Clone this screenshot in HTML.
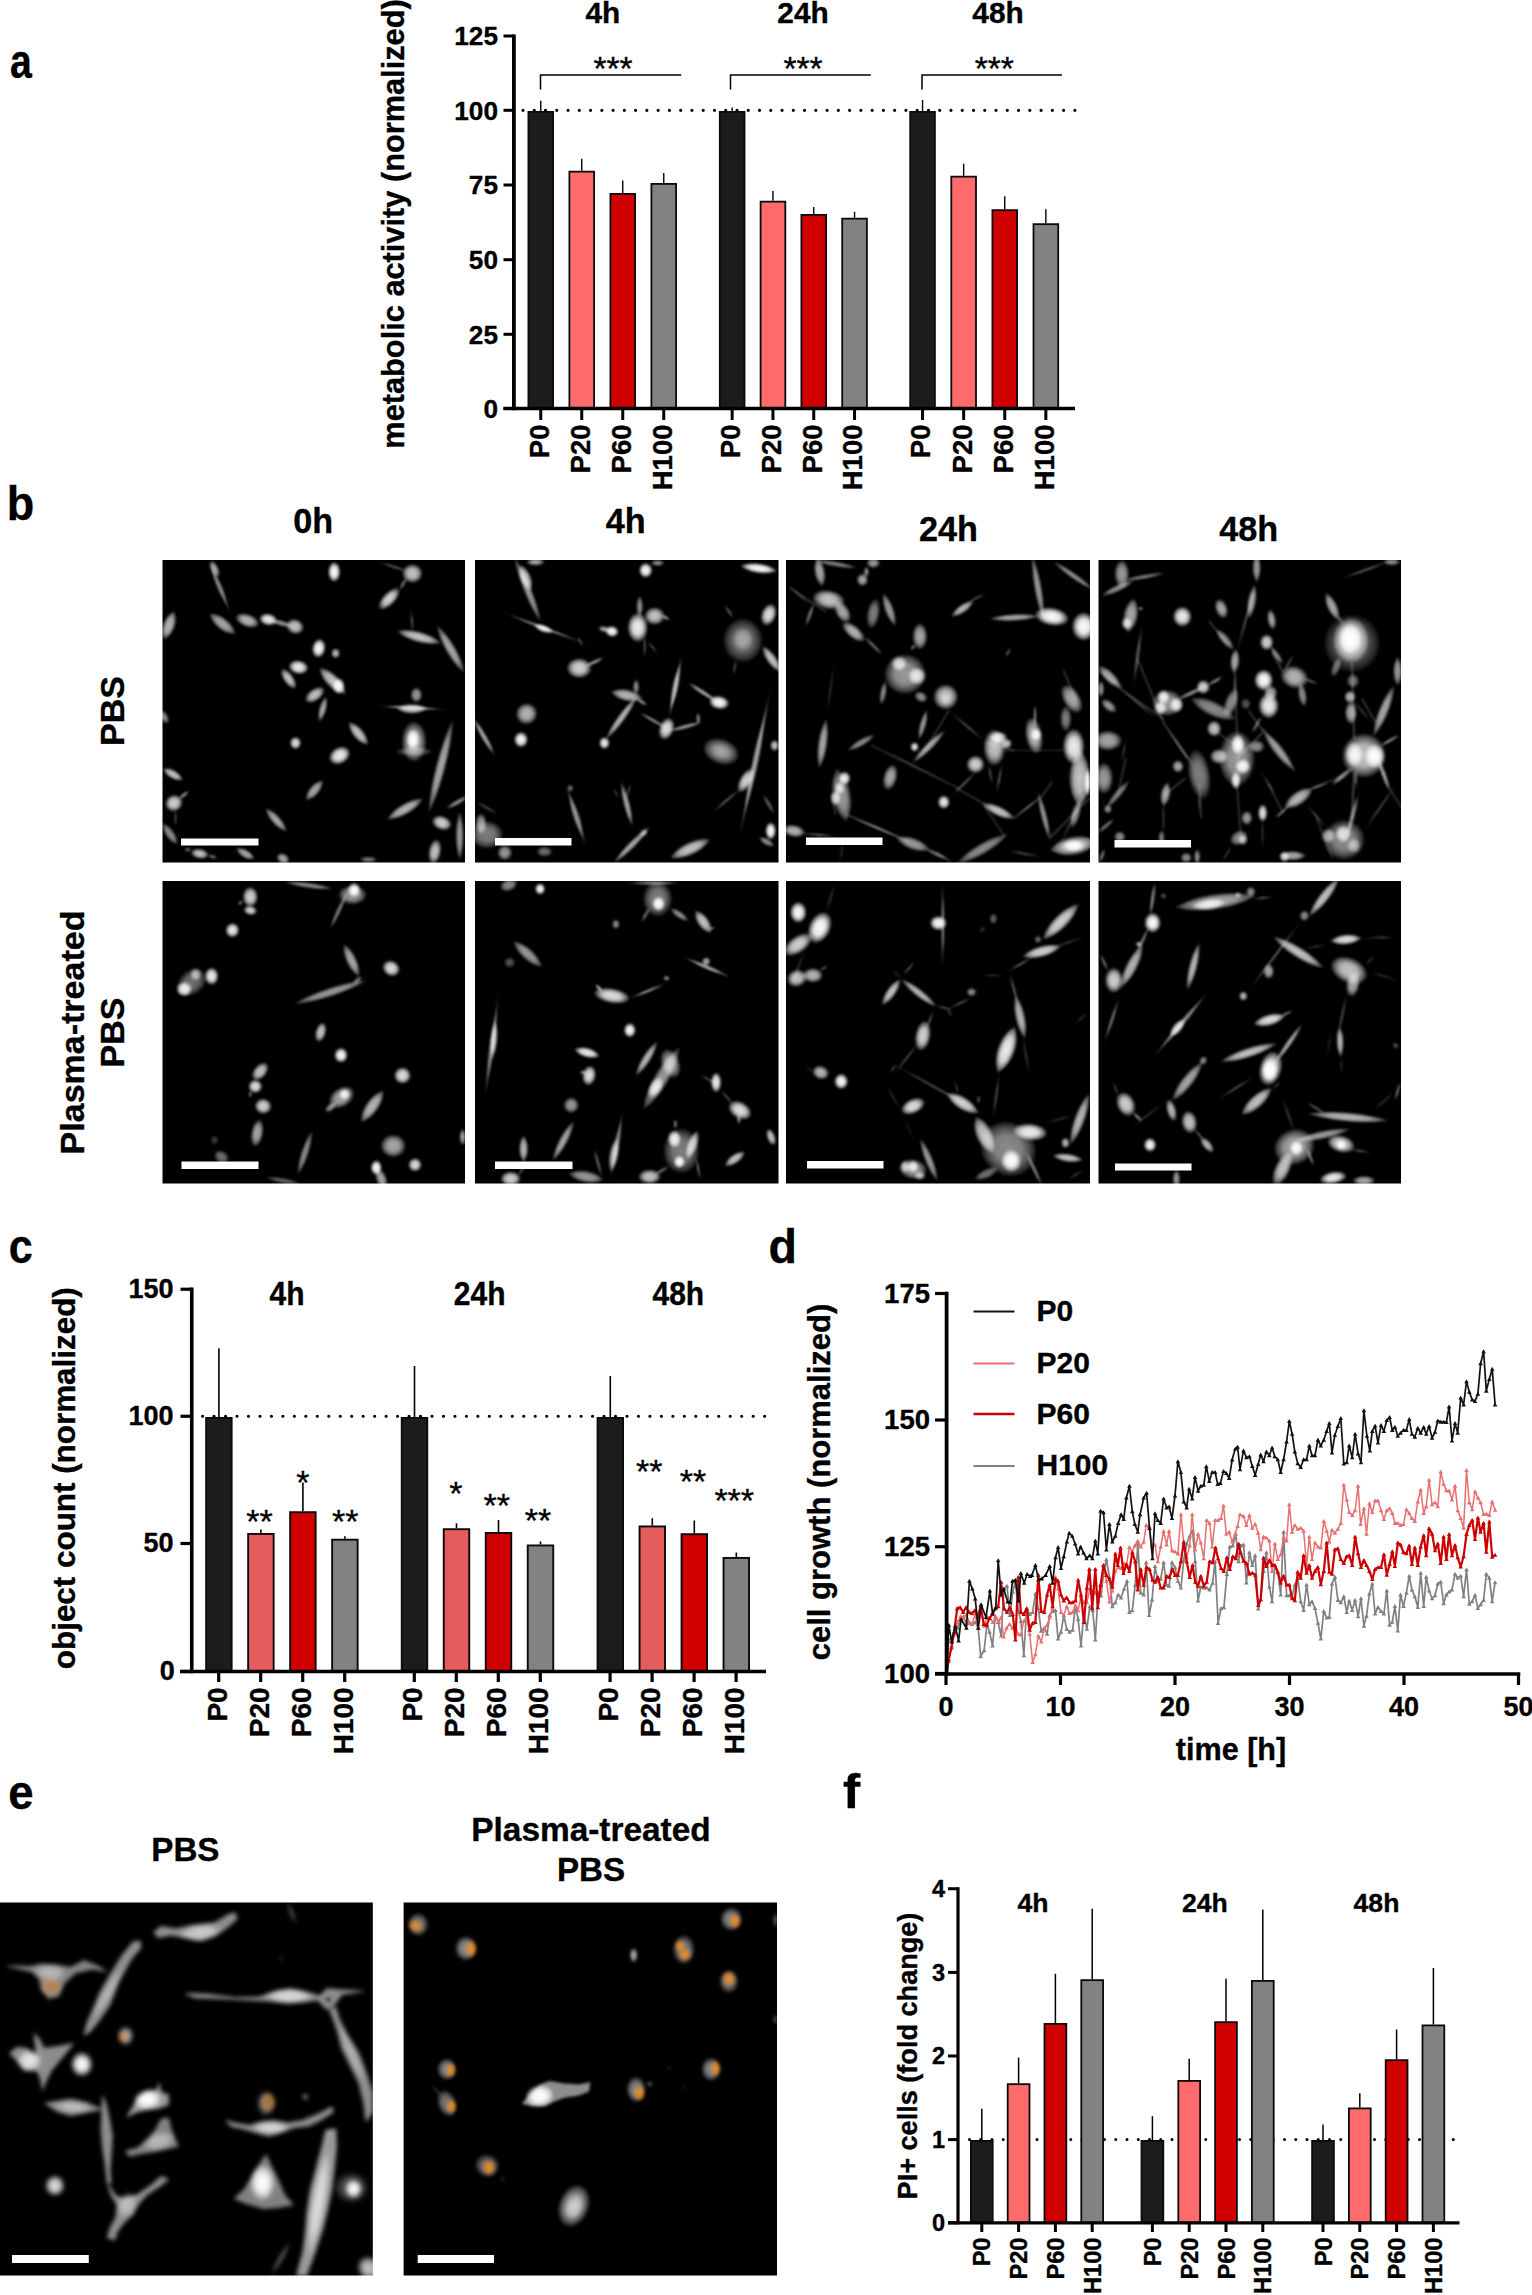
<!DOCTYPE html>
<html><head><meta charset="utf-8"><title>Figure</title>
<style>html,body{margin:0;padding:0;background:#fff}svg{display:block}text{font-family:"Liberation Sans",sans-serif;fill:#000;stroke:#000;stroke-width:0.35px;stroke-linejoin:round}</style></head><body>
<svg width="1532" height="2295" viewBox="0 0 1532 2295">
<rect width="1532" height="2295" fill="#fff"/>
<defs><radialGradient id="cg"><stop offset="0" stop-color="#fff" stop-opacity="1"/><stop offset="0.5" stop-color="#fff" stop-opacity="0.9"/><stop offset="0.8" stop-color="#fff" stop-opacity="0.5"/><stop offset="1" stop-color="#fff" stop-opacity="0.12"/></radialGradient><radialGradient id="og"><stop offset="0" stop-color="#f09a30" stop-opacity="0.9"/><stop offset="0.6" stop-color="#e58a24" stop-opacity="0.8"/><stop offset="1" stop-color="#d87a18" stop-opacity="0.3"/></radialGradient></defs>
<text transform="translate(10 77.5) scale(0.8 1)" x="0" y="0" font-size="49" font-weight="bold" text-anchor="start">a</text>
<text x="403.5" y="224" font-size="30.75" font-weight="bold" text-anchor="middle" transform="rotate(-90 403.5 224)" >metabolic activity (normalized)</text>
<line x1="503.5" y1="36" x2="513.9" y2="36" stroke="#000" stroke-width="3" />
<text x="498" y="45.3" font-size="26.2" font-weight="bold" text-anchor="end" >125</text>
<line x1="503.5" y1="110.3" x2="513.9" y2="110.3" stroke="#000" stroke-width="3" />
<text x="498" y="119.6" font-size="26.2" font-weight="bold" text-anchor="end" >100</text>
<line x1="503.5" y1="185" x2="513.9" y2="185" stroke="#000" stroke-width="3" />
<text x="498" y="194.3" font-size="26.2" font-weight="bold" text-anchor="end" >75</text>
<line x1="503.5" y1="259.7" x2="513.9" y2="259.7" stroke="#000" stroke-width="3" />
<text x="498" y="269.0" font-size="26.2" font-weight="bold" text-anchor="end" >50</text>
<line x1="503.5" y1="334.3" x2="513.9" y2="334.3" stroke="#000" stroke-width="3" />
<text x="498" y="343.6" font-size="26.2" font-weight="bold" text-anchor="end" >25</text>
<line x1="503.5" y1="408.5" x2="513.9" y2="408.5" stroke="#000" stroke-width="3" />
<text x="498" y="417.8" font-size="26.2" font-weight="bold" text-anchor="end" >0</text>
<line x1="523" y1="110.3" x2="1075.5" y2="110.3" stroke="#000" stroke-width="3.2" stroke-linecap="round" stroke-dasharray="0 11.2625"/>
<line x1="540.75" y1="100.75" x2="540.75" y2="111.00" stroke="#000" stroke-width="1.4" />
<rect x="528.40" y="111.90" width="24.70" height="296.60" fill="#1c1c1c" stroke="#0a0a0a" stroke-width="1.8"/>
<line x1="581.75" y1="158.75" x2="581.75" y2="170.75" stroke="#000" stroke-width="1.4" />
<rect x="569.40" y="171.65" width="24.70" height="236.85" fill="#ff6b6b" stroke="#0a0a0a" stroke-width="1.8"/>
<line x1="622.75" y1="180.50" x2="622.75" y2="193.00" stroke="#000" stroke-width="1.4" />
<rect x="610.40" y="193.90" width="24.70" height="214.60" fill="#d00000" stroke="#0a0a0a" stroke-width="1.8"/>
<line x1="663.75" y1="173.00" x2="663.75" y2="183.00" stroke="#000" stroke-width="1.4" />
<rect x="651.40" y="183.90" width="24.70" height="224.60" fill="#828282" stroke="#0a0a0a" stroke-width="1.8"/>
<line x1="732.15" y1="107.50" x2="732.15" y2="111.00" stroke="#000" stroke-width="1.4" />
<rect x="719.80" y="111.90" width="24.70" height="296.60" fill="#1c1c1c" stroke="#0a0a0a" stroke-width="1.8"/>
<line x1="772.95" y1="191.00" x2="772.95" y2="200.75" stroke="#000" stroke-width="1.4" />
<rect x="760.60" y="201.65" width="24.70" height="206.85" fill="#ff6b6b" stroke="#0a0a0a" stroke-width="1.8"/>
<line x1="813.75" y1="207.00" x2="813.75" y2="214.00" stroke="#000" stroke-width="1.4" />
<rect x="801.40" y="214.90" width="24.70" height="193.60" fill="#d00000" stroke="#0a0a0a" stroke-width="1.8"/>
<line x1="854.55" y1="211.75" x2="854.55" y2="217.75" stroke="#000" stroke-width="1.4" />
<rect x="842.20" y="218.65" width="24.70" height="189.85" fill="#828282" stroke="#0a0a0a" stroke-width="1.8"/>
<line x1="922.55" y1="100.00" x2="922.55" y2="111.00" stroke="#000" stroke-width="1.4" />
<rect x="910.20" y="111.90" width="24.70" height="296.60" fill="#1c1c1c" stroke="#0a0a0a" stroke-width="1.8"/>
<line x1="963.65" y1="163.75" x2="963.65" y2="175.75" stroke="#000" stroke-width="1.4" />
<rect x="951.30" y="176.65" width="24.70" height="231.85" fill="#ff6b6b" stroke="#0a0a0a" stroke-width="1.8"/>
<line x1="1004.75" y1="196.25" x2="1004.75" y2="209.25" stroke="#000" stroke-width="1.4" />
<rect x="992.40" y="210.15" width="24.70" height="198.35" fill="#d00000" stroke="#0a0a0a" stroke-width="1.8"/>
<line x1="1045.85" y1="209.25" x2="1045.85" y2="223.25" stroke="#000" stroke-width="1.4" />
<rect x="1033.50" y="224.15" width="24.70" height="184.35" fill="#828282" stroke="#0a0a0a" stroke-width="1.8"/>
<line x1="513.9" y1="34.4" x2="513.9" y2="410.2" stroke="#000" stroke-width="3.8" />
<line x1="503.5" y1="408.5" x2="1075" y2="408.5" stroke="#000" stroke-width="3.5" />
<line x1="540.75" y1="408.5" x2="540.75" y2="420" stroke="#000" stroke-width="3" />
<text x="548.65" y="424.5" font-size="27.5" font-weight="bold" text-anchor="end" transform="rotate(-90 548.65 424.5)" >P0</text>
<line x1="581.75" y1="408.5" x2="581.75" y2="420" stroke="#000" stroke-width="3" />
<text x="589.65" y="424.5" font-size="27.5" font-weight="bold" text-anchor="end" transform="rotate(-90 589.65 424.5)" >P20</text>
<line x1="622.75" y1="408.5" x2="622.75" y2="420" stroke="#000" stroke-width="3" />
<text x="630.65" y="424.5" font-size="27.5" font-weight="bold" text-anchor="end" transform="rotate(-90 630.65 424.5)" >P60</text>
<line x1="663.75" y1="408.5" x2="663.75" y2="420" stroke="#000" stroke-width="3" />
<text x="671.65" y="424.5" font-size="27.5" font-weight="bold" text-anchor="end" transform="rotate(-90 671.65 424.5)" >H100</text>
<line x1="732.15" y1="408.5" x2="732.15" y2="420" stroke="#000" stroke-width="3" />
<text x="740.05" y="424.5" font-size="27.5" font-weight="bold" text-anchor="end" transform="rotate(-90 740.05 424.5)" >P0</text>
<line x1="772.95" y1="408.5" x2="772.95" y2="420" stroke="#000" stroke-width="3" />
<text x="780.85" y="424.5" font-size="27.5" font-weight="bold" text-anchor="end" transform="rotate(-90 780.85 424.5)" >P20</text>
<line x1="813.75" y1="408.5" x2="813.75" y2="420" stroke="#000" stroke-width="3" />
<text x="821.65" y="424.5" font-size="27.5" font-weight="bold" text-anchor="end" transform="rotate(-90 821.65 424.5)" >P60</text>
<line x1="854.55" y1="408.5" x2="854.55" y2="420" stroke="#000" stroke-width="3" />
<text x="862.45" y="424.5" font-size="27.5" font-weight="bold" text-anchor="end" transform="rotate(-90 862.45 424.5)" >H100</text>
<line x1="922.55" y1="408.5" x2="922.55" y2="420" stroke="#000" stroke-width="3" />
<text x="930.45" y="424.5" font-size="27.5" font-weight="bold" text-anchor="end" transform="rotate(-90 930.45 424.5)" >P0</text>
<line x1="963.65" y1="408.5" x2="963.65" y2="420" stroke="#000" stroke-width="3" />
<text x="971.55" y="424.5" font-size="27.5" font-weight="bold" text-anchor="end" transform="rotate(-90 971.55 424.5)" >P20</text>
<line x1="1004.75" y1="408.5" x2="1004.75" y2="420" stroke="#000" stroke-width="3" />
<text x="1012.65" y="424.5" font-size="27.5" font-weight="bold" text-anchor="end" transform="rotate(-90 1012.65 424.5)" >P60</text>
<line x1="1045.85" y1="408.5" x2="1045.85" y2="420" stroke="#000" stroke-width="3" />
<text x="1053.75" y="424.5" font-size="27.5" font-weight="bold" text-anchor="end" transform="rotate(-90 1053.75 424.5)" >H100</text>
<text x="602.8" y="22.8" font-size="29.8" font-weight="bold" text-anchor="middle" >4h</text>
<text x="803" y="22.8" font-size="29.8" font-weight="bold" text-anchor="middle" >24h</text>
<text x="998" y="22.8" font-size="29.8" font-weight="bold" text-anchor="middle" >48h</text>
<polyline points="540.5,89.5 540.5,75 681.25,75" fill="none" stroke="#000" stroke-width="1.5"/>
<text x="613" y="79.5" font-size="33.5" font-weight="normal" text-anchor="middle" >***</text>
<polyline points="730.5,89.5 730.5,75 870.75,75" fill="none" stroke="#000" stroke-width="1.5"/>
<text x="803" y="79.5" font-size="33.5" font-weight="normal" text-anchor="middle" >***</text>
<polyline points="922,89.5 922,75 1062,75" fill="none" stroke="#000" stroke-width="1.5"/>
<text x="994.3" y="79.5" font-size="33.5" font-weight="normal" text-anchor="middle" >***</text>
<text transform="translate(6.8 520) scale(0.92 1)" x="0" y="0" font-size="49" font-weight="bold" text-anchor="start">b</text>
<text x="313.2" y="533.2" font-size="34.2" font-weight="bold" text-anchor="middle" >0h</text>
<text x="625.8" y="533.2" font-size="34.2" font-weight="bold" text-anchor="middle" >4h</text>
<text x="948.5" y="540.8" font-size="34.2" font-weight="bold" text-anchor="middle" >24h</text>
<text x="1248.7" y="540.8" font-size="34.2" font-weight="bold" text-anchor="middle" >48h</text>
<text x="124.2" y="711" font-size="34" font-weight="bold" text-anchor="middle" transform="rotate(-90 124.2 711)" >PBS</text>
<text x="83.6" y="1032.5" font-size="34" font-weight="bold" text-anchor="middle" transform="rotate(-90 83.6 1032.5)" >Plasma-treated</text>
<text x="124.2" y="1032.5" font-size="34" font-weight="bold" text-anchor="middle" transform="rotate(-90 124.2 1032.5)" >PBS</text>
<rect x="162.50" y="560.00" width="302.50" height="302.50" fill="#000"/>
<filter id="blB00" x="-5%" y="-5%" width="110%" height="110%" filterUnits="objectBoundingBox"><feGaussianBlur stdDeviation="1.1"/></filter>
<clipPath id="cpB00"><rect x="162.5" y="560" width="302.5" height="302.5"/></clipPath>
<g clip-path="url(#cpB00)"><g filter="url(#blB00)">
<path d="M-33.3,0C-13.3,0 -10.0,-2.7 0,-2.7C10.0,-2.7 13.3,0 33.3,0C13.3,0 10.0,2.7 0,2.7C-10.0,2.7 -13.3,0 -33.3,0Z" transform="translate(219.5 586.8) rotate(67.0)" fill="url(#cg)" fill-opacity="0.55"/>
<ellipse rx="8.9" ry="4.0" transform="translate(214.6 568.9) rotate(65.0)" fill="url(#cg)" fill-opacity="0.66"/>
<ellipse rx="9.9" ry="6.2" transform="translate(334.2 571.9) rotate(90.0)" fill="url(#cg)" fill-opacity="1"/>
<ellipse rx="10.0" ry="9.4" transform="translate(412.4 573.5) rotate(0.0)" fill="url(#cg)" fill-opacity="0.77"/>
<path d="M-21.1,0C-8.4,0 -6.3,-1.2 0,-1.2C6.3,-1.2 8.4,0 21.1,0C8.4,0 6.3,1.2 0,1.2C-6.3,1.2 -8.4,0 -21.1,0Z" transform="translate(394.2 566.9) rotate(18.0)" fill="url(#cg)" fill-opacity="0.44000000000000006"/>
<path d="M-7.4,0Q0,-3.6 7.4,0Q0,3.6 -7.4,0Z" transform="translate(403.1 583.8) rotate(120.0)" fill="url(#cg)" fill-opacity="0.44000000000000006"/>
<ellipse rx="13.8" ry="6.2" transform="translate(389.2 598.7) rotate(-46.0)" fill="url(#cg)" fill-opacity="0.8250000000000001"/>
<path d="M-15.4,0Q0,-12.4 15.4,0Q0,12.4 -15.4,0Z" transform="translate(168.9 625.5) rotate(110.0)" fill="url(#cg)" fill-opacity="0.7150000000000001"/>
<path d="M-16.7,0Q0,-11.9 16.7,0Q0,11.9 -16.7,0Z" transform="translate(222.5 623.9) rotate(38.0)" fill="url(#cg)" fill-opacity="0.66"/>
<ellipse rx="12.2" ry="6.4" transform="translate(247.3 620.5) rotate(20.0)" fill="url(#cg)" fill-opacity="0.7150000000000001"/>
<ellipse rx="8.9" ry="6.0" transform="translate(268.2 619.5) rotate(10.0)" fill="url(#cg)" fill-opacity="0.935"/>
<ellipse rx="8.9" ry="7.4" transform="translate(295.0 626.5) rotate(20.0)" fill="url(#cg)" fill-opacity="0.77"/>
<path d="M-13.3,0Q0,-6.0 13.3,0Q0,6.0 -13.3,0Z" transform="translate(281.1 623.1) rotate(15.0)" fill="url(#cg)" fill-opacity="0.55"/>
<ellipse rx="9.4" ry="6.7" transform="translate(318.8 648.3) rotate(100.0)" fill="url(#cg)" fill-opacity="1"/>
<ellipse rx="5.0" ry="4.4" transform="translate(335.6 653.3) rotate(90.0)" fill="url(#cg)" fill-opacity="0.7150000000000001"/>
<ellipse rx="9.8" ry="6.9" transform="translate(298.5 667.2) rotate(10.0)" fill="url(#cg)" fill-opacity="0.935"/>
<ellipse rx="11.6" ry="5.0" transform="translate(288.6 678.7) rotate(55.0)" fill="url(#cg)" fill-opacity="0.77"/>
<path d="M-18.9,0Q0,-12.9 18.9,0Q0,12.9 -18.9,0Z" transform="translate(332.7 681.0) rotate(45.0)" fill="url(#cg)" fill-opacity="0.77"/>
<ellipse rx="7.9" ry="6.2" transform="translate(338.6 686.0) rotate(90.0)" fill="url(#cg)" fill-opacity="0.935"/>
<ellipse rx="11.1" ry="6.0" transform="translate(314.8 694.9) rotate(-35.0)" fill="url(#cg)" fill-opacity="0.77"/>
<path d="M-13.3,0Q0,-7.4 13.3,0Q0,7.4 -13.3,0Z" transform="translate(322.7 709.2) rotate(-75.0)" fill="url(#cg)" fill-opacity="0.66"/>
<path d="M-23.3,0Q0,-10.9 23.3,0Q0,10.9 -23.3,0Z" transform="translate(419.0 637.0) rotate(15.0)" fill="url(#cg)" fill-opacity="0.77"/>
<path d="M-27.8,0Q0,-9.9 27.8,0Q0,9.9 -27.8,0Z" transform="translate(450.7 649.3) rotate(60.0)" fill="url(#cg)" fill-opacity="0.66"/>
<path d="M-11.2,0Q0,-2.2 11.2,0Q0,2.2 -11.2,0Z" transform="translate(412.0 621.5) rotate(85.0)" fill="url(#cg)" fill-opacity="0.385"/>
<ellipse rx="7.4" ry="5.8" transform="translate(416.4 694.9) rotate(90.0)" fill="url(#cg)" fill-opacity="0.6050000000000001"/>
<path d="M-38.9,0C-15.6,0 -11.7,-2.2 0,-2.2C11.7,-2.2 15.6,0 38.9,0C15.6,0 11.7,2.2 0,2.2C-11.7,2.2 -15.6,0 -38.9,0Z" transform="translate(411.6 707.8) rotate(3.0)" fill="url(#cg)" fill-opacity="0.6050000000000001"/>
<path d="M-15.6,0Q0,-9.9 15.6,0Q0,9.9 -15.6,0Z" transform="translate(412.0 708.8) rotate(0.0)" fill="url(#cg)" fill-opacity="0.77"/>
<ellipse rx="19.8" ry="12.2" transform="translate(414.0 741.6) rotate(90.0)" fill="url(#cg)" fill-opacity="0.66"/>
<ellipse rx="10.4" ry="6.7" transform="translate(413.0 739.6) rotate(90.0)" fill="url(#cg)" fill-opacity="0.9900000000000001"/>
<path d="M-18.9,0Q0,-9.9 18.9,0Q0,9.9 -18.9,0Z" transform="translate(414.0 751.5) rotate(0.0)" fill="url(#cg)" fill-opacity="0.33"/>
<path d="M-48.9,0Q0,-9.9 48.9,0Q0,9.9 -48.9,0Z" transform="translate(440.8 766.4) rotate(-75.5)" fill="url(#cg)" fill-opacity="0.66"/>
<path d="M-15.1,0Q0,-10.9 15.1,0Q0,10.9 -15.1,0Z" transform="translate(358.4 733.6) rotate(50.0)" fill="url(#cg)" fill-opacity="0.77"/>
<ellipse rx="6.2" ry="5.6" transform="translate(295.5 743.0) rotate(90.0)" fill="url(#cg)" fill-opacity="0.8800000000000001"/>
<ellipse rx="11.1" ry="8.2" transform="translate(339.6 755.5) rotate(-30.0)" fill="url(#cg)" fill-opacity="0.935"/>
<path d="M-13.3,0Q0,-9.9 13.3,0Q0,9.9 -13.3,0Z" transform="translate(314.4 790.2) rotate(-50.0)" fill="url(#cg)" fill-opacity="0.66"/>
<path d="M-11.6,0Q0,-8.9 11.6,0Q0,8.9 -11.6,0Z" transform="translate(172.9 774.3) rotate(30.0)" fill="url(#cg)" fill-opacity="0.77"/>
<ellipse rx="8.9" ry="8.2" transform="translate(173.9 803.1) rotate(-30.0)" fill="url(#cg)" fill-opacity="0.8250000000000001"/>
<path d="M-6.7,0Q0,-4.0 6.7,0Q0,4.0 -6.7,0Z" transform="translate(183.8 795.1) rotate(-40.0)" fill="url(#cg)" fill-opacity="0.55"/>
<path d="M-7.4,0Q0,-2.2 7.4,0Q0,2.2 -7.4,0Z" transform="translate(175.5 818.0) rotate(90.0)" fill="url(#cg)" fill-opacity="0.44000000000000006"/>
<path d="M-16.0,0Q0,-8.9 16.0,0Q0,8.9 -16.0,0Z" transform="translate(276.1 819.9) rotate(48.0)" fill="url(#cg)" fill-opacity="0.66"/>
<path d="M-21.1,0Q0,-10.9 21.1,0Q0,10.9 -21.1,0Z" transform="translate(405.1 809.0) rotate(-30.0)" fill="url(#cg)" fill-opacity="0.7150000000000001"/>
<ellipse rx="10.0" ry="6.9" transform="translate(441.8 822.9) rotate(20.0)" fill="url(#cg)" fill-opacity="0.8250000000000001"/>
<path d="M-24.8,0Q0,-8.0 24.8,0Q0,8.0 -24.8,0Z" transform="translate(459.7 835.8) rotate(90.0)" fill="url(#cg)" fill-opacity="0.6050000000000001"/>
<ellipse rx="12.4" ry="6.2" transform="translate(434.8 851.7) rotate(100.0)" fill="url(#cg)" fill-opacity="0.77"/>
<ellipse rx="8.9" ry="5.0" transform="translate(199.7 853.7) rotate(10.0)" fill="url(#cg)" fill-opacity="0.77"/>
<path d="M-10.7,0Q0,-8.4 10.7,0Q0,8.4 -10.7,0Z" transform="translate(245.3 853.7) rotate(30.0)" fill="url(#cg)" fill-opacity="0.66"/>
<ellipse rx="6.7" ry="5.0" transform="translate(283.0 858.6) rotate(30.0)" fill="url(#cg)" fill-opacity="0.66"/>
<path d="M-8.9,0Q0,-6.9 8.9,0Q0,6.9 -8.9,0Z" transform="translate(368.4 859.6) rotate(0.0)" fill="url(#cg)" fill-opacity="0.44000000000000006"/>
<path d="M-13.3,0Q0,-8.9 13.3,0Q0,8.9 -13.3,0Z" transform="translate(169.9 833.8) rotate(55.0)" fill="url(#cg)" fill-opacity="0.55"/>
<ellipse rx="7.4" ry="4.0" transform="translate(164.0 716.8) rotate(60.0)" fill="url(#cg)" fill-opacity="0.55"/>
<path d="M-13.3,0Q0,-5.0 13.3,0Q0,5.0 -13.3,0Z" transform="translate(457.7 802.1) rotate(-30.0)" fill="url(#cg)" fill-opacity="0.55"/>
<ellipse rx="4.4" ry="2.0" transform="translate(212.6 856.7) rotate(20.0)" fill="url(#cg)" fill-opacity="0.44000000000000006"/>
<ellipse rx="3.3" ry="2.0" transform="translate(187.8 849.7) rotate(0.0)" fill="url(#cg)" fill-opacity="0.44000000000000006"/>
</g></g>
<rect x="181.00" y="838.50" width="77.50" height="7.00" fill="#fff"/>
<rect x="475.00" y="560.00" width="303.50" height="302.50" fill="#000"/>
<filter id="blB01" x="-5%" y="-5%" width="110%" height="110%" filterUnits="objectBoundingBox"><feGaussianBlur stdDeviation="1.1"/></filter>
<clipPath id="cpB01"><rect x="475" y="560" width="303.5" height="302.5"/></clipPath>
<g clip-path="url(#cpB01)"><g filter="url(#blB01)">
<path d="M-35.6,0Q0,-7.9 35.6,0Q0,7.9 -35.6,0Z" transform="translate(527.6 589.8) rotate(68.0)" fill="url(#cg)" fill-opacity="0.6050000000000001"/>
<path d="M-14.4,0Q0,-10.9 14.4,0Q0,10.9 -14.4,0Z" transform="translate(525.6 577.9) rotate(68.0)" fill="url(#cg)" fill-opacity="0.77"/>
<path d="M-53.3,0C-21.3,0 -16.0,-1.5 0,-1.5C16.0,-1.5 21.3,0 53.3,0C21.3,0 16.0,1.5 0,1.5C-16.0,1.5 -21.3,0 -53.3,0Z" transform="translate(542.5 627.5) rotate(20.5)" fill="url(#cg)" fill-opacity="0.55"/>
<path d="M-10.7,0Q0,-7.4 10.7,0Q0,7.4 -10.7,0Z" transform="translate(543.5 628.5) rotate(20.0)" fill="url(#cg)" fill-opacity="0.935"/>
<path d="M-5.6,0Q0,-2.0 5.6,0Q0,2.0 -5.6,0Z" transform="translate(580.2 641.4) rotate(60.0)" fill="url(#cg)" fill-opacity="0.44000000000000006"/>
<ellipse rx="8.9" ry="3.7" transform="translate(535.5 562.0) rotate(0.0)" fill="url(#cg)" fill-opacity="0.66"/>
<ellipse rx="7.4" ry="6.7" transform="translate(645.7 570.3) rotate(90.0)" fill="url(#cg)" fill-opacity="1"/>
<path d="M-18.9,0Q0,-9.9 18.9,0Q0,9.9 -18.9,0Z" transform="translate(758.8 568.3) rotate(8.0)" fill="url(#cg)" fill-opacity="1"/>
<ellipse rx="6.7" ry="3.0" transform="translate(657.6 563.0) rotate(0.0)" fill="url(#cg)" fill-opacity="0.55"/>
<ellipse rx="14.4" ry="10.0" transform="translate(637.7 627.5) rotate(90.0)" fill="url(#cg)" fill-opacity="0.935"/>
<ellipse rx="10.0" ry="8.7" transform="translate(654.6 616.0) rotate(0.0)" fill="url(#cg)" fill-opacity="0.77"/>
<path d="M-11.2,0Q0,-6.7 11.2,0Q0,6.7 -11.2,0Z" transform="translate(639.7 606.6) rotate(90.0)" fill="url(#cg)" fill-opacity="0.55"/>
<path d="M-11.2,0Q0,-2.2 11.2,0Q0,2.2 -11.2,0Z" transform="translate(644.7 646.3) rotate(90.0)" fill="url(#cg)" fill-opacity="0.44000000000000006"/>
<path d="M-4.9,0Q0,-4.0 4.9,0Q0,4.0 -4.9,0Z" transform="translate(665.5 617.5) rotate(30.0)" fill="url(#cg)" fill-opacity="0.55"/>
<path d="M-7.8,0Q0,-2.0 7.8,0Q0,2.0 -7.8,0Z" transform="translate(652.6 647.3) rotate(50.0)" fill="url(#cg)" fill-opacity="0.385"/>
<ellipse rx="6.7" ry="5.5" transform="translate(611.9 631.4) rotate(10.0)" fill="url(#cg)" fill-opacity="0.9900000000000001"/>
<ellipse rx="5.6" ry="3.0" transform="translate(604.0 629.1) rotate(10.0)" fill="url(#cg)" fill-opacity="0.66"/>
<ellipse rx="21.8" ry="19.6" transform="translate(742.9 640.4) rotate(90.0)" fill="url(#cg)" fill-opacity="0.44000000000000006"/>
<ellipse rx="11.2" ry="10.0" transform="translate(742.9 639.4) rotate(90.0)" fill="url(#cg)" fill-opacity="0.385"/>
<ellipse rx="11.2" ry="7.3" transform="translate(768.7 614.6) rotate(110.0)" fill="url(#cg)" fill-opacity="0.8800000000000001"/>
<path d="M-7.8,0Q0,-3.0 7.8,0Q0,3.0 -7.8,0Z" transform="translate(729.0 611.6) rotate(55.0)" fill="url(#cg)" fill-opacity="0.385"/>
<path d="M-16.1,0Q0,-9.8 16.1,0Q0,9.8 -16.1,0Z" transform="translate(771.7 659.2) rotate(55.0)" fill="url(#cg)" fill-opacity="0.77"/>
<path d="M-7.4,0Q0,-2.7 7.4,0Q0,2.7 -7.4,0Z" transform="translate(734.9 667.2) rotate(100.0)" fill="url(#cg)" fill-opacity="0.33"/>
<ellipse rx="12.2" ry="9.9" transform="translate(579.2 668.1) rotate(0.0)" fill="url(#cg)" fill-opacity="0.8250000000000001"/>
<path d="M-11.1,0Q0,-4.0 11.1,0Q0,4.0 -11.1,0Z" transform="translate(594.1 662.2) rotate(-25.0)" fill="url(#cg)" fill-opacity="0.6050000000000001"/>
<path d="M-36.7,0C-14.7,0 -11.0,-3.0 0,-3.0C11.0,-3.0 14.7,0 36.7,0C14.7,0 11.0,3.0 0,3.0C-11.0,3.0 -14.7,0 -36.7,0Z" transform="translate(675.4 687.0) rotate(-78.5)" fill="url(#cg)" fill-opacity="0.77"/>
<path d="M-16.7,0Q0,-11.9 16.7,0Q0,11.9 -16.7,0Z" transform="translate(626.8 695.3) rotate(12.0)" fill="url(#cg)" fill-opacity="0.7150000000000001"/>
<ellipse rx="7.4" ry="3.1" transform="translate(636.1 687.0) rotate(90.0)" fill="url(#cg)" fill-opacity="0.55"/>
<path d="M-6.7,0Q0,-4.0 6.7,0Q0,4.0 -6.7,0Z" transform="translate(641.7 701.9) rotate(30.0)" fill="url(#cg)" fill-opacity="0.55"/>
<path d="M-27.1,0Q0,-7.4 27.1,0Q0,7.4 -27.1,0Z" transform="translate(621.4 717.8) rotate(-54.0)" fill="url(#cg)" fill-opacity="0.7150000000000001"/>
<ellipse rx="6.0" ry="5.3" transform="translate(604.4 743.0) rotate(90.0)" fill="url(#cg)" fill-opacity="0.935"/>
<ellipse rx="10.0" ry="6.7" transform="translate(719.1 702.5) rotate(10.0)" fill="url(#cg)" fill-opacity="1"/>
<path d="M-18.9,0Q0,-4.5 18.9,0Q0,4.5 -18.9,0Z" transform="translate(703.2 692.6) rotate(33.0)" fill="url(#cg)" fill-opacity="0.66"/>
<ellipse rx="10.7" ry="10.4" transform="translate(526.6 713.8) rotate(-30.0)" fill="url(#cg)" fill-opacity="0.7150000000000001"/>
<ellipse rx="7.7" ry="6.9" transform="translate(521.0 739.6) rotate(90.0)" fill="url(#cg)" fill-opacity="0.9900000000000001"/>
<path d="M-22.2,0Q0,-5.5 22.2,0Q0,5.5 -22.2,0Z" transform="translate(483.9 736.6) rotate(60.0)" fill="url(#cg)" fill-opacity="0.66"/>
<ellipse rx="11.2" ry="7.3" transform="translate(666.5 728.7) rotate(110.0)" fill="url(#cg)" fill-opacity="0.8800000000000001"/>
<path d="M-16.7,0Q0,-3.5 16.7,0Q0,3.5 -16.7,0Z" transform="translate(653.6 720.7) rotate(30.0)" fill="url(#cg)" fill-opacity="0.55"/>
<path d="M-17.8,0Q0,-4.5 17.8,0Q0,4.5 -17.8,0Z" transform="translate(685.3 726.7) rotate(-15.0)" fill="url(#cg)" fill-opacity="0.6050000000000001"/>
<path d="M-6.2,0Q0,-4.0 6.2,0Q0,4.0 -6.2,0Z" transform="translate(698.2 718.7) rotate(90.0)" fill="url(#cg)" fill-opacity="0.55"/>
<ellipse rx="18.2" ry="12.4" transform="translate(721.1 751.5) rotate(20.0)" fill="url(#cg)" fill-opacity="0.55"/>
<ellipse rx="10.0" ry="6.2" transform="translate(721.1 751.5) rotate(20.0)" fill="url(#cg)" fill-opacity="0.22000000000000003"/>
<path d="M-84.5,0C-33.8,0 -25.3,-3.2 0,-3.2C25.3,-3.2 33.8,0 84.5,0C33.8,0 25.3,3.2 0,3.2C-25.3,3.2 -33.8,0 -84.5,0Z" transform="translate(755.2 762.4) rotate(-78.2)" fill="url(#cg)" fill-opacity="0.66"/>
<ellipse rx="13.3" ry="6.0" transform="translate(745.9 780.3) rotate(-60.0)" fill="url(#cg)" fill-opacity="0.8250000000000001"/>
<path d="M-24.4,0C-9.8,0 -7.3,-1.2 0,-1.2C7.3,-1.2 9.8,0 24.4,0C9.8,0 7.3,1.2 0,1.2C-7.3,1.2 -9.8,0 -24.4,0Z" transform="translate(727.0 800.1) rotate(-40.0)" fill="url(#cg)" fill-opacity="0.44000000000000006"/>
<ellipse rx="5.5" ry="4.4" transform="translate(774.6 745.5) rotate(90.0)" fill="url(#cg)" fill-opacity="0.77"/>
<path d="M-36.0,0C-14.4,0 -10.8,-3.2 0,-3.2C10.8,-3.2 14.4,0 36.0,0C14.4,0 10.8,3.2 0,3.2C-10.8,3.2 -14.4,0 -36.0,0Z" transform="translate(576.2 816.0) rotate(72.0)" fill="url(#cg)" fill-opacity="0.6050000000000001"/>
<ellipse rx="3.5" ry="3.1" transform="translate(570.2 788.2) rotate(90.0)" fill="url(#cg)" fill-opacity="0.44000000000000006"/>
<path d="M-23.3,0Q0,-6.4 23.3,0Q0,6.4 -23.3,0Z" transform="translate(626.8 804.1) rotate(76.0)" fill="url(#cg)" fill-opacity="0.66"/>
<path d="M-9.9,0C-4.0,0 -3.0,-0.9 0,-0.9C3.0,-0.9 4.0,0 9.9,0C4.0,0 3.0,0.9 0,0.9C-3.0,0.9 -4.0,0 -9.9,0Z" transform="translate(628.8 790.2) rotate(105.0)" fill="url(#cg)" fill-opacity="0.44000000000000006"/>
<path d="M-6.2,0Q0,-1.8 6.2,0Q0,1.8 -6.2,0Z" transform="translate(615.9 793.2) rotate(60.0)" fill="url(#cg)" fill-opacity="0.33"/>
<ellipse rx="16.0" ry="13.6" transform="translate(486.9 834.8) rotate(0.0)" fill="url(#cg)" fill-opacity="0.49500000000000005"/>
<ellipse rx="10.4" ry="5.6" transform="translate(481.0 823.9) rotate(90.0)" fill="url(#cg)" fill-opacity="0.6050000000000001"/>
<path d="M-13.3,0Q0,-2.5 13.3,0Q0,2.5 -13.3,0Z" transform="translate(486.9 808.0) rotate(30.0)" fill="url(#cg)" fill-opacity="0.33"/>
<ellipse rx="7.4" ry="7.3" transform="translate(504.8 852.7) rotate(90.0)" fill="url(#cg)" fill-opacity="0.6050000000000001"/>
<ellipse rx="7.8" ry="5.0" transform="translate(544.5 851.7) rotate(0.0)" fill="url(#cg)" fill-opacity="0.44000000000000006"/>
<path d="M-26.7,0Q0,-6.9 26.7,0Q0,6.9 -26.7,0Z" transform="translate(631.8 844.8) rotate(-45.0)" fill="url(#cg)" fill-opacity="0.66"/>
<ellipse rx="4.4" ry="3.5" transform="translate(643.7 832.8) rotate(-45.0)" fill="url(#cg)" fill-opacity="0.55"/>
<path d="M-22.2,0Q0,-12.9 22.2,0Q0,12.9 -22.2,0Z" transform="translate(690.3 848.7) rotate(-25.0)" fill="url(#cg)" fill-opacity="0.77"/>
<ellipse rx="8.7" ry="5.3" transform="translate(770.7 830.9) rotate(90.0)" fill="url(#cg)" fill-opacity="1"/>
<path d="M-8.9,0Q0,-6.9 8.9,0Q0,6.9 -8.9,0Z" transform="translate(766.7 841.8) rotate(30.0)" fill="url(#cg)" fill-opacity="0.55"/>
<path d="M-11.1,0Q0,-4.0 11.1,0Q0,4.0 -11.1,0Z" transform="translate(768.7 804.1) rotate(60.0)" fill="url(#cg)" fill-opacity="0.385"/>
</g></g>
<rect x="495.00" y="838.00" width="76.50" height="7.50" fill="#fff"/>
<rect x="786.00" y="560.00" width="304.00" height="302.50" fill="#000"/>
<filter id="blB02" x="-5%" y="-5%" width="110%" height="110%" filterUnits="objectBoundingBox"><feGaussianBlur stdDeviation="1.1"/></filter>
<clipPath id="cpB02"><rect x="786" y="560" width="304" height="302.5"/></clipPath>
<g clip-path="url(#cpB02)"><g filter="url(#blB02)">
<line x1="790.0" y1="587.8" x2="825.7" y2="611.6" stroke="#fff" stroke-opacity="0.3" stroke-width="1.2" stroke-linecap="round"/>
<line x1="948.7" y1="710.8" x2="924.9" y2="750.5" stroke="#fff" stroke-opacity="0.3" stroke-width="1.2" stroke-linecap="round"/>
<line x1="871.3" y1="745.5" x2="958.6" y2="788.2" stroke="#fff" stroke-opacity="0.25" stroke-width="1.2" stroke-linecap="round"/>
<line x1="986.4" y1="742.6" x2="1014.2" y2="750.5" stroke="#fff" stroke-opacity="0.3" stroke-width="1.2" stroke-linecap="round"/>
<line x1="1004.3" y1="750.5" x2="1063.8" y2="750.5" stroke="#fff" stroke-opacity="0.2" stroke-width="1" stroke-linecap="round"/>
<line x1="845.5" y1="814.0" x2="909.0" y2="841.8" stroke="#fff" stroke-opacity="0.3" stroke-width="1.3" stroke-linecap="round"/>
<line x1="956.7" y1="788.2" x2="984.4" y2="804.1" stroke="#fff" stroke-opacity="0.3" stroke-width="1.2" stroke-linecap="round"/>
<line x1="1014.2" y1="818.0" x2="1042.0" y2="796.1" stroke="#fff" stroke-opacity="0.3" stroke-width="1.2" stroke-linecap="round"/>
<line x1="1042.0" y1="796.1" x2="1051.9" y2="782.2" stroke="#fff" stroke-opacity="0.3" stroke-width="1.2" stroke-linecap="round"/>
<line x1="1063.8" y1="671.1" x2="1075.7" y2="698.9" stroke="#fff" stroke-opacity="0.3" stroke-width="1.2" stroke-linecap="round"/>
<line x1="1049.9" y1="837.8" x2="1089.6" y2="798.1" stroke="#fff" stroke-opacity="0.3" stroke-width="1.3" stroke-linecap="round"/>
<line x1="1004.3" y1="835.8" x2="984.4" y2="806.1" stroke="#fff" stroke-opacity="0.25" stroke-width="1.2" stroke-linecap="round"/>
<line x1="835.6" y1="814.0" x2="831.6" y2="794.2" stroke="#fff" stroke-opacity="0.3" stroke-width="1.2" stroke-linecap="round"/>
<line x1="936.8" y1="853.7" x2="950.7" y2="861.6" stroke="#fff" stroke-opacity="0.3" stroke-width="1.2" stroke-linecap="round"/>
<ellipse rx="16.0" ry="9.4" transform="translate(828.7 599.7) rotate(10.0)" fill="url(#cg)" fill-opacity="0.77"/>
<path d="M-14.9,0Q0,-10.7 14.9,0Q0,10.7 -14.9,0Z" transform="translate(819.7 571.9) rotate(80.0)" fill="url(#cg)" fill-opacity="0.66"/>
<path d="M-12.4,0Q0,-4.4 12.4,0Q0,4.4 -12.4,0Z" transform="translate(809.8 614.6) rotate(110.0)" fill="url(#cg)" fill-opacity="0.44000000000000006"/>
<ellipse rx="11.4" ry="6.7" transform="translate(842.6 612.0) rotate(60.0)" fill="url(#cg)" fill-opacity="0.66"/>
<path d="M-22.2,0Q0,-5.5 22.2,0Q0,5.5 -22.2,0Z" transform="translate(835.6 564.0) rotate(10.0)" fill="url(#cg)" fill-opacity="0.49500000000000005"/>
<path d="M-17.8,0C-7.1,0 -5.3,-1.0 0,-1.0C5.3,-1.0 7.1,0 17.8,0C7.1,0 5.3,1.0 0,1.0C-5.3,1.0 -7.1,0 -17.8,0Z" transform="translate(799.9 595.7) rotate(40.0)" fill="url(#cg)" fill-opacity="0.33"/>
<ellipse rx="13.8" ry="6.0" transform="translate(853.5 631.8) rotate(40.0)" fill="url(#cg)" fill-opacity="0.7150000000000001"/>
<path d="M-13.3,0Q0,-3.5 13.3,0Q0,3.5 -13.3,0Z" transform="translate(873.3 645.7) rotate(45.0)" fill="url(#cg)" fill-opacity="0.44000000000000006"/>
<ellipse rx="6.2" ry="5.6" transform="translate(862.4 579.8) rotate(90.0)" fill="url(#cg)" fill-opacity="0.66"/>
<ellipse rx="6.7" ry="5.0" transform="translate(873.3 563.0) rotate(0.0)" fill="url(#cg)" fill-opacity="0.6050000000000001"/>
<ellipse rx="5.0" ry="2.7" transform="translate(866.4 571.9) rotate(90.0)" fill="url(#cg)" fill-opacity="0.55"/>
<ellipse rx="14.9" ry="6.2" transform="translate(873.3 613.6) rotate(100.0)" fill="url(#cg)" fill-opacity="0.49500000000000005"/>
<path d="M-17.9,0Q0,-8.9 17.9,0Q0,8.9 -17.9,0Z" transform="translate(889.2 609.6) rotate(70.0)" fill="url(#cg)" fill-opacity="0.6050000000000001"/>
<path d="M-13.8,0Q0,-8.4 13.8,0Q0,8.4 -13.8,0Z" transform="translate(962.6 608.6) rotate(-35.0)" fill="url(#cg)" fill-opacity="0.7150000000000001"/>
<path d="M-13.3,0C-5.3,0 -4.0,-1.0 0,-1.0C4.0,-1.0 5.3,0 13.3,0C5.3,0 4.0,1.0 0,1.0C-4.0,1.0 -5.3,0 -13.3,0Z" transform="translate(976.5 598.1) rotate(-25.0)" fill="url(#cg)" fill-opacity="0.44000000000000006"/>
<ellipse rx="12.9" ry="7.3" transform="translate(919.9 636.4) rotate(90.0)" fill="url(#cg)" fill-opacity="0.66"/>
<ellipse rx="3.3" ry="2.0" transform="translate(913.0 647.3) rotate(-50.0)" fill="url(#cg)" fill-opacity="0.44000000000000006"/>
<ellipse rx="16.7" ry="8.9" transform="translate(1051.9 616.6) rotate(10.0)" fill="url(#cg)" fill-opacity="0.9900000000000001"/>
<path d="M-25.6,0Q0,-6.9 25.6,0Q0,6.9 -25.6,0Z" transform="translate(1014.2 617.5) rotate(-3.0)" fill="url(#cg)" fill-opacity="0.66"/>
<path d="M-33.5,0Q0,-7.6 33.5,0Q0,7.6 -33.5,0Z" transform="translate(1038.0 587.8) rotate(80.0)" fill="url(#cg)" fill-opacity="0.6050000000000001"/>
<ellipse rx="13.9" ry="11.6" transform="translate(1083.7 626.5) rotate(90.0)" fill="url(#cg)" fill-opacity="1"/>
<path d="M-25.6,0Q0,-6.0 25.6,0Q0,6.0 -25.6,0Z" transform="translate(1073.7 575.9) rotate(35.0)" fill="url(#cg)" fill-opacity="0.55"/>
<path d="M-5.6,0Q0,-2.5 5.6,0Q0,2.5 -5.6,0Z" transform="translate(1008.2 652.3) rotate(-60.0)" fill="url(#cg)" fill-opacity="0.44000000000000006"/>
<ellipse rx="20.4" ry="19.8" transform="translate(905.1 674.1) rotate(0.0)" fill="url(#cg)" fill-opacity="0.6050000000000001"/>
<ellipse rx="7.8" ry="7.4" transform="translate(899.1 663.6) rotate(0.0)" fill="url(#cg)" fill-opacity="0.77"/>
<ellipse rx="8.9" ry="8.7" transform="translate(917.0 676.1) rotate(0.0)" fill="url(#cg)" fill-opacity="0.8250000000000001"/>
<path d="M-12.4,0Q0,-6.2 12.4,0Q0,6.2 -12.4,0Z" transform="translate(883.2 693.0) rotate(100.0)" fill="url(#cg)" fill-opacity="0.55"/>
<ellipse rx="6.7" ry="5.0" transform="translate(920.9 696.9) rotate(30.0)" fill="url(#cg)" fill-opacity="0.55"/>
<ellipse rx="12.4" ry="12.2" transform="translate(945.7 696.9) rotate(90.0)" fill="url(#cg)" fill-opacity="0.77"/>
<ellipse rx="6.2" ry="5.6" transform="translate(945.7 698.9) rotate(90.0)" fill="url(#cg)" fill-opacity="0.33"/>
<path d="M-27.8,0C-11.1,0 -8.3,-1.0 0,-1.0C8.3,-1.0 11.1,0 27.8,0C11.1,0 8.3,1.0 0,1.0C-8.3,1.0 -11.1,0 -27.8,0Z" transform="translate(967.6 726.7) rotate(40.0)" fill="url(#cg)" fill-opacity="0.44000000000000006"/>
<path d="M-25.6,0Q0,-9.4 25.6,0Q0,9.4 -25.6,0Z" transform="translate(822.7 743.6) rotate(-82.0)" fill="url(#cg)" fill-opacity="0.66"/>
<path d="M-33.3,0C-13.3,0 -10.0,-0.7 0,-0.7C10.0,-0.7 13.3,0 33.3,0C13.3,0 10.0,0.7 0,0.7C-10.0,0.7 -13.3,0 -33.3,0Z" transform="translate(830.6 689.0) rotate(-82.0)" fill="url(#cg)" fill-opacity="0.385"/>
<path d="M-16.0,0Q0,-6.9 16.0,0Q0,6.9 -16.0,0Z" transform="translate(861.4 742.6) rotate(-30.0)" fill="url(#cg)" fill-opacity="0.55"/>
<path d="M-16.0,0Q0,-6.4 16.0,0Q0,6.4 -16.0,0Z" transform="translate(922.9 724.7) rotate(-75.0)" fill="url(#cg)" fill-opacity="0.6050000000000001"/>
<ellipse rx="4.7" ry="4.2" transform="translate(914.6 746.9) rotate(90.0)" fill="url(#cg)" fill-opacity="0.8800000000000001"/>
<path d="M-23.3,0Q0,-7.4 23.3,0Q0,7.4 -23.3,0Z" transform="translate(928.9 746.5) rotate(-45.0)" fill="url(#cg)" fill-opacity="0.66"/>
<path d="M-55.6,0C-22.2,0 -16.7,-0.7 0,-0.7C16.7,-0.7 22.2,0 55.6,0C22.2,0 16.7,0.7 0,0.7C-16.7,0.7 -22.2,0 -55.6,0Z" transform="translate(915.0 766.4) rotate(27.0)" fill="url(#cg)" fill-opacity="0.33"/>
<ellipse rx="12.9" ry="6.7" transform="translate(890.2 777.3) rotate(105.0)" fill="url(#cg)" fill-opacity="0.66"/>
<ellipse rx="17.9" ry="10.7" transform="translate(994.4 747.5) rotate(90.0)" fill="url(#cg)" fill-opacity="0.77"/>
<ellipse rx="8.9" ry="6.2" transform="translate(998.3 737.6) rotate(0.0)" fill="url(#cg)" fill-opacity="0.8800000000000001"/>
<ellipse rx="5.6" ry="5.0" transform="translate(1006.3 743.6) rotate(0.0)" fill="url(#cg)" fill-opacity="0.77"/>
<ellipse rx="8.9" ry="8.7" transform="translate(975.5 764.4) rotate(0.0)" fill="url(#cg)" fill-opacity="0.8250000000000001"/>
<path d="M-22.2,0C-8.9,0 -6.7,-1.2 0,-1.2C6.7,-1.2 8.9,0 22.2,0C8.9,0 6.7,1.2 0,1.2C-6.7,1.2 -8.9,0 -22.2,0Z" transform="translate(964.6 783.2) rotate(-45.0)" fill="url(#cg)" fill-opacity="0.44000000000000006"/>
<path d="M-19.8,0C-7.9,0 -6.0,-1.1 0,-1.1C6.0,-1.1 7.9,0 19.8,0C7.9,0 6.0,1.1 0,1.1C-6.0,1.1 -7.9,0 -19.8,0Z" transform="translate(999.3 778.3) rotate(100.0)" fill="url(#cg)" fill-opacity="0.44000000000000006"/>
<path d="M-9.9,0Q0,-2.2 9.9,0Q0,2.2 -9.9,0Z" transform="translate(990.4 774.3) rotate(80.0)" fill="url(#cg)" fill-opacity="0.385"/>
<ellipse rx="17.9" ry="8.4" transform="translate(1034.0 735.6) rotate(80.0)" fill="url(#cg)" fill-opacity="0.7150000000000001"/>
<path d="M-12.4,0Q0,-3.1 12.4,0Q0,3.1 -12.4,0Z" transform="translate(1035.0 716.8) rotate(90.0)" fill="url(#cg)" fill-opacity="0.55"/>
<ellipse rx="6.2" ry="5.6" transform="translate(1036.0 734.6) rotate(90.0)" fill="url(#cg)" fill-opacity="0.935"/>
<ellipse rx="15.4" ry="8.4" transform="translate(1071.7 698.9) rotate(60.0)" fill="url(#cg)" fill-opacity="0.66"/>
<ellipse rx="17.4" ry="10.7" transform="translate(1073.7 746.5) rotate(90.0)" fill="url(#cg)" fill-opacity="0.935"/>
<path d="M-29.8,0Q0,-21.3 29.8,0Q0,21.3 -29.8,0Z" transform="translate(1079.7 778.3) rotate(90.0)" fill="url(#cg)" fill-opacity="0.77"/>
<path d="M-14.9,0Q0,-6.2 14.9,0Q0,6.2 -14.9,0Z" transform="translate(1087.6 782.2) rotate(90.0)" fill="url(#cg)" fill-opacity="1"/>
<ellipse rx="12.4" ry="5.6" transform="translate(1065.8 718.7) rotate(90.0)" fill="url(#cg)" fill-opacity="0.49500000000000005"/>
<path d="M-14.9,0Q0,-8.9 14.9,0Q0,8.9 -14.9,0Z" transform="translate(1075.7 814.0) rotate(105.0)" fill="url(#cg)" fill-opacity="0.55"/>
<path d="M-27.3,0Q0,-18.7 27.3,0Q0,18.7 -27.3,0Z" transform="translate(841.6 795.1) rotate(80.0)" fill="url(#cg)" fill-opacity="0.6050000000000001"/>
<ellipse rx="6.7" ry="6.0" transform="translate(844.5 778.3) rotate(90.0)" fill="url(#cg)" fill-opacity="0.935"/>
<ellipse rx="6.0" ry="5.3" transform="translate(839.6 788.2) rotate(90.0)" fill="url(#cg)" fill-opacity="0.77"/>
<ellipse rx="7.4" ry="5.3" transform="translate(835.6 798.1) rotate(90.0)" fill="url(#cg)" fill-opacity="0.77"/>
<path d="M-39.6,0C-15.8,0 -11.9,-1.5 0,-1.5C11.9,-1.5 15.8,0 39.6,0C15.8,0 11.9,1.5 0,1.5C-11.9,1.5 -15.8,0 -39.6,0Z" transform="translate(877.3 827.9) rotate(23.0)" fill="url(#cg)" fill-opacity="0.44000000000000006"/>
<path d="M-18.2,0Q0,-11.9 18.2,0Q0,11.9 -18.2,0Z" transform="translate(913.0 843.8) rotate(20.0)" fill="url(#cg)" fill-opacity="0.6050000000000001"/>
<path d="M-13.3,0Q0,-4.5 13.3,0Q0,4.5 -13.3,0Z" transform="translate(936.8 854.1) rotate(25.0)" fill="url(#cg)" fill-opacity="0.44000000000000006"/>
<ellipse rx="11.1" ry="6.0" transform="translate(793.9 830.9) rotate(10.0)" fill="url(#cg)" fill-opacity="0.7150000000000001"/>
<path d="M-22.2,0C-8.9,0 -6.7,-1.2 0,-1.2C6.7,-1.2 8.9,0 22.2,0C8.9,0 6.7,1.2 0,1.2C-6.7,1.2 -8.9,0 -22.2,0Z" transform="translate(817.7 834.8) rotate(5.0)" fill="url(#cg)" fill-opacity="0.44000000000000006"/>
<ellipse rx="6.7" ry="6.0" transform="translate(943.8 802.1) rotate(90.0)" fill="url(#cg)" fill-opacity="0.935"/>
<path d="M-18.2,0Q0,-9.9 18.2,0Q0,9.9 -18.2,0Z" transform="translate(998.3 811.0) rotate(25.0)" fill="url(#cg)" fill-opacity="0.77"/>
<path d="M-20.0,0C-8.0,0 -6.0,-1.0 0,-1.0C6.0,-1.0 8.0,0 20.0,0C8.0,0 6.0,1.0 0,1.0C-6.0,1.0 -8.0,0 -20.0,0Z" transform="translate(1028.1 807.0) rotate(-38.0)" fill="url(#cg)" fill-opacity="0.44000000000000006"/>
<path d="M-24.9,0Q0,-6.0 24.9,0Q0,6.0 -24.9,0Z" transform="translate(1044.0 816.0) rotate(76.0)" fill="url(#cg)" fill-opacity="0.6050000000000001"/>
<path d="M-30.0,0Q0,-10.9 30.0,0Q0,10.9 -30.0,0Z" transform="translate(982.4 848.7) rotate(-30.0)" fill="url(#cg)" fill-opacity="0.55"/>
<path d="M-24.4,0Q0,-18.9 24.4,0Q0,18.9 -24.4,0Z" transform="translate(1073.7 845.7) rotate(-10.0)" fill="url(#cg)" fill-opacity="0.77"/>
<ellipse rx="11.1" ry="6.0" transform="translate(1073.7 845.7) rotate(0.0)" fill="url(#cg)" fill-opacity="0.9900000000000001"/>
<path d="M-44.4,0C-17.8,0 -13.3,-1.0 0,-1.0C13.3,-1.0 17.8,0 44.4,0C17.8,0 13.3,1.0 0,1.0C-13.3,1.0 -17.8,0 -44.4,0Z" transform="translate(1073.7 816.0) rotate(-65.0)" fill="url(#cg)" fill-opacity="0.385"/>
<path d="M-22.2,0C-8.9,0 -6.7,-1.2 0,-1.2C6.7,-1.2 8.9,0 22.2,0C8.9,0 6.7,1.2 0,1.2C-6.7,1.2 -8.9,0 -22.2,0Z" transform="translate(1024.1 853.7) rotate(10.0)" fill="url(#cg)" fill-opacity="0.33"/>
<path d="M-12.4,0C-5.0,0 -3.7,-0.9 0,-0.9C3.7,-0.9 5.0,0 12.4,0C5.0,0 3.7,0.9 0,0.9C-3.7,0.9 -5.0,0 -12.4,0Z" transform="translate(841.6 851.7) rotate(100.0)" fill="url(#cg)" fill-opacity="0.275"/>
</g></g>
<rect x="806.00" y="837.50" width="76.50" height="7.50" fill="#fff"/>
<rect x="1098.50" y="560.00" width="302.50" height="302.50" fill="#000"/>
<filter id="blB03" x="-5%" y="-5%" width="110%" height="110%" filterUnits="objectBoundingBox"><feGaussianBlur stdDeviation="1.1"/></filter>
<clipPath id="cpB03"><rect x="1098.5" y="560" width="302.5" height="302.5"/></clipPath>
<g clip-path="url(#cpB03)"><g filter="url(#blB03)">
<line x1="1137.7" y1="659.2" x2="1163.5" y2="722.7" stroke="#fff" stroke-opacity="0.3" stroke-width="1.2" stroke-linecap="round"/>
<line x1="1117.8" y1="687.0" x2="1163.5" y2="718.7" stroke="#fff" stroke-opacity="0.3" stroke-width="1.2" stroke-linecap="round"/>
<line x1="1163.5" y1="722.7" x2="1187.3" y2="758.4" stroke="#fff" stroke-opacity="0.3" stroke-width="1.2" stroke-linecap="round"/>
<line x1="1234.9" y1="671.1" x2="1236.9" y2="734.6" stroke="#fff" stroke-opacity="0.3" stroke-width="1.2" stroke-linecap="round"/>
<line x1="1248.8" y1="710.8" x2="1262.7" y2="730.7" stroke="#fff" stroke-opacity="0.3" stroke-width="1.2" stroke-linecap="round"/>
<line x1="1262.7" y1="732.6" x2="1236.9" y2="758.4" stroke="#fff" stroke-opacity="0.3" stroke-width="1.4" stroke-linecap="round"/>
<line x1="1294.4" y1="770.3" x2="1262.7" y2="728.7" stroke="#fff" stroke-opacity="0.3" stroke-width="1.2" stroke-linecap="round"/>
<line x1="1352.0" y1="663.2" x2="1354.0" y2="738.6" stroke="#fff" stroke-opacity="0.3" stroke-width="1.5" stroke-linecap="round"/>
<line x1="1361.9" y1="698.9" x2="1375.8" y2="722.7" stroke="#fff" stroke-opacity="0.3" stroke-width="1.2" stroke-linecap="round"/>
<line x1="1354.0" y1="774.3" x2="1352.0" y2="818.0" stroke="#fff" stroke-opacity="0.35" stroke-width="1.5" stroke-linecap="round"/>
<line x1="1312.3" y1="788.2" x2="1342.1" y2="776.3" stroke="#fff" stroke-opacity="0.3" stroke-width="1.2" stroke-linecap="round"/>
<line x1="1268.7" y1="784.2" x2="1282.5" y2="812.0" stroke="#fff" stroke-opacity="0.3" stroke-width="1.2" stroke-linecap="round"/>
<line x1="1236.9" y1="784.2" x2="1240.9" y2="837.8" stroke="#fff" stroke-opacity="0.3" stroke-width="1.2" stroke-linecap="round"/>
<line x1="1199.2" y1="784.2" x2="1201.2" y2="818.0" stroke="#fff" stroke-opacity="0.3" stroke-width="1.2" stroke-linecap="round"/>
<line x1="1125.8" y1="758.4" x2="1117.8" y2="794.2" stroke="#fff" stroke-opacity="0.3" stroke-width="1.2" stroke-linecap="round"/>
<line x1="1385.7" y1="782.2" x2="1401.6" y2="808.0" stroke="#fff" stroke-opacity="0.3" stroke-width="1.2" stroke-linecap="round"/>
<line x1="1209.1" y1="621.5" x2="1227.0" y2="643.3" stroke="#fff" stroke-opacity="0.3" stroke-width="1.2" stroke-linecap="round"/>
<line x1="1098.0" y1="671.1" x2="1121.8" y2="687.0" stroke="#fff" stroke-opacity="0.3" stroke-width="1.2" stroke-linecap="round"/>
<line x1="1185.3" y1="778.3" x2="1165.5" y2="794.2" stroke="#fff" stroke-opacity="0.3" stroke-width="1.2" stroke-linecap="round"/>
<line x1="1298.4" y1="798.1" x2="1276.6" y2="816.0" stroke="#fff" stroke-opacity="0.3" stroke-width="1.2" stroke-linecap="round"/>
<line x1="1215.1" y1="730.7" x2="1236.9" y2="746.5" stroke="#fff" stroke-opacity="0.25" stroke-width="1.2" stroke-linecap="round"/>
<line x1="1282.5" y1="671.1" x2="1272.6" y2="653.3" stroke="#fff" stroke-opacity="0.3" stroke-width="1.5" stroke-linecap="round"/>
<line x1="1332.2" y1="857.7" x2="1316.3" y2="818.0" stroke="#fff" stroke-opacity="0.25" stroke-width="1.2" stroke-linecap="round"/>
<ellipse rx="13.6" ry="7.3" transform="translate(1121.8 573.9) rotate(90.0)" fill="url(#cg)" fill-opacity="0.6050000000000001"/>
<path d="M-22.2,0Q0,-4.5 22.2,0Q0,4.5 -22.2,0Z" transform="translate(1143.6 576.9) rotate(-10.0)" fill="url(#cg)" fill-opacity="0.49500000000000005"/>
<path d="M-18.2,0Q0,-6.9 18.2,0Q0,6.9 -18.2,0Z" transform="translate(1117.8 588.2) rotate(-25.0)" fill="url(#cg)" fill-opacity="0.55"/>
<path d="M-17.9,0Q0,-14.7 17.9,0Q0,14.7 -17.9,0Z" transform="translate(1130.7 615.6) rotate(100.0)" fill="url(#cg)" fill-opacity="0.66"/>
<ellipse rx="6.0" ry="5.3" transform="translate(1126.8 623.5) rotate(90.0)" fill="url(#cg)" fill-opacity="0.77"/>
<path d="M-37.2,0C-14.9,0 -11.2,-1.6 0,-1.6C11.2,-1.6 14.9,0 37.2,0C14.9,0 11.2,1.6 0,1.6C-11.2,1.6 -14.9,0 -37.2,0Z" transform="translate(1137.7 655.2) rotate(98.0)" fill="url(#cg)" fill-opacity="0.44000000000000006"/>
<ellipse rx="2.2" ry="2.0" transform="translate(1140.7 608.6) rotate(0.0)" fill="url(#cg)" fill-opacity="0.55"/>
<ellipse rx="9.9" ry="9.3" transform="translate(1182.3 616.6) rotate(90.0)" fill="url(#cg)" fill-opacity="0.935"/>
<ellipse rx="9.9" ry="6.0" transform="translate(1221.4 608.6) rotate(70.0)" fill="url(#cg)" fill-opacity="0.66"/>
<path d="M-14.9,0Q0,-8.4 14.9,0Q0,8.4 -14.9,0Z" transform="translate(1256.7 567.9) rotate(90.0)" fill="url(#cg)" fill-opacity="0.6050000000000001"/>
<path d="M-17.4,0Q0,-8.4 17.4,0Q0,8.4 -17.4,0Z" transform="translate(1251.8 601.7) rotate(100.0)" fill="url(#cg)" fill-opacity="0.66"/>
<path d="M-44.4,0C-17.8,0 -13.3,-1.0 0,-1.0C13.3,-1.0 17.8,0 44.4,0C17.8,0 13.3,1.0 0,1.0C-13.3,1.0 -17.8,0 -44.4,0Z" transform="translate(1245.8 619.5) rotate(-75.0)" fill="url(#cg)" fill-opacity="0.44000000000000006"/>
<path d="M-12.4,0Q0,-9.3 12.4,0Q0,9.3 -12.4,0Z" transform="translate(1234.9 661.2) rotate(95.0)" fill="url(#cg)" fill-opacity="0.66"/>
<path d="M-24.8,0C-9.9,0 -7.4,-0.9 0,-0.9C7.4,-0.9 9.9,0 24.8,0C9.9,0 7.4,0.9 0,0.9C-7.4,0.9 -9.9,0 -24.8,0Z" transform="translate(1234.9 689.0) rotate(90.0)" fill="url(#cg)" fill-opacity="0.385"/>
<ellipse rx="9.9" ry="4.2" transform="translate(1271.6 619.5) rotate(80.0)" fill="url(#cg)" fill-opacity="0.66"/>
<path d="M-13.8,0Q0,-8.4 13.8,0Q0,8.4 -13.8,0Z" transform="translate(1225.0 639.4) rotate(50.0)" fill="url(#cg)" fill-opacity="0.55"/>
<ellipse rx="7.9" ry="6.7" transform="translate(1266.7 642.3) rotate(90.0)" fill="url(#cg)" fill-opacity="0.8250000000000001"/>
<path d="M-11.1,0Q0,-5.5 11.1,0Q0,5.5 -11.1,0Z" transform="translate(1276.6 655.2) rotate(55.0)" fill="url(#cg)" fill-opacity="0.55"/>
<ellipse rx="28.5" ry="27.8" transform="translate(1352.0 643.3) rotate(90.0)" fill="url(#cg)" fill-opacity="0.385"/>
<ellipse rx="22.3" ry="17.8" transform="translate(1351.0 640.4) rotate(90.0)" fill="url(#cg)" fill-opacity="0.8250000000000001"/>
<ellipse rx="14.9" ry="11.1" transform="translate(1350.0 638.4) rotate(90.0)" fill="url(#cg)" fill-opacity="1"/>
<path d="M-15.4,0Q0,-10.2 15.4,0Q0,10.2 -15.4,0Z" transform="translate(1332.2 606.6) rotate(65.0)" fill="url(#cg)" fill-opacity="0.66"/>
<path d="M-6.2,0Q0,-2.2 6.2,0Q0,2.2 -6.2,0Z" transform="translate(1340.1 619.5) rotate(60.0)" fill="url(#cg)" fill-opacity="0.44000000000000006"/>
<path d="M-33.3,0C-13.3,0 -10.0,-1.2 0,-1.2C10.0,-1.2 13.3,0 33.3,0C13.3,0 10.0,1.2 0,1.2C-10.0,1.2 -13.3,0 -33.3,0Z" transform="translate(1365.9 569.9) rotate(-20.0)" fill="url(#cg)" fill-opacity="0.44000000000000006"/>
<path d="M-8.9,0Q0,-6.9 8.9,0Q0,6.9 -8.9,0Z" transform="translate(1391.7 562.0) rotate(0.0)" fill="url(#cg)" fill-opacity="0.55"/>
<ellipse rx="13.8" ry="10.9" transform="translate(1294.4 677.1) rotate(20.0)" fill="url(#cg)" fill-opacity="0.7150000000000001"/>
<path d="M-12.4,0Q0,-8.4 12.4,0Q0,8.4 -12.4,0Z" transform="translate(1302.4 694.9) rotate(80.0)" fill="url(#cg)" fill-opacity="0.55"/>
<path d="M-8.9,0Q0,-2.5 8.9,0Q0,2.5 -8.9,0Z" transform="translate(1310.3 681.0) rotate(20.0)" fill="url(#cg)" fill-opacity="0.44000000000000006"/>
<path d="M-9.9,0Q0,-2.2 9.9,0Q0,2.2 -9.9,0Z" transform="translate(1288.5 663.2) rotate(120.0)" fill="url(#cg)" fill-opacity="0.385"/>
<ellipse rx="10.4" ry="9.3" transform="translate(1263.7 680.1) rotate(90.0)" fill="url(#cg)" fill-opacity="1"/>
<ellipse rx="12.4" ry="10.0" transform="translate(1268.7 705.8) rotate(90.0)" fill="url(#cg)" fill-opacity="0.935"/>
<ellipse rx="7.4" ry="6.7" transform="translate(1270.6 693.0) rotate(90.0)" fill="url(#cg)" fill-opacity="0.66"/>
<path d="M-9.9,0Q0,-3.6 9.9,0Q0,3.6 -9.9,0Z" transform="translate(1256.7 724.7) rotate(120.0)" fill="url(#cg)" fill-opacity="0.44000000000000006"/>
<path d="M-16.0,0Q0,-10.4 16.0,0Q0,10.4 -16.0,0Z" transform="translate(1109.9 677.1) rotate(45.0)" fill="url(#cg)" fill-opacity="0.66"/>
<path d="M-33.3,0C-13.3,0 -10.0,-1.0 0,-1.0C10.0,-1.0 13.3,0 33.3,0C13.3,0 10.0,1.0 0,1.0C-10.0,1.0 -13.3,0 -33.3,0Z" transform="translate(1137.7 702.9) rotate(40.0)" fill="url(#cg)" fill-opacity="0.385"/>
<ellipse rx="8.9" ry="4.7" transform="translate(1108.9 705.8) rotate(40.0)" fill="url(#cg)" fill-opacity="0.6050000000000001"/>
<path d="M-8.7,0Q0,-6.7 8.7,0Q0,6.7 -8.7,0Z" transform="translate(1101.0 689.0) rotate(90.0)" fill="url(#cg)" fill-opacity="0.55"/>
<ellipse rx="15.1" ry="12.9" transform="translate(1167.5 702.9) rotate(0.0)" fill="url(#cg)" fill-opacity="0.6050000000000001"/>
<ellipse rx="6.9" ry="6.2" transform="translate(1163.5 696.9) rotate(90.0)" fill="url(#cg)" fill-opacity="0.8800000000000001"/>
<ellipse rx="7.4" ry="6.7" transform="translate(1176.4 704.9) rotate(90.0)" fill="url(#cg)" fill-opacity="0.8800000000000001"/>
<ellipse rx="6.9" ry="6.2" transform="translate(1160.5 707.8) rotate(90.0)" fill="url(#cg)" fill-opacity="0.8250000000000001"/>
<path d="M-16.0,0Q0,-4.5 16.0,0Q0,4.5 -16.0,0Z" transform="translate(1191.3 693.0) rotate(-25.0)" fill="url(#cg)" fill-opacity="0.55"/>
<ellipse rx="6.9" ry="6.7" transform="translate(1203.2 687.0) rotate(90.0)" fill="url(#cg)" fill-opacity="0.8250000000000001"/>
<path d="M-8.9,0Q0,-3.5 8.9,0Q0,3.5 -8.9,0Z" transform="translate(1215.1 681.0) rotate(-30.0)" fill="url(#cg)" fill-opacity="0.55"/>
<path d="M-24.9,0Q0,-14.9 24.9,0Q0,14.9 -24.9,0Z" transform="translate(1213.1 708.8) rotate(25.0)" fill="url(#cg)" fill-opacity="0.55"/>
<ellipse rx="7.9" ry="7.1" transform="translate(1214.1 728.7) rotate(90.0)" fill="url(#cg)" fill-opacity="0.77"/>
<ellipse rx="14.9" ry="6.2" transform="translate(1231.0 702.9) rotate(110.0)" fill="url(#cg)" fill-opacity="0.55"/>
<ellipse rx="5.5" ry="4.9" transform="translate(1245.8 703.9) rotate(90.0)" fill="url(#cg)" fill-opacity="0.33"/>
<ellipse rx="27.3" ry="17.8" transform="translate(1236.9 758.4) rotate(90.0)" fill="url(#cg)" fill-opacity="0.6050000000000001"/>
<ellipse rx="10.4" ry="6.7" transform="translate(1237.9 744.5) rotate(90.0)" fill="url(#cg)" fill-opacity="0.9900000000000001"/>
<ellipse rx="7.8" ry="7.4" transform="translate(1242.9 766.4) rotate(0.0)" fill="url(#cg)" fill-opacity="0.935"/>
<ellipse rx="8.7" ry="4.9" transform="translate(1235.9 780.3) rotate(90.0)" fill="url(#cg)" fill-opacity="0.935"/>
<ellipse rx="8.9" ry="7.4" transform="translate(1219.0 756.4) rotate(0.0)" fill="url(#cg)" fill-opacity="0.7150000000000001"/>
<ellipse rx="7.8" ry="6.2" transform="translate(1256.7 746.5) rotate(0.0)" fill="url(#cg)" fill-opacity="0.55"/>
<path d="M-25.6,0Q0,-9.9 25.6,0Q0,9.9 -25.6,0Z" transform="translate(1278.6 750.5) rotate(52.0)" fill="url(#cg)" fill-opacity="0.6050000000000001"/>
<ellipse rx="24.8" ry="10.7" transform="translate(1199.2 774.3) rotate(80.0)" fill="url(#cg)" fill-opacity="0.49500000000000005"/>
<path d="M-14.9,0C-6.0,0 -4.5,-0.9 0,-0.9C4.5,-0.9 6.0,0 14.9,0C6.0,0 4.5,0.9 0,0.9C-4.5,0.9 -6.0,0 -14.9,0Z" transform="translate(1199.2 802.1) rotate(90.0)" fill="url(#cg)" fill-opacity="0.33"/>
<path d="M-35.6,0C-14.2,0 -10.7,-1.2 0,-1.2C10.7,-1.2 14.2,0 35.6,0C14.2,0 10.7,1.2 0,1.2C-10.7,1.2 -14.2,0 -35.6,0Z" transform="translate(1181.3 748.5) rotate(55.0)" fill="url(#cg)" fill-opacity="0.44000000000000006"/>
<ellipse rx="13.8" ry="9.9" transform="translate(1107.9 740.6) rotate(0.0)" fill="url(#cg)" fill-opacity="0.66"/>
<ellipse rx="15.4" ry="8.9" transform="translate(1104.0 778.3) rotate(90.0)" fill="url(#cg)" fill-opacity="0.6050000000000001"/>
<path d="M-18.2,0Q0,-6.9 18.2,0Q0,6.9 -18.2,0Z" transform="translate(1117.8 794.2) rotate(-50.0)" fill="url(#cg)" fill-opacity="0.49500000000000005"/>
<path d="M-14.9,0C-6.0,0 -4.5,-0.9 0,-0.9C4.5,-0.9 6.0,0 14.9,0C6.0,0 4.5,0.9 0,0.9C-4.5,0.9 -6.0,0 -14.9,0Z" transform="translate(1123.8 750.5) rotate(100.0)" fill="url(#cg)" fill-opacity="0.33"/>
<ellipse rx="6.2" ry="5.6" transform="translate(1178.0 766.4) rotate(90.0)" fill="url(#cg)" fill-opacity="0.66"/>
<path d="M-12.4,0Q0,-9.8 12.4,0Q0,9.8 -12.4,0Z" transform="translate(1165.5 794.2) rotate(100.0)" fill="url(#cg)" fill-opacity="0.66"/>
<path d="M-24.8,0C-9.9,0 -7.4,-0.7 0,-0.7C7.4,-0.7 9.9,0 24.8,0C9.9,0 7.4,0.7 0,0.7C-7.4,0.7 -9.9,0 -24.8,0Z" transform="translate(1163.5 818.0) rotate(90.0)" fill="url(#cg)" fill-opacity="0.385"/>
<ellipse rx="7.4" ry="3.1" transform="translate(1161.5 837.8) rotate(90.0)" fill="url(#cg)" fill-opacity="0.49500000000000005"/>
<ellipse rx="21.8" ry="21.8" transform="translate(1363.9 755.5) rotate(90.0)" fill="url(#cg)" fill-opacity="0.77"/>
<ellipse rx="12.4" ry="10.0" transform="translate(1374.8 756.4) rotate(90.0)" fill="url(#cg)" fill-opacity="1"/>
<ellipse rx="12.4" ry="8.9" transform="translate(1354.0 754.5) rotate(90.0)" fill="url(#cg)" fill-opacity="0.8800000000000001"/>
<path d="M-17.9,0Q0,-4.9 17.9,0Q0,4.9 -17.9,0Z" transform="translate(1383.7 774.3) rotate(70.0)" fill="url(#cg)" fill-opacity="0.66"/>
<path d="M-11.6,0Q0,-3.5 11.6,0Q0,3.5 -11.6,0Z" transform="translate(1389.7 740.6) rotate(-30.0)" fill="url(#cg)" fill-opacity="0.55"/>
<path d="M-13.8,0Q0,-5.5 13.8,0Q0,5.5 -13.8,0Z" transform="translate(1342.1 776.3) rotate(-40.0)" fill="url(#cg)" fill-opacity="0.55"/>
<path d="M-14.9,0C-6.0,0 -4.5,-1.1 0,-1.1C4.5,-1.1 6.0,0 14.9,0C6.0,0 4.5,1.1 0,1.1C-4.5,1.1 -6.0,0 -14.9,0Z" transform="translate(1356.0 778.3) rotate(90.0)" fill="url(#cg)" fill-opacity="0.44000000000000006"/>
<path d="M-27.8,0Q0,-9.9 27.8,0Q0,9.9 -27.8,0Z" transform="translate(1383.7 710.8) rotate(-68.0)" fill="url(#cg)" fill-opacity="0.66"/>
<path d="M-14.9,0Q0,-8.9 14.9,0Q0,8.9 -14.9,0Z" transform="translate(1397.6 671.1) rotate(90.0)" fill="url(#cg)" fill-opacity="0.6050000000000001"/>
<ellipse rx="6.2" ry="5.6" transform="translate(1350.0 696.9) rotate(90.0)" fill="url(#cg)" fill-opacity="0.7150000000000001"/>
<ellipse rx="11.2" ry="6.0" transform="translate(1351.0 712.8) rotate(90.0)" fill="url(#cg)" fill-opacity="0.66"/>
<ellipse rx="6.9" ry="6.2" transform="translate(1353.0 681.0) rotate(90.0)" fill="url(#cg)" fill-opacity="0.44000000000000006"/>
<path d="M-17.8,0C-7.1,0 -5.3,-1.0 0,-1.0C5.3,-1.0 7.1,0 17.8,0C7.1,0 5.3,1.0 0,1.0C-5.3,1.0 -7.1,0 -17.8,0Z" transform="translate(1361.9 710.8) rotate(50.0)" fill="url(#cg)" fill-opacity="0.33"/>
<path d="M-17.3,0Q0,-13.4 17.3,0Q0,13.4 -17.3,0Z" transform="translate(1298.4 798.1) rotate(-35.0)" fill="url(#cg)" fill-opacity="0.7150000000000001"/>
<path d="M-11.1,0Q0,-2.5 11.1,0Q0,2.5 -11.1,0Z" transform="translate(1318.3 786.2) rotate(-20.0)" fill="url(#cg)" fill-opacity="0.44000000000000006"/>
<path d="M-8.9,0Q0,-2.5 8.9,0Q0,2.5 -8.9,0Z" transform="translate(1282.5 812.0) rotate(-45.0)" fill="url(#cg)" fill-opacity="0.44000000000000006"/>
<path d="M-18.2,0C-7.3,0 -5.5,-1.0 0,-1.0C5.5,-1.0 7.3,0 18.2,0C7.3,0 5.5,1.0 0,1.0C-5.5,1.0 -7.3,0 -18.2,0Z" transform="translate(1316.3 816.0) rotate(50.0)" fill="url(#cg)" fill-opacity="0.385"/>
<ellipse rx="8.7" ry="4.7" transform="translate(1262.7 813.0) rotate(90.0)" fill="url(#cg)" fill-opacity="0.8800000000000001"/>
<path d="M-19.8,0C-7.9,0 -6.0,-0.7 0,-0.7C6.0,-0.7 7.9,0 19.8,0C7.9,0 6.0,0.7 0,0.7C-6.0,0.7 -7.9,0 -19.8,0Z" transform="translate(1262.7 833.8) rotate(90.0)" fill="url(#cg)" fill-opacity="0.385"/>
<ellipse rx="6.9" ry="5.6" transform="translate(1246.8 818.0) rotate(90.0)" fill="url(#cg)" fill-opacity="0.6050000000000001"/>
<path d="M-17.8,0C-7.1,0 -5.3,-1.0 0,-1.0C5.3,-1.0 7.1,0 17.8,0C7.1,0 5.3,1.0 0,1.0C-5.3,1.0 -7.1,0 -17.8,0Z" transform="translate(1268.7 784.2) rotate(60.0)" fill="url(#cg)" fill-opacity="0.33"/>
<ellipse rx="20.4" ry="19.8" transform="translate(1344.1 839.8) rotate(0.0)" fill="url(#cg)" fill-opacity="0.55"/>
<ellipse rx="8.7" ry="7.8" transform="translate(1343.1 833.8) rotate(90.0)" fill="url(#cg)" fill-opacity="0.77"/>
<ellipse rx="7.4" ry="6.7" transform="translate(1328.2 835.8) rotate(90.0)" fill="url(#cg)" fill-opacity="0.6050000000000001"/>
<path d="M-24.8,0Q0,-4.9 24.8,0Q0,4.9 -24.8,0Z" transform="translate(1352.0 818.0) rotate(105.0)" fill="url(#cg)" fill-opacity="0.55"/>
<ellipse rx="7.4" ry="6.7" transform="translate(1354.0 845.7) rotate(90.0)" fill="url(#cg)" fill-opacity="0.55"/>
<ellipse rx="9.3" ry="6.9" transform="translate(1238.9 837.8) rotate(-30.0)" fill="url(#cg)" fill-opacity="0.55"/>
<ellipse rx="5.2" ry="4.7" transform="translate(1242.9 839.8) rotate(90.0)" fill="url(#cg)" fill-opacity="0.66"/>
<path d="M-12.4,0C-5.0,0 -3.7,-0.9 0,-0.9C3.7,-0.9 5.0,0 12.4,0C5.0,0 3.7,0.9 0,0.9C-3.7,0.9 -5.0,0 -12.4,0Z" transform="translate(1227.0 853.7) rotate(120.0)" fill="url(#cg)" fill-opacity="0.33"/>
<path d="M-13.8,0Q0,-9.4 13.8,0Q0,9.4 -13.8,0Z" transform="translate(1292.5 855.7) rotate(0.0)" fill="url(#cg)" fill-opacity="0.66"/>
<ellipse rx="5.5" ry="4.9" transform="translate(1284.5 856.7) rotate(90.0)" fill="url(#cg)" fill-opacity="0.77"/>
<ellipse rx="5.6" ry="5.0" transform="translate(1186.3 857.7) rotate(0.0)" fill="url(#cg)" fill-opacity="0.55"/>
<ellipse rx="7.4" ry="3.1" transform="translate(1197.2 856.7) rotate(90.0)" fill="url(#cg)" fill-opacity="0.55"/>
<path d="M-38.2,0C-15.3,0 -11.5,-1.0 0,-1.0C11.5,-1.0 15.3,0 38.2,0C15.3,0 11.5,1.0 0,1.0C-11.5,1.0 -15.3,0 -38.2,0Z" transform="translate(1379.8 808.0) rotate(-55.0)" fill="url(#cg)" fill-opacity="0.385"/>
<ellipse rx="5.6" ry="5.5" transform="translate(1119.8 836.8) rotate(0.0)" fill="url(#cg)" fill-opacity="0.55"/>
<ellipse rx="4.5" ry="4.0" transform="translate(1107.9 809.0) rotate(90.0)" fill="url(#cg)" fill-opacity="0.55"/>
<path d="M-11.1,0Q0,-4.5 11.1,0Q0,4.5 -11.1,0Z" transform="translate(1105.9 825.9) rotate(-40.0)" fill="url(#cg)" fill-opacity="0.44000000000000006"/>
<ellipse rx="9.9" ry="4.2" transform="translate(1336.1 667.2) rotate(110.0)" fill="url(#cg)" fill-opacity="0.44000000000000006"/>
<path d="M-7.4,0Q0,-4.4 7.4,0Q0,4.4 -7.4,0Z" transform="translate(1102.0 855.7) rotate(110.0)" fill="url(#cg)" fill-opacity="0.44000000000000006"/>
</g></g>
<rect x="1114.50" y="840.00" width="76.50" height="7.50" fill="#fff"/>
<rect x="162.50" y="881.00" width="302.50" height="302.50" fill="#000"/>
<filter id="blB10" x="-5%" y="-5%" width="110%" height="110%" filterUnits="objectBoundingBox"><feGaussianBlur stdDeviation="1.1"/></filter>
<clipPath id="cpB10"><rect x="162.5" y="881" width="302.5" height="302.5"/></clipPath>
<g clip-path="url(#cpB10)"><g filter="url(#blB10)">
<ellipse rx="9.9" ry="7.6" transform="translate(250.3 896.9) rotate(90.0)" fill="url(#cg)" fill-opacity="0.8250000000000001"/>
<ellipse rx="6.7" ry="4.7" transform="translate(250.3 910.4) rotate(10.0)" fill="url(#cg)" fill-opacity="0.8250000000000001"/>
<ellipse rx="2.7" ry="2.0" transform="translate(240.4 902.8) rotate(-40.0)" fill="url(#cg)" fill-opacity="0.44000000000000006"/>
<ellipse rx="7.2" ry="6.9" transform="translate(232.4 930.2) rotate(100.0)" fill="url(#cg)" fill-opacity="0.935"/>
<path d="M-24.9,0Q0,-5.5 24.9,0Q0,5.5 -24.9,0Z" transform="translate(308.8 885.4) rotate(8.0)" fill="url(#cg)" fill-opacity="0.55"/>
<ellipse rx="7.2" ry="6.4" transform="translate(354.1 889.9) rotate(90.0)" fill="url(#cg)" fill-opacity="1"/>
<ellipse rx="13.8" ry="9.4" transform="translate(352.5 894.9) rotate(0.0)" fill="url(#cg)" fill-opacity="0.6050000000000001"/>
<path d="M-20.4,0Q0,-4.5 20.4,0Q0,4.5 -20.4,0Z" transform="translate(338.6 910.8) rotate(-65.0)" fill="url(#cg)" fill-opacity="0.49500000000000005"/>
<path d="M-18.2,0Q0,-10.4 18.2,0Q0,10.4 -18.2,0Z" transform="translate(351.5 960.4) rotate(65.0)" fill="url(#cg)" fill-opacity="0.66"/>
<path d="M-38.9,0Q0,-8.9 38.9,0Q0,8.9 -38.9,0Z" transform="translate(330.7 992.1) rotate(-18.0)" fill="url(#cg)" fill-opacity="0.6050000000000001"/>
<ellipse rx="5.6" ry="2.5" transform="translate(357.5 980.2) rotate(-40.0)" fill="url(#cg)" fill-opacity="0.44000000000000006"/>
<ellipse rx="8.9" ry="7.7" transform="translate(391.2 968.3) rotate(30.0)" fill="url(#cg)" fill-opacity="0.8800000000000001"/>
<ellipse rx="8.7" ry="6.9" transform="translate(211.6 976.2) rotate(90.0)" fill="url(#cg)" fill-opacity="0.935"/>
<ellipse rx="16.0" ry="11.9" transform="translate(191.8 982.2) rotate(-40.0)" fill="url(#cg)" fill-opacity="0.44000000000000006"/>
<ellipse rx="6.2" ry="5.6" transform="translate(195.7 974.3) rotate(90.0)" fill="url(#cg)" fill-opacity="0.6050000000000001"/>
<ellipse rx="7.8" ry="7.4" transform="translate(184.2 989.1) rotate(0.0)" fill="url(#cg)" fill-opacity="0.935"/>
<ellipse rx="9.9" ry="5.3" transform="translate(320.7 1032.2) rotate(105.0)" fill="url(#cg)" fill-opacity="0.77"/>
<ellipse rx="7.4" ry="6.7" transform="translate(341.0 1055.2) rotate(90.0)" fill="url(#cg)" fill-opacity="0.9900000000000001"/>
<ellipse rx="8.4" ry="8.2" transform="translate(402.5 1075.5) rotate(0.0)" fill="url(#cg)" fill-opacity="0.8800000000000001"/>
<ellipse rx="10.4" ry="6.4" transform="translate(260.2 1071.5) rotate(130.0)" fill="url(#cg)" fill-opacity="0.77"/>
<ellipse rx="6.9" ry="6.7" transform="translate(255.3 1086.4) rotate(0.0)" fill="url(#cg)" fill-opacity="0.8800000000000001"/>
<ellipse rx="3.5" ry="1.6" transform="translate(250.3 1094.3) rotate(90.0)" fill="url(#cg)" fill-opacity="0.44000000000000006"/>
<ellipse rx="8.4" ry="7.7" transform="translate(263.2 1106.2) rotate(10.0)" fill="url(#cg)" fill-opacity="0.8250000000000001"/>
<ellipse rx="13.8" ry="9.4" transform="translate(341.6 1097.3) rotate(-35.0)" fill="url(#cg)" fill-opacity="0.66"/>
<ellipse rx="5.6" ry="5.5" transform="translate(344.6 1094.3) rotate(0.0)" fill="url(#cg)" fill-opacity="0.8800000000000001"/>
<ellipse rx="6.7" ry="3.5" transform="translate(330.7 1107.2) rotate(-40.0)" fill="url(#cg)" fill-opacity="0.55"/>
<path d="M-19.6,0Q0,-12.9 19.6,0Q0,12.9 -19.6,0Z" transform="translate(372.3 1106.2) rotate(-55.0)" fill="url(#cg)" fill-opacity="0.7150000000000001"/>
<ellipse rx="13.6" ry="6.0" transform="translate(257.2 1133.0) rotate(100.0)" fill="url(#cg)" fill-opacity="0.66"/>
<path d="M-23.3,0Q0,-7.4 23.3,0Q0,7.4 -23.3,0Z" transform="translate(304.9 1152.9) rotate(-72.0)" fill="url(#cg)" fill-opacity="0.55"/>
<ellipse rx="4.5" ry="4.0" transform="translate(214.6 1140.0) rotate(90.0)" fill="url(#cg)" fill-opacity="0.22000000000000003"/>
<ellipse rx="7.8" ry="6.0" transform="translate(221.5 1156.8) rotate(30.0)" fill="url(#cg)" fill-opacity="0.44000000000000006"/>
<ellipse rx="12.4" ry="11.2" transform="translate(393.2 1145.9) rotate(0.0)" fill="url(#cg)" fill-opacity="0.66"/>
<ellipse rx="6.7" ry="6.7" transform="translate(415.0 1164.8) rotate(90.0)" fill="url(#cg)" fill-opacity="0.8800000000000001"/>
<ellipse rx="7.4" ry="5.6" transform="translate(376.3 1167.7) rotate(90.0)" fill="url(#cg)" fill-opacity="1"/>
<ellipse rx="9.9" ry="5.3" transform="translate(381.3 1178.7) rotate(70.0)" fill="url(#cg)" fill-opacity="0.66"/>
<path d="M-8.7,0Q0,-6.2 8.7,0Q0,6.2 -8.7,0Z" transform="translate(462.6 1137.0) rotate(90.0)" fill="url(#cg)" fill-opacity="0.66"/>
<path d="M-17.8,0Q0,-5.5 17.8,0Q0,5.5 -17.8,0Z" transform="translate(283.0 1180.6) rotate(10.0)" fill="url(#cg)" fill-opacity="0.385"/>
</g></g>
<rect x="181.50" y="1161.50" width="77.00" height="7.50" fill="#fff"/>
<rect x="475.00" y="881.00" width="303.50" height="302.50" fill="#000"/>
<filter id="blB11" x="-5%" y="-5%" width="110%" height="110%" filterUnits="objectBoundingBox"><feGaussianBlur stdDeviation="1.1"/></filter>
<clipPath id="cpB11"><rect x="475" y="881" width="303.5" height="302.5"/></clipPath>
<g clip-path="url(#cpB11)"><g filter="url(#blB11)">
<ellipse rx="8.9" ry="6.0" transform="translate(508.7 885.0) rotate(-20.0)" fill="url(#cg)" fill-opacity="0.55"/>
<ellipse rx="5.7" ry="5.1" transform="translate(540.1 888.9) rotate(90.0)" fill="url(#cg)" fill-opacity="0.9900000000000001"/>
<ellipse rx="7.2" ry="6.4" transform="translate(658.6 903.8) rotate(90.0)" fill="url(#cg)" fill-opacity="1"/>
<ellipse rx="17.4" ry="14.4" transform="translate(657.6 898.9) rotate(90.0)" fill="url(#cg)" fill-opacity="0.49500000000000005"/>
<path d="M-11.1,0Q0,-6.9 11.1,0Q0,6.9 -11.1,0Z" transform="translate(679.4 914.7) rotate(35.0)" fill="url(#cg)" fill-opacity="0.55"/>
<path d="M-8.9,0Q0,-3.5 8.9,0Q0,3.5 -8.9,0Z" transform="translate(645.7 914.7) rotate(-60.0)" fill="url(#cg)" fill-opacity="0.44000000000000006"/>
<path d="M-33.3,0C-13.3,0 -10.0,-2.2 0,-2.2C10.0,-2.2 13.3,0 33.3,0C13.3,0 10.0,2.2 0,2.2C-10.0,2.2 -13.3,0 -33.3,0Z" transform="translate(653.6 883.0) rotate(0.0)" fill="url(#cg)" fill-opacity="0.49500000000000005"/>
<ellipse rx="4.7" ry="3.8" transform="translate(615.9 924.3) rotate(90.0)" fill="url(#cg)" fill-opacity="0.55"/>
<path d="M-13.8,0Q0,-11.4 13.8,0Q0,11.4 -13.8,0Z" transform="translate(703.2 921.7) rotate(55.0)" fill="url(#cg)" fill-opacity="0.77"/>
<path d="M-4.4,0Q0,-3.0 4.4,0Q0,3.0 -4.4,0Z" transform="translate(711.1 928.6) rotate(-20.0)" fill="url(#cg)" fill-opacity="0.44000000000000006"/>
<path d="M-19.6,0Q0,-11.4 19.6,0Q0,11.4 -19.6,0Z" transform="translate(527.6 954.0) rotate(42.0)" fill="url(#cg)" fill-opacity="0.6050000000000001"/>
<ellipse rx="5.3" ry="5.2" transform="translate(509.7 962.4) rotate(0.0)" fill="url(#cg)" fill-opacity="0.33"/>
<path d="M-30.7,0C-12.3,0 -9.2,-2.2 0,-2.2C9.2,-2.2 12.3,0 30.7,0C12.3,0 9.2,2.2 0,2.2C-9.2,2.2 -12.3,0 -30.7,0Z" transform="translate(707.2 967.3) rotate(23.0)" fill="url(#cg)" fill-opacity="0.66"/>
<ellipse rx="4.2" ry="4.2" transform="translate(706.2 961.4) rotate(0.0)" fill="url(#cg)" fill-opacity="0.66"/>
<ellipse rx="17.8" ry="7.4" transform="translate(611.9 995.7) rotate(10.0)" fill="url(#cg)" fill-opacity="0.8800000000000001"/>
<path d="M-5.6,0Q0,-4.0 5.6,0Q0,4.0 -5.6,0Z" transform="translate(599.0 988.2) rotate(50.0)" fill="url(#cg)" fill-opacity="0.66"/>
<path d="M-24.0,0C-9.6,0 -7.2,-1.5 0,-1.5C7.2,-1.5 9.6,0 24.0,0C9.6,0 7.2,1.5 0,1.5C-7.2,1.5 -9.6,0 -24.0,0Z" transform="translate(647.6 991.1) rotate(-22.0)" fill="url(#cg)" fill-opacity="0.6050000000000001"/>
<ellipse rx="3.1" ry="2.5" transform="translate(666.5 978.2) rotate(0.0)" fill="url(#cg)" fill-opacity="0.55"/>
<ellipse rx="7.2" ry="6.0" transform="translate(629.8 1030.2) rotate(90.0)" fill="url(#cg)" fill-opacity="1"/>
<path d="M-60.5,0C-24.2,0 -18.1,-2.7 0,-2.7C18.1,-2.7 24.2,0 60.5,0C24.2,0 18.1,2.7 0,2.7C-18.1,2.7 -24.2,0 -60.5,0Z" transform="translate(491.9 1045.7) rotate(-82.5)" fill="url(#cg)" fill-opacity="0.55"/>
<path d="M-20.4,0Q0,-7.4 20.4,0Q0,7.4 -20.4,0Z" transform="translate(493.9 1039.7) rotate(-85.0)" fill="url(#cg)" fill-opacity="0.77"/>
<path d="M-13.3,0Q0,-9.9 13.3,0Q0,9.9 -13.3,0Z" transform="translate(587.1 1052.6) rotate(15.0)" fill="url(#cg)" fill-opacity="0.935"/>
<ellipse rx="9.9" ry="6.7" transform="translate(589.1 1075.5) rotate(100.0)" fill="url(#cg)" fill-opacity="0.8800000000000001"/>
<ellipse rx="3.3" ry="2.0" transform="translate(583.1 1072.5) rotate(0.0)" fill="url(#cg)" fill-opacity="0.55"/>
<path d="M-20.4,0Q0,-8.4 20.4,0Q0,8.4 -20.4,0Z" transform="translate(646.6 1058.6) rotate(-58.0)" fill="url(#cg)" fill-opacity="0.7150000000000001"/>
<path d="M-36.7,0Q0,-14.9 36.7,0Q0,14.9 -36.7,0Z" transform="translate(661.5 1078.4) rotate(-60.0)" fill="url(#cg)" fill-opacity="0.6050000000000001"/>
<ellipse rx="14.9" ry="9.3" transform="translate(670.5 1063.6) rotate(70.0)" fill="url(#cg)" fill-opacity="0.6050000000000001"/>
<ellipse rx="11.1" ry="6.4" transform="translate(655.6 1087.4) rotate(-60.0)" fill="url(#cg)" fill-opacity="0.8250000000000001"/>
<ellipse rx="9.9" ry="5.3" transform="translate(716.1 1082.4) rotate(90.0)" fill="url(#cg)" fill-opacity="0.935"/>
<path d="M-8.9,0Q0,-2.0 8.9,0Q0,2.0 -8.9,0Z" transform="translate(708.2 1079.4) rotate(30.0)" fill="url(#cg)" fill-opacity="0.44000000000000006"/>
<path d="M-13.3,0C-5.3,0 -4.0,-1.0 0,-1.0C4.0,-1.0 5.3,0 13.3,0C5.3,0 4.0,1.0 0,1.0C-4.0,1.0 -5.3,0 -13.3,0Z" transform="translate(727.0 1097.3) rotate(50.0)" fill="url(#cg)" fill-opacity="0.44000000000000006"/>
<ellipse rx="12.2" ry="8.2" transform="translate(739.9 1110.2) rotate(30.0)" fill="url(#cg)" fill-opacity="0.8800000000000001"/>
<path d="M-5.0,0Q0,-4.0 5.0,0Q0,4.0 -5.0,0Z" transform="translate(738.9 1119.1) rotate(90.0)" fill="url(#cg)" fill-opacity="0.55"/>
<ellipse rx="7.7" ry="7.6" transform="translate(571.2 1105.2) rotate(90.0)" fill="url(#cg)" fill-opacity="0.6050000000000001"/>
<path d="M-22.7,0Q0,-8.4 22.7,0Q0,8.4 -22.7,0Z" transform="translate(563.3 1140.9) rotate(-62.0)" fill="url(#cg)" fill-opacity="0.66"/>
<path d="M-40.0,0C-16.0,0 -12.0,-2.7 0,-2.7C12.0,-2.7 16.0,0 40.0,0C16.0,0 12.0,2.7 0,2.7C-12.0,2.7 -16.0,0 -40.0,0Z" transform="translate(616.9 1144.9) rotate(-80.0)" fill="url(#cg)" fill-opacity="0.55"/>
<path d="M-17.8,0Q0,-9.4 17.8,0Q0,9.4 -17.8,0Z" transform="translate(613.9 1154.8) rotate(-80.0)" fill="url(#cg)" fill-opacity="0.7150000000000001"/>
<path d="M-13.6,0Q0,-9.3 13.6,0Q0,9.3 -13.6,0Z" transform="translate(523.6 1148.9) rotate(90.0)" fill="url(#cg)" fill-opacity="0.7150000000000001"/>
<ellipse rx="10.0" ry="7.2" transform="translate(510.7 1178.7) rotate(0.0)" fill="url(#cg)" fill-opacity="0.8250000000000001"/>
<path d="M-8.9,0Q0,-2.5 8.9,0Q0,2.5 -8.9,0Z" transform="translate(522.6 1168.7) rotate(-60.0)" fill="url(#cg)" fill-opacity="0.44000000000000006"/>
<ellipse rx="22.3" ry="17.8" transform="translate(681.4 1150.9) rotate(90.0)" fill="url(#cg)" fill-opacity="0.49500000000000005"/>
<ellipse rx="8.7" ry="6.7" transform="translate(674.4 1139.0) rotate(90.0)" fill="url(#cg)" fill-opacity="0.935"/>
<ellipse rx="6.2" ry="5.6" transform="translate(679.4 1161.8) rotate(90.0)" fill="url(#cg)" fill-opacity="0.9900000000000001"/>
<path d="M-15.4,0Q0,-10.7 15.4,0Q0,10.7 -15.4,0Z" transform="translate(692.3 1144.9) rotate(110.0)" fill="url(#cg)" fill-opacity="0.77"/>
<path d="M-14.9,0C-6.0,0 -4.5,-1.1 0,-1.1C4.5,-1.1 6.0,0 14.9,0C6.0,0 4.5,1.1 0,1.1C-4.5,1.1 -6.0,0 -14.9,0Z" transform="translate(698.2 1168.7) rotate(80.0)" fill="url(#cg)" fill-opacity="0.55"/>
<path d="M-5.0,0Q0,-3.1 5.0,0Q0,3.1 -5.0,0Z" transform="translate(675.4 1124.1) rotate(90.0)" fill="url(#cg)" fill-opacity="0.55"/>
<ellipse rx="11.1" ry="7.2" transform="translate(649.6 1176.7) rotate(0.0)" fill="url(#cg)" fill-opacity="0.77"/>
<path d="M-8.9,0Q0,-3.5 8.9,0Q0,3.5 -8.9,0Z" transform="translate(661.5 1170.7) rotate(-30.0)" fill="url(#cg)" fill-opacity="0.44000000000000006"/>
<path d="M-18.2,0Q0,-11.9 18.2,0Q0,11.9 -18.2,0Z" transform="translate(586.1 1176.7) rotate(10.0)" fill="url(#cg)" fill-opacity="0.6050000000000001"/>
<path d="M-14.9,0Q0,-3.1 14.9,0Q0,3.1 -14.9,0Z" transform="translate(598.0 1162.8) rotate(75.0)" fill="url(#cg)" fill-opacity="0.44000000000000006"/>
<path d="M-12.4,0Q0,-9.4 12.4,0Q0,9.4 -12.4,0Z" transform="translate(734.9 1158.8) rotate(-35.0)" fill="url(#cg)" fill-opacity="0.77"/>
<ellipse rx="8.7" ry="4.2" transform="translate(771.1 1137.0) rotate(70.0)" fill="url(#cg)" fill-opacity="0.77"/>
</g></g>
<rect x="495.00" y="1161.50" width="77.50" height="7.50" fill="#fff"/>
<rect x="786.00" y="881.00" width="304.00" height="302.50" fill="#000"/>
<filter id="blB12" x="-5%" y="-5%" width="110%" height="110%" filterUnits="objectBoundingBox"><feGaussianBlur stdDeviation="1.1"/></filter>
<clipPath id="cpB12"><rect x="786" y="881" width="304" height="302.5"/></clipPath>
<g clip-path="url(#cpB12)"><g filter="url(#blB12)">
<ellipse rx="10.4" ry="8.2" transform="translate(798.3 912.4) rotate(90.0)" fill="url(#cg)" fill-opacity="0.9900000000000001"/>
<ellipse rx="16.1" ry="10.7" transform="translate(819.7 927.6) rotate(115.0)" fill="url(#cg)" fill-opacity="1"/>
<path d="M-19.8,0C-7.9,0 -6.0,-0.7 0,-0.7C6.0,-0.7 7.9,0 19.8,0C7.9,0 6.0,0.7 0,0.7C-6.0,0.7 -7.9,0 -19.8,0Z" transform="translate(830.6 897.9) rotate(108.0)" fill="url(#cg)" fill-opacity="0.44000000000000006"/>
<ellipse rx="16.0" ry="8.2" transform="translate(797.9 944.5) rotate(-35.0)" fill="url(#cg)" fill-opacity="0.8250000000000001"/>
<path d="M-29.8,0C-11.9,0 -8.9,-0.7 0,-0.7C8.9,-0.7 11.9,0 29.8,0C11.9,0 8.9,0.7 0,0.7C-8.9,0.7 -11.9,0 -29.8,0Z" transform="translate(797.9 968.3) rotate(110.0)" fill="url(#cg)" fill-opacity="0.385"/>
<ellipse rx="10.0" ry="7.2" transform="translate(812.8 975.3) rotate(0.0)" fill="url(#cg)" fill-opacity="0.7150000000000001"/>
<ellipse rx="10.0" ry="8.4" transform="translate(796.9 978.2) rotate(-20.0)" fill="url(#cg)" fill-opacity="0.77"/>
<path d="M-4.4,0Q0,-2.5 4.4,0Q0,2.5 -4.4,0Z" transform="translate(823.7 968.3) rotate(-30.0)" fill="url(#cg)" fill-opacity="0.44000000000000006"/>
<ellipse rx="8.4" ry="7.2" transform="translate(938.4 923.1) rotate(0.0)" fill="url(#cg)" fill-opacity="0.9900000000000001"/>
<path d="M-52.1,0C-20.8,0 -15.6,-1.6 0,-1.6C15.6,-1.6 20.8,0 52.1,0C20.8,0 15.6,1.6 0,1.6C-15.6,1.6 -20.8,0 -52.1,0Z" transform="translate(942.8 924.7) rotate(90.0)" fill="url(#cg)" fill-opacity="0.55"/>
<ellipse rx="5.2" ry="3.8" transform="translate(993.4 918.7) rotate(90.0)" fill="url(#cg)" fill-opacity="0.385"/>
<ellipse rx="3.3" ry="1.5" transform="translate(982.4 929.6) rotate(-45.0)" fill="url(#cg)" fill-opacity="0.275"/>
<path d="M-25.6,0Q0,-13.9 25.6,0Q0,13.9 -25.6,0Z" transform="translate(1060.8 921.7) rotate(-45.0)" fill="url(#cg)" fill-opacity="0.8250000000000001"/>
<path d="M-20.4,0Q0,-11.4 20.4,0Q0,11.4 -20.4,0Z" transform="translate(1042.0 951.4) rotate(-15.0)" fill="url(#cg)" fill-opacity="0.8250000000000001"/>
<path d="M-24.4,0C-9.8,0 -7.3,-0.7 0,-0.7C7.3,-0.7 9.8,0 24.4,0C9.8,0 7.3,0.7 0,0.7C-7.3,0.7 -9.8,0 -24.4,0Z" transform="translate(1067.8 942.5) rotate(-18.0)" fill="url(#cg)" fill-opacity="0.385"/>
<path d="M-17.8,0C-7.1,0 -5.3,-1.2 0,-1.2C5.3,-1.2 7.1,0 17.8,0C7.1,0 5.3,1.2 0,1.2C-5.3,1.2 -7.1,0 -17.8,0Z" transform="translate(1020.2 964.3) rotate(-30.0)" fill="url(#cg)" fill-opacity="0.44000000000000006"/>
<path d="M-15.6,0C-6.2,0 -4.7,-0.7 0,-0.7C4.7,-0.7 6.2,0 15.6,0C6.2,0 4.7,0.7 0,0.7C-4.7,0.7 -6.2,0 -15.6,0Z" transform="translate(992.4 975.3) rotate(0.0)" fill="url(#cg)" fill-opacity="0.33"/>
<ellipse rx="3.7" ry="3.3" transform="translate(1038.0 939.5) rotate(90.0)" fill="url(#cg)" fill-opacity="0.44000000000000006"/>
<path d="M-22.3,0C-8.9,0 -6.7,-1.1 0,-1.1C6.7,-1.1 8.9,0 22.3,0C8.9,0 6.7,1.1 0,1.1C-6.7,1.1 -8.9,0 -22.3,0Z" transform="translate(1014.2 990.1) rotate(75.0)" fill="url(#cg)" fill-opacity="0.49500000000000005"/>
<path d="M-22.7,0Q0,-9.9 22.7,0Q0,9.9 -22.7,0Z" transform="translate(1020.2 1016.9) rotate(78.0)" fill="url(#cg)" fill-opacity="0.7150000000000001"/>
<path d="M-27.3,0C-10.9,0 -8.2,-0.7 0,-0.7C8.2,-0.7 10.9,0 27.3,0C10.9,0 8.2,0.7 0,0.7C-8.2,0.7 -10.9,0 -27.3,0Z" transform="translate(1026.1 1055.6) rotate(80.0)" fill="url(#cg)" fill-opacity="0.44000000000000006"/>
<path d="M-16.0,0Q0,-9.4 16.0,0Q0,9.4 -16.0,0Z" transform="translate(891.2 992.1) rotate(-55.0)" fill="url(#cg)" fill-opacity="0.77"/>
<path d="M-8.9,0Q0,-2.0 8.9,0Q0,2.0 -8.9,0Z" transform="translate(909.0 968.3) rotate(-50.0)" fill="url(#cg)" fill-opacity="0.44000000000000006"/>
<path d="M-22.7,0Q0,-7.9 22.7,0Q0,7.9 -22.7,0Z" transform="translate(919.0 993.1) rotate(38.0)" fill="url(#cg)" fill-opacity="0.7150000000000001"/>
<path d="M-6.7,0Q0,-1.5 6.7,0Q0,1.5 -6.7,0Z" transform="translate(897.1 974.3) rotate(40.0)" fill="url(#cg)" fill-opacity="0.33"/>
<path d="M-15.6,0C-6.2,0 -4.7,-1.0 0,-1.0C4.7,-1.0 6.2,0 15.6,0C6.2,0 4.7,1.0 0,1.0C-4.7,1.0 -6.2,0 -15.6,0Z" transform="translate(960.6 1003.0) rotate(-25.0)" fill="url(#cg)" fill-opacity="0.44000000000000006"/>
<path d="M-8.9,0Q0,-2.0 8.9,0Q0,2.0 -8.9,0Z" transform="translate(944.7 1008.0) rotate(15.0)" fill="url(#cg)" fill-opacity="0.44000000000000006"/>
<ellipse rx="4.9" ry="4.2" transform="translate(971.5 992.1) rotate(0.0)" fill="url(#cg)" fill-opacity="0.55"/>
<path d="M-4.4,0Q0,-2.0 4.4,0Q0,2.0 -4.4,0Z" transform="translate(949.7 1013.0) rotate(60.0)" fill="url(#cg)" fill-opacity="0.33"/>
<ellipse rx="14.9" ry="7.6" transform="translate(922.9 1035.8) rotate(100.0)" fill="url(#cg)" fill-opacity="0.8250000000000001"/>
<path d="M-13.6,0C-5.5,0 -4.1,-0.9 0,-0.9C4.1,-0.9 5.5,0 13.6,0C5.5,0 4.1,0.9 0,0.9C-4.1,0.9 -5.5,0 -13.6,0Z" transform="translate(929.9 1019.9) rotate(110.0)" fill="url(#cg)" fill-opacity="0.49500000000000005"/>
<path d="M-24.8,0C-9.9,0 -7.4,-0.9 0,-0.9C7.4,-0.9 9.9,0 24.8,0C9.9,0 7.4,0.9 0,0.9C-7.4,0.9 -9.9,0 -24.8,0Z" transform="translate(907.0 1057.6) rotate(128.0)" fill="url(#cg)" fill-opacity="0.44000000000000006"/>
<path d="M-24.9,0Q0,-17.4 24.9,0Q0,17.4 -24.9,0Z" transform="translate(1006.3 1049.7) rotate(-70.0)" fill="url(#cg)" fill-opacity="0.935"/>
<path d="M-29.8,0C-11.9,0 -8.9,-0.9 0,-0.9C8.9,-0.9 11.9,0 29.8,0C11.9,0 8.9,0.9 0,0.9C-8.9,0.9 -11.9,0 -29.8,0Z" transform="translate(996.3 1095.3) rotate(98.0)" fill="url(#cg)" fill-opacity="0.49500000000000005"/>
<path d="M-68.9,0C-27.6,0 -20.7,-1.0 0,-1.0C20.7,-1.0 27.6,0 68.9,0C27.6,0 20.7,1.0 0,1.0C-20.7,1.0 -27.6,0 -68.9,0Z" transform="translate(938.8 1089.4) rotate(29.0)" fill="url(#cg)" fill-opacity="0.44000000000000006"/>
<path d="M-5.6,0Q0,-2.0 5.6,0Q0,2.0 -5.6,0Z" transform="translate(893.2 1068.5) rotate(-50.0)" fill="url(#cg)" fill-opacity="0.385"/>
<ellipse rx="8.4" ry="6.7" transform="translate(820.7 1072.5) rotate(20.0)" fill="url(#cg)" fill-opacity="0.7150000000000001"/>
<ellipse rx="7.7" ry="6.9" transform="translate(841.2 1081.4) rotate(90.0)" fill="url(#cg)" fill-opacity="0.9900000000000001"/>
<path d="M-4.4,0Q0,-1.5 4.4,0Q0,1.5 -4.4,0Z" transform="translate(809.8 1069.5) rotate(20.0)" fill="url(#cg)" fill-opacity="0.33"/>
<ellipse rx="12.4" ry="7.2" transform="translate(913.0 1106.2) rotate(-25.0)" fill="url(#cg)" fill-opacity="0.8800000000000001"/>
<path d="M-19.8,0C-7.9,0 -6.0,-0.7 0,-0.7C6.0,-0.7 7.9,0 19.8,0C7.9,0 6.0,0.7 0,0.7C-6.0,0.7 -7.9,0 -19.8,0Z" transform="translate(893.2 1097.3) rotate(60.0)" fill="url(#cg)" fill-opacity="0.33"/>
<path d="M-17.4,0C-6.9,0 -5.2,-0.7 0,-0.7C5.2,-0.7 6.9,0 17.4,0C6.9,0 5.2,0.7 0,0.7C-5.2,0.7 -6.9,0 -17.4,0Z" transform="translate(909.0 1129.0) rotate(65.0)" fill="url(#cg)" fill-opacity="0.22000000000000003"/>
<path d="M-18.9,0Q0,-12.9 18.9,0Q0,12.9 -18.9,0Z" transform="translate(962.6 1103.2) rotate(32.0)" fill="url(#cg)" fill-opacity="0.8250000000000001"/>
<path d="M-9.9,0C-4.0,0 -3.0,-0.9 0,-0.9C3.0,-0.9 4.0,0 9.9,0C4.0,0 3.0,0.9 0,0.9C-3.0,0.9 -4.0,0 -9.9,0Z" transform="translate(956.7 1087.4) rotate(75.0)" fill="url(#cg)" fill-opacity="0.33"/>
<ellipse rx="3.7" ry="1.8" transform="translate(978.5 1099.3) rotate(90.0)" fill="url(#cg)" fill-opacity="0.33"/>
<ellipse rx="28.9" ry="26.0" transform="translate(1008.2 1148.9) rotate(40.0)" fill="url(#cg)" fill-opacity="0.55"/>
<ellipse rx="11.2" ry="10.0" transform="translate(1011.2 1160.8) rotate(90.0)" fill="url(#cg)" fill-opacity="1"/>
<path d="M-20.3,0Q0,-16.9 20.3,0Q0,16.9 -20.3,0Z" transform="translate(984.4 1135.0) rotate(65.0)" fill="url(#cg)" fill-opacity="0.77"/>
<ellipse rx="16.9" ry="8.4" transform="translate(1030.1 1132.0) rotate(5.0)" fill="url(#cg)" fill-opacity="0.935"/>
<path d="M-19.8,0Q0,-4.0 19.8,0Q0,4.0 -19.8,0Z" transform="translate(1034.0 1168.7) rotate(65.0)" fill="url(#cg)" fill-opacity="0.49500000000000005"/>
<path d="M-27.8,0Q0,-10.7 27.8,0Q0,10.7 -27.8,0Z" transform="translate(1079.7 1119.1) rotate(110.0)" fill="url(#cg)" fill-opacity="0.7150000000000001"/>
<ellipse rx="5.2" ry="4.2" transform="translate(1065.4 1142.9) rotate(90.0)" fill="url(#cg)" fill-opacity="0.7150000000000001"/>
<path d="M-20.0,0C-8.0,0 -6.0,-0.7 0,-0.7C6.0,-0.7 8.0,0 20.0,0C8.0,0 6.0,0.7 0,0.7C-6.0,0.7 -8.0,0 -20.0,0Z" transform="translate(1059.8 1119.1) rotate(-15.0)" fill="url(#cg)" fill-opacity="0.385"/>
<path d="M-15.6,0Q0,-8.4 15.6,0Q0,8.4 -15.6,0Z" transform="translate(1067.8 1157.8) rotate(8.0)" fill="url(#cg)" fill-opacity="0.77"/>
<ellipse rx="13.8" ry="9.9" transform="translate(913.0 1169.1) rotate(10.0)" fill="url(#cg)" fill-opacity="0.6050000000000001"/>
<ellipse rx="6.2" ry="5.6" transform="translate(913.0 1166.7) rotate(90.0)" fill="url(#cg)" fill-opacity="0.8250000000000001"/>
<ellipse rx="6.2" ry="4.9" transform="translate(905.1 1166.7) rotate(90.0)" fill="url(#cg)" fill-opacity="0.66"/>
<ellipse rx="5.6" ry="4.2" transform="translate(919.9 1175.7) rotate(0.0)" fill="url(#cg)" fill-opacity="0.66"/>
<path d="M-23.3,0Q0,-7.9 23.3,0Q0,7.9 -23.3,0Z" transform="translate(928.9 1159.8) rotate(68.0)" fill="url(#cg)" fill-opacity="0.6050000000000001"/>
<path d="M-13.3,0Q0,-9.4 13.3,0Q0,9.4 -13.3,0Z" transform="translate(986.4 1173.7) rotate(-25.0)" fill="url(#cg)" fill-opacity="0.44000000000000006"/>
<path d="M-11.1,0C-4.4,0 -3.3,-0.7 0,-0.7C3.3,-0.7 4.4,0 11.1,0C4.4,0 3.3,0.7 0,0.7C-3.3,0.7 -4.4,0 -11.1,0Z" transform="translate(1081.7 1017.9) rotate(-40.0)" fill="url(#cg)" fill-opacity="0.33"/>
<path d="M-11.1,0C-4.4,0 -3.3,-1.0 0,-1.0C3.3,-1.0 4.4,0 11.1,0C4.4,0 3.3,1.0 0,1.0C-3.3,1.0 -4.4,0 -11.1,0Z" transform="translate(1075.7 1174.7) rotate(-30.0)" fill="url(#cg)" fill-opacity="0.33"/>
</g></g>
<rect x="807.00" y="1161.00" width="76.50" height="7.50" fill="#fff"/>
<rect x="1098.50" y="881.00" width="302.50" height="302.50" fill="#000"/>
<filter id="blB13" x="-5%" y="-5%" width="110%" height="110%" filterUnits="objectBoundingBox"><feGaussianBlur stdDeviation="1.1"/></filter>
<clipPath id="cpB13"><rect x="1098.5" y="881" width="302.5" height="302.5"/></clipPath>
<g clip-path="url(#cpB13)"><g filter="url(#blB13)">
<ellipse rx="9.9" ry="8.2" transform="translate(1152.6 922.7) rotate(90.0)" fill="url(#cg)" fill-opacity="1"/>
<path d="M-17.4,0Q0,-4.0 17.4,0Q0,4.0 -17.4,0Z" transform="translate(1152.6 898.9) rotate(98.0)" fill="url(#cg)" fill-opacity="0.55"/>
<ellipse rx="3.0" ry="2.7" transform="translate(1163.5 895.9) rotate(90.0)" fill="url(#cg)" fill-opacity="0.33"/>
<path d="M-14.9,0Q0,-3.1 14.9,0Q0,3.1 -14.9,0Z" transform="translate(1142.6 940.5) rotate(115.0)" fill="url(#cg)" fill-opacity="0.55"/>
<ellipse rx="3.1" ry="2.7" transform="translate(1138.7 944.1) rotate(0.0)" fill="url(#cg)" fill-opacity="0.66"/>
<path d="M-24.9,0Q0,-11.4 24.9,0Q0,11.4 -24.9,0Z" transform="translate(1131.7 966.3) rotate(-63.0)" fill="url(#cg)" fill-opacity="0.7150000000000001"/>
<ellipse rx="12.4" ry="8.9" transform="translate(1113.9 980.2) rotate(90.0)" fill="url(#cg)" fill-opacity="0.8250000000000001"/>
<path d="M-9.9,0Q0,-3.1 9.9,0Q0,3.1 -9.9,0Z" transform="translate(1104.0 962.4) rotate(65.0)" fill="url(#cg)" fill-opacity="0.44000000000000006"/>
<path d="M-29.8,0C-11.9,0 -8.9,-1.6 0,-1.6C8.9,-1.6 11.9,0 29.8,0C11.9,0 8.9,1.6 0,1.6C-8.9,1.6 -11.9,0 -29.8,0Z" transform="translate(1111.9 1019.9) rotate(108.0)" fill="url(#cg)" fill-opacity="0.49500000000000005"/>
<path d="M-41.1,0Q0,-15.9 41.1,0Q0,15.9 -41.1,0Z" transform="translate(1215.1 901.8) rotate(-8.0)" fill="url(#cg)" fill-opacity="0.66"/>
<path d="M-17.8,0Q0,-10.9 17.8,0Q0,10.9 -17.8,0Z" transform="translate(1209.1 904.4) rotate(-8.0)" fill="url(#cg)" fill-opacity="0.8250000000000001"/>
<ellipse rx="5.2" ry="4.7" transform="translate(1250.8 891.9) rotate(90.0)" fill="url(#cg)" fill-opacity="0.55"/>
<ellipse rx="3.3" ry="3.0" transform="translate(1237.9 894.9) rotate(0.0)" fill="url(#cg)" fill-opacity="0.55"/>
<path d="M-13.3,0C-5.3,0 -4.0,-1.0 0,-1.0C4.0,-1.0 5.3,0 13.3,0C5.3,0 4.0,1.0 0,1.0C-4.0,1.0 -5.3,0 -13.3,0Z" transform="translate(1262.7 897.9) rotate(-5.0)" fill="url(#cg)" fill-opacity="0.44000000000000006"/>
<path d="M-24.9,0Q0,-9.9 24.9,0Q0,9.9 -24.9,0Z" transform="translate(1324.2 896.9) rotate(-52.0)" fill="url(#cg)" fill-opacity="0.77"/>
<ellipse rx="5.2" ry="4.7" transform="translate(1304.4 915.7) rotate(90.0)" fill="url(#cg)" fill-opacity="0.55"/>
<path d="M-55.6,0C-22.2,0 -16.7,-1.2 0,-1.2C16.7,-1.2 22.2,0 55.6,0C22.2,0 16.7,1.2 0,1.2C-16.7,1.2 -22.2,0 -55.6,0Z" transform="translate(1274.6 956.4) rotate(-53.0)" fill="url(#cg)" fill-opacity="0.44000000000000006"/>
<ellipse rx="7.4" ry="5.3" transform="translate(1268.7 971.3) rotate(90.0)" fill="url(#cg)" fill-opacity="0.66"/>
<ellipse rx="4.7" ry="4.2" transform="translate(1243.3 996.1) rotate(90.0)" fill="url(#cg)" fill-opacity="0.7150000000000001"/>
<path d="M-30.0,0Q0,-10.9 30.0,0Q0,10.9 -30.0,0Z" transform="translate(1298.4 952.4) rotate(32.0)" fill="url(#cg)" fill-opacity="0.77"/>
<path d="M-16.0,0Q0,-10.4 16.0,0Q0,10.4 -16.0,0Z" transform="translate(1346.0 939.5) rotate(-5.0)" fill="url(#cg)" fill-opacity="0.8800000000000001"/>
<path d="M-22.2,0C-8.9,0 -6.7,-0.7 0,-0.7C6.7,-0.7 8.9,0 22.2,0C8.9,0 6.7,0.7 0,0.7C-6.7,0.7 -8.9,0 -22.2,0Z" transform="translate(1379.8 937.6) rotate(-3.0)" fill="url(#cg)" fill-opacity="0.44000000000000006"/>
<path d="M-13.3,0C-5.3,0 -4.0,-0.7 0,-0.7C4.0,-0.7 5.3,0 13.3,0C5.3,0 4.0,0.7 0,0.7C-4.0,0.7 -5.3,0 -13.3,0Z" transform="translate(1316.3 946.5) rotate(-10.0)" fill="url(#cg)" fill-opacity="0.385"/>
<ellipse rx="18.9" ry="12.4" transform="translate(1349.0 970.3) rotate(25.0)" fill="url(#cg)" fill-opacity="0.77"/>
<ellipse rx="12.4" ry="6.7" transform="translate(1353.0 984.2) rotate(100.0)" fill="url(#cg)" fill-opacity="0.66"/>
<path d="M-29.8,0C-11.9,0 -8.9,-0.9 0,-0.9C8.9,-0.9 11.9,0 29.8,0C11.9,0 8.9,0.9 0,0.9C-8.9,0.9 -11.9,0 -29.8,0Z" transform="translate(1342.1 1015.9) rotate(102.0)" fill="url(#cg)" fill-opacity="0.49500000000000005"/>
<path d="M-16.0,0Q0,-7.4 16.0,0Q0,7.4 -16.0,0Z" transform="translate(1340.1 1041.7) rotate(88.0)" fill="url(#cg)" fill-opacity="0.7150000000000001"/>
<path d="M-12.4,0C-5.0,0 -3.7,-0.7 0,-0.7C3.7,-0.7 5.0,0 12.4,0C5.0,0 3.7,0.7 0,0.7C-3.7,0.7 -5.0,0 -12.4,0Z" transform="translate(1341.1 1065.5) rotate(90.0)" fill="url(#cg)" fill-opacity="0.385"/>
<path d="M-20.0,0C-8.0,0 -6.0,-0.7 0,-0.7C6.0,-0.7 8.0,0 20.0,0C8.0,0 6.0,0.7 0,0.7C-6.0,0.7 -8.0,0 -20.0,0Z" transform="translate(1383.7 976.2) rotate(18.0)" fill="url(#cg)" fill-opacity="0.385"/>
<path d="M-8.9,0C-3.6,0 -2.7,-0.7 0,-0.7C2.7,-0.7 3.6,0 8.9,0C3.6,0 2.7,0.7 0,0.7C-2.7,0.7 -3.6,0 -8.9,0Z" transform="translate(1369.9 960.4) rotate(-45.0)" fill="url(#cg)" fill-opacity="0.385"/>
<path d="M-14.9,0C-6.0,0 -4.5,-0.7 0,-0.7C4.5,-0.7 6.0,0 14.9,0C6.0,0 4.5,0.7 0,0.7C-4.5,0.7 -6.0,0 -14.9,0Z" transform="translate(1329.2 1043.7) rotate(100.0)" fill="url(#cg)" fill-opacity="0.275"/>
<path d="M-24.9,0Q0,-8.4 24.9,0Q0,8.4 -24.9,0Z" transform="translate(1193.2 966.3) rotate(-76.0)" fill="url(#cg)" fill-opacity="0.7150000000000001"/>
<path d="M-50.0,0C-20.0,0 -15.0,-2.7 0,-2.7C15.0,-2.7 20.0,0 50.0,0C20.0,0 15.0,2.7 0,2.7C-15.0,2.7 -20.0,0 -50.0,0Z" transform="translate(1181.3 1023.9) rotate(-50.0)" fill="url(#cg)" fill-opacity="0.55"/>
<path d="M-11.6,0Q0,-9.4 11.6,0Q0,9.4 -11.6,0Z" transform="translate(1177.4 1027.8) rotate(-50.0)" fill="url(#cg)" fill-opacity="0.8250000000000001"/>
<path d="M-16.7,0Q0,-11.4 16.7,0Q0,11.4 -16.7,0Z" transform="translate(1269.6 1019.9) rotate(-15.0)" fill="url(#cg)" fill-opacity="0.8800000000000001"/>
<path d="M-6.7,0Q0,-2.5 6.7,0Q0,2.5 -6.7,0Z" transform="translate(1286.5 1013.6) rotate(-25.0)" fill="url(#cg)" fill-opacity="0.55"/>
<path d="M-30.0,0Q0,-9.9 30.0,0Q0,9.9 -30.0,0Z" transform="translate(1248.8 1052.6) rotate(-18.0)" fill="url(#cg)" fill-opacity="0.77"/>
<ellipse rx="17.4" ry="11.1" transform="translate(1270.6 1068.5) rotate(105.0)" fill="url(#cg)" fill-opacity="0.8800000000000001"/>
<ellipse rx="11.2" ry="8.0" transform="translate(1269.6 1070.5) rotate(90.0)" fill="url(#cg)" fill-opacity="1"/>
<path d="M-24.9,0Q0,-5.5 24.9,0Q0,5.5 -24.9,0Z" transform="translate(1288.5 1043.7) rotate(-55.0)" fill="url(#cg)" fill-opacity="0.66"/>
<path d="M-24.9,0C-10.0,0 -7.5,-1.0 0,-1.0C7.5,-1.0 10.0,0 24.9,0C10.0,0 7.5,1.0 0,1.0C-7.5,1.0 -10.0,0 -24.9,0Z" transform="translate(1236.9 1087.4) rotate(-32.0)" fill="url(#cg)" fill-opacity="0.44000000000000006"/>
<path d="M-5.6,0Q0,-2.0 5.6,0Q0,2.0 -5.6,0Z" transform="translate(1276.6 1085.4) rotate(-40.0)" fill="url(#cg)" fill-opacity="0.33"/>
<path d="M-24.9,0Q0,-11.4 24.9,0Q0,11.4 -24.9,0Z" transform="translate(1187.3 1081.4) rotate(-52.0)" fill="url(#cg)" fill-opacity="0.66"/>
<ellipse rx="4.4" ry="3.7" transform="translate(1203.2 1060.6) rotate(-60.0)" fill="url(#cg)" fill-opacity="0.55"/>
<path d="M-27.1,0C-10.8,0 -8.1,-0.7 0,-0.7C8.1,-0.7 10.8,0 27.1,0C10.8,0 8.1,0.7 0,0.7C-8.1,0.7 -10.8,0 -27.1,0Z" transform="translate(1147.6 1115.2) rotate(-38.0)" fill="url(#cg)" fill-opacity="0.385"/>
<ellipse rx="11.2" ry="4.7" transform="translate(1171.4 1110.2) rotate(75.0)" fill="url(#cg)" fill-opacity="0.7150000000000001"/>
<ellipse rx="12.4" ry="8.9" transform="translate(1125.8 1104.2) rotate(65.0)" fill="url(#cg)" fill-opacity="0.8250000000000001"/>
<path d="M-6.7,0Q0,-3.5 6.7,0Q0,3.5 -6.7,0Z" transform="translate(1137.7 1117.1) rotate(45.0)" fill="url(#cg)" fill-opacity="0.55"/>
<path d="M-9.9,0C-4.0,0 -3.0,-0.9 0,-0.9C3.0,-0.9 4.0,0 9.9,0C4.0,0 3.0,0.9 0,0.9C-3.0,0.9 -4.0,0 -9.9,0Z" transform="translate(1115.9 1089.4) rotate(70.0)" fill="url(#cg)" fill-opacity="0.385"/>
<ellipse rx="11.2" ry="7.6" transform="translate(1189.3 1122.1) rotate(80.0)" fill="url(#cg)" fill-opacity="0.77"/>
<path d="M-11.1,0C-4.4,0 -3.3,-1.0 0,-1.0C3.3,-1.0 4.4,0 11.1,0C4.4,0 3.3,1.0 0,1.0C-3.3,1.0 -4.4,0 -11.1,0Z" transform="translate(1199.2 1135.0) rotate(50.0)" fill="url(#cg)" fill-opacity="0.49500000000000005"/>
<ellipse rx="9.3" ry="4.2" transform="translate(1207.1 1144.9) rotate(50.0)" fill="url(#cg)" fill-opacity="0.7150000000000001"/>
<ellipse rx="6.9" ry="6.2" transform="translate(1150.0 1144.9) rotate(90.0)" fill="url(#cg)" fill-opacity="0.9900000000000001"/>
<path d="M-20.4,0Q0,-12.9 20.4,0Q0,12.9 -20.4,0Z" transform="translate(1256.7 1101.3) rotate(-42.0)" fill="url(#cg)" fill-opacity="0.77"/>
<path d="M-24.8,0C-9.9,0 -7.4,-0.9 0,-0.9C7.4,-0.9 9.9,0 24.8,0C9.9,0 7.4,0.9 0,0.9C-7.4,0.9 -9.9,0 -24.8,0Z" transform="translate(1288.5 1115.2) rotate(70.0)" fill="url(#cg)" fill-opacity="0.385"/>
<ellipse rx="20.4" ry="17.4" transform="translate(1294.4 1146.9) rotate(-20.0)" fill="url(#cg)" fill-opacity="0.66"/>
<ellipse rx="7.4" ry="6.7" transform="translate(1296.4 1147.9) rotate(90.0)" fill="url(#cg)" fill-opacity="0.9900000000000001"/>
<ellipse rx="17.9" ry="7.6" transform="translate(1282.5 1168.7) rotate(115.0)" fill="url(#cg)" fill-opacity="0.77"/>
<path d="M-29.3,0Q0,-8.4 29.3,0Q0,8.4 -29.3,0Z" transform="translate(1322.2 1135.0) rotate(-12.0)" fill="url(#cg)" fill-opacity="0.6050000000000001"/>
<path d="M-9.9,0Q0,-3.1 9.9,0Q0,3.1 -9.9,0Z" transform="translate(1310.3 1156.8) rotate(70.0)" fill="url(#cg)" fill-opacity="0.55"/>
<ellipse rx="13.8" ry="8.4" transform="translate(1341.1 1143.9) rotate(15.0)" fill="url(#cg)" fill-opacity="0.8250000000000001"/>
<ellipse rx="5.0" ry="4.9" transform="translate(1341.1 1144.9) rotate(90.0)" fill="url(#cg)" fill-opacity="0.9900000000000001"/>
<path d="M-13.3,0C-5.3,0 -4.0,-1.0 0,-1.0C4.0,-1.0 5.3,0 13.3,0C5.3,0 4.0,1.0 0,1.0C-4.0,1.0 -5.3,0 -13.3,0Z" transform="translate(1359.9 1150.9) rotate(10.0)" fill="url(#cg)" fill-opacity="0.44000000000000006"/>
<path d="M-41.1,0Q0,-9.4 41.1,0Q0,9.4 -41.1,0Z" transform="translate(1348.0 1117.1) rotate(5.0)" fill="url(#cg)" fill-opacity="0.7150000000000001"/>
<path d="M-11.1,0Q0,-2.5 11.1,0Q0,2.5 -11.1,0Z" transform="translate(1316.3 1108.2) rotate(30.0)" fill="url(#cg)" fill-opacity="0.44000000000000006"/>
<ellipse rx="13.3" ry="6.0" transform="translate(1333.1 1177.7) rotate(-10.0)" fill="url(#cg)" fill-opacity="0.935"/>
<ellipse rx="11.1" ry="4.7" transform="translate(1363.9 1180.6) rotate(0.0)" fill="url(#cg)" fill-opacity="0.66"/>
<path d="M-17.8,0C-7.1,0 -5.3,-0.7 0,-0.7C5.3,-0.7 7.1,0 17.8,0C7.1,0 5.3,0.7 0,0.7C-5.3,0.7 -7.1,0 -17.8,0Z" transform="translate(1383.7 1101.3) rotate(-40.0)" fill="url(#cg)" fill-opacity="0.385"/>
<path d="M-9.9,0Q0,-3.1 9.9,0Q0,3.1 -9.9,0Z" transform="translate(1397.6 1091.3) rotate(105.0)" fill="url(#cg)" fill-opacity="0.44000000000000006"/>
<ellipse rx="8.7" ry="3.8" transform="translate(1176.4 1178.7) rotate(90.0)" fill="url(#cg)" fill-opacity="0.6050000000000001"/>
<ellipse rx="3.3" ry="2.5" transform="translate(1395.7 1045.7) rotate(30.0)" fill="url(#cg)" fill-opacity="0.33"/>
</g></g>
<rect x="1115.00" y="1163.50" width="76.50" height="7.00" fill="#fff"/>
<text transform="translate(8.8 1262.5) scale(0.88 1)" x="0" y="0" font-size="49" font-weight="bold" text-anchor="start">c</text>
<text x="75" y="1478.2" font-size="31.4" font-weight="bold" text-anchor="middle" transform="rotate(-90 75 1478.2)" >object count (normalized)</text>
<line x1="180.5" y1="1289.25" x2="191.75" y2="1289.25" stroke="#000" stroke-width="3.2" />
<text x="173.5" y="1298.15" font-size="27" font-weight="bold" text-anchor="end" >150</text>
<line x1="180.5" y1="1416.25" x2="191.75" y2="1416.25" stroke="#000" stroke-width="3.2" />
<text x="173.5" y="1425.15" font-size="27" font-weight="bold" text-anchor="end" >100</text>
<line x1="180.5" y1="1543.5" x2="191.75" y2="1543.5" stroke="#000" stroke-width="3.2" />
<text x="173.5" y="1552.4" font-size="27" font-weight="bold" text-anchor="end" >50</text>
<line x1="180.5" y1="1671.5" x2="191.75" y2="1671.5" stroke="#000" stroke-width="3.2" />
<text x="174.8" y="1680.4" font-size="27" font-weight="bold" text-anchor="end" >0</text>
<line x1="202.6" y1="1416.25" x2="766" y2="1416.25" stroke="#000" stroke-width="3.2" stroke-linecap="round" stroke-dasharray="0 11.47"/>
<line x1="218.90" y1="1348.25" x2="218.90" y2="1417.00" stroke="#000" stroke-width="1.6" />
<rect x="206.15" y="1417.95" width="25.50" height="253.55" fill="#1c1c1c" stroke="#0a0a0a" stroke-width="1.9"/>
<line x1="260.90" y1="1529.50" x2="260.90" y2="1533.00" stroke="#000" stroke-width="1.6" />
<rect x="248.15" y="1533.95" width="25.50" height="137.55" fill="#e45c5c" stroke="#0a0a0a" stroke-width="1.9"/>
<text x="259.5" y="1533.3" font-size="34" font-weight="normal" text-anchor="middle" >**</text>
<line x1="302.90" y1="1482.50" x2="302.90" y2="1511.25" stroke="#000" stroke-width="1.6" />
<rect x="290.15" y="1512.20" width="25.50" height="159.30" fill="#d00000" stroke="#0a0a0a" stroke-width="1.9"/>
<text x="302.75" y="1493.6" font-size="34" font-weight="normal" text-anchor="middle" >*</text>
<line x1="344.90" y1="1536.25" x2="344.90" y2="1538.75" stroke="#000" stroke-width="1.6" />
<rect x="332.15" y="1539.70" width="25.50" height="131.80" fill="#828282" stroke="#0a0a0a" stroke-width="1.9"/>
<text x="345.25" y="1533.3" font-size="34" font-weight="normal" text-anchor="middle" >**</text>
<line x1="414.50" y1="1366.00" x2="414.50" y2="1417.00" stroke="#000" stroke-width="1.6" />
<rect x="401.75" y="1417.95" width="25.50" height="253.55" fill="#1c1c1c" stroke="#0a0a0a" stroke-width="1.9"/>
<line x1="456.50" y1="1523.25" x2="456.50" y2="1528.25" stroke="#000" stroke-width="1.6" />
<rect x="443.75" y="1529.20" width="25.50" height="142.30" fill="#e45c5c" stroke="#0a0a0a" stroke-width="1.9"/>
<text x="455.75" y="1504.8" font-size="34" font-weight="normal" text-anchor="middle" >*</text>
<line x1="498.50" y1="1520.00" x2="498.50" y2="1532.00" stroke="#000" stroke-width="1.6" />
<rect x="485.75" y="1532.95" width="25.50" height="138.55" fill="#d00000" stroke="#0a0a0a" stroke-width="1.9"/>
<text x="496.75" y="1517.1" font-size="34" font-weight="normal" text-anchor="middle" >**</text>
<line x1="540.50" y1="1541.50" x2="540.50" y2="1544.50" stroke="#000" stroke-width="1.6" />
<rect x="527.75" y="1545.45" width="25.50" height="126.05" fill="#828282" stroke="#0a0a0a" stroke-width="1.9"/>
<text x="538" y="1531.5" font-size="34" font-weight="normal" text-anchor="middle" >**</text>
<line x1="610.30" y1="1376.00" x2="610.30" y2="1417.00" stroke="#000" stroke-width="1.6" />
<rect x="597.55" y="1417.95" width="25.50" height="253.55" fill="#1c1c1c" stroke="#0a0a0a" stroke-width="1.9"/>
<line x1="652.30" y1="1518.25" x2="652.30" y2="1525.50" stroke="#000" stroke-width="1.6" />
<rect x="639.55" y="1526.45" width="25.50" height="145.05" fill="#e45c5c" stroke="#0a0a0a" stroke-width="1.9"/>
<text x="649.25" y="1483.3" font-size="34" font-weight="normal" text-anchor="middle" >**</text>
<line x1="694.30" y1="1520.50" x2="694.30" y2="1533.25" stroke="#000" stroke-width="1.6" />
<rect x="681.55" y="1534.20" width="25.50" height="137.30" fill="#d00000" stroke="#0a0a0a" stroke-width="1.9"/>
<text x="693" y="1492.6" font-size="34" font-weight="normal" text-anchor="middle" >**</text>
<line x1="736.30" y1="1552.50" x2="736.30" y2="1557.00" stroke="#000" stroke-width="1.6" />
<rect x="723.55" y="1557.95" width="25.50" height="113.55" fill="#828282" stroke="#0a0a0a" stroke-width="1.9"/>
<text x="734.25" y="1512.1" font-size="34" font-weight="normal" text-anchor="middle" >***</text>
<line x1="191.75" y1="1287.6" x2="191.75" y2="1673.2" stroke="#000" stroke-width="3.6" />
<line x1="180" y1="1671.5" x2="766" y2="1671.5" stroke="#000" stroke-width="3.5" />
<line x1="218.70" y1="1671.5" x2="218.70" y2="1682" stroke="#000" stroke-width="3.2" />
<text x="226.80" y="1687.3" font-size="28" font-weight="bold" text-anchor="end" transform="rotate(-90 226.80 1687.3)" >P0</text>
<line x1="260.70" y1="1671.5" x2="260.70" y2="1682" stroke="#000" stroke-width="3.2" />
<text x="268.80" y="1687.3" font-size="28" font-weight="bold" text-anchor="end" transform="rotate(-90 268.80 1687.3)" >P20</text>
<line x1="302.70" y1="1671.5" x2="302.70" y2="1682" stroke="#000" stroke-width="3.2" />
<text x="310.80" y="1687.3" font-size="28" font-weight="bold" text-anchor="end" transform="rotate(-90 310.80 1687.3)" >P60</text>
<line x1="344.70" y1="1671.5" x2="344.70" y2="1682" stroke="#000" stroke-width="3.2" />
<text x="352.80" y="1687.3" font-size="28" font-weight="bold" text-anchor="end" transform="rotate(-90 352.80 1687.3)" >H100</text>
<line x1="414.30" y1="1671.5" x2="414.30" y2="1682" stroke="#000" stroke-width="3.2" />
<text x="422.40" y="1687.3" font-size="28" font-weight="bold" text-anchor="end" transform="rotate(-90 422.40 1687.3)" >P0</text>
<line x1="456.30" y1="1671.5" x2="456.30" y2="1682" stroke="#000" stroke-width="3.2" />
<text x="464.40" y="1687.3" font-size="28" font-weight="bold" text-anchor="end" transform="rotate(-90 464.40 1687.3)" >P20</text>
<line x1="498.30" y1="1671.5" x2="498.30" y2="1682" stroke="#000" stroke-width="3.2" />
<text x="506.40" y="1687.3" font-size="28" font-weight="bold" text-anchor="end" transform="rotate(-90 506.40 1687.3)" >P60</text>
<line x1="540.30" y1="1671.5" x2="540.30" y2="1682" stroke="#000" stroke-width="3.2" />
<text x="548.40" y="1687.3" font-size="28" font-weight="bold" text-anchor="end" transform="rotate(-90 548.40 1687.3)" >H100</text>
<line x1="610.10" y1="1671.5" x2="610.10" y2="1682" stroke="#000" stroke-width="3.2" />
<text x="618.20" y="1687.3" font-size="28" font-weight="bold" text-anchor="end" transform="rotate(-90 618.20 1687.3)" >P0</text>
<line x1="652.10" y1="1671.5" x2="652.10" y2="1682" stroke="#000" stroke-width="3.2" />
<text x="660.20" y="1687.3" font-size="28" font-weight="bold" text-anchor="end" transform="rotate(-90 660.20 1687.3)" >P20</text>
<line x1="694.10" y1="1671.5" x2="694.10" y2="1682" stroke="#000" stroke-width="3.2" />
<text x="702.20" y="1687.3" font-size="28" font-weight="bold" text-anchor="end" transform="rotate(-90 702.20 1687.3)" >P60</text>
<line x1="736.10" y1="1671.5" x2="736.10" y2="1682" stroke="#000" stroke-width="3.2" />
<text x="744.20" y="1687.3" font-size="28" font-weight="bold" text-anchor="end" transform="rotate(-90 744.20 1687.3)" >H100</text>
<text transform="translate(287 1304.9) scale(1 1.08)" x="0" y="0" font-size="30" font-weight="bold" text-anchor="middle">4h</text>
<text transform="translate(479.7 1304.9) scale(1 1.08)" x="0" y="0" font-size="30" font-weight="bold" text-anchor="middle">24h</text>
<text transform="translate(678.3 1304.9) scale(1 1.08)" x="0" y="0" font-size="30" font-weight="bold" text-anchor="middle">48h</text>
<text transform="translate(768.6 1262.5) scale(0.95 1)" x="0" y="0" font-size="49" font-weight="bold" text-anchor="start">d</text>
<text x="829.8" y="1482" font-size="31.0" font-weight="bold" text-anchor="middle" transform="rotate(-90 829.8 1482)" >cell growth (normalized)</text>
<line x1="935" y1="1293.5" x2="946.6" y2="1293.5" stroke="#000" stroke-width="3.2" />
<text x="930" y="1302.9" font-size="27.5" font-weight="bold" text-anchor="end" >175</text>
<line x1="935" y1="1420" x2="946.6" y2="1420" stroke="#000" stroke-width="3.2" />
<text x="930" y="1429.4" font-size="27.5" font-weight="bold" text-anchor="end" >150</text>
<line x1="935" y1="1546.7" x2="946.6" y2="1546.7" stroke="#000" stroke-width="3.2" />
<text x="930" y="1556.1000000000001" font-size="27.5" font-weight="bold" text-anchor="end" >125</text>
<line x1="935" y1="1673.5" x2="946.6" y2="1673.5" stroke="#000" stroke-width="3.2" />
<text x="930" y="1682.9" font-size="27.5" font-weight="bold" text-anchor="end" >100</text>
<defs>
<marker id="mblack" markerWidth="5" markerHeight="5" refX="2.5" refY="2.2" markerUnits="userSpaceOnUse"><path d="M2.5 0 L4.8 4 L0.2 4 Z" fill="#111"/></marker>
<marker id="mpink" markerWidth="5" markerHeight="5" refX="2.5" refY="2.2" markerUnits="userSpaceOnUse"><path d="M2.5 0 L4.8 4 L0.2 4 Z" fill="#e86f6f"/></marker>
<marker id="mred" markerWidth="5" markerHeight="5" refX="2.5" refY="2.2" markerUnits="userSpaceOnUse"><path d="M2.5 0 L4.8 4 L0.2 4 Z" fill="#cc0000"/></marker>
<marker id="mgray" markerWidth="5" markerHeight="5" refX="2.5" refY="2.2" markerUnits="userSpaceOnUse"><path d="M2.5 0 L4.8 4 L0.2 4 Z" fill="#808080"/></marker>
</defs>
<polyline points="946.3,1673.0 948.8,1639.7 951.7,1637.8 954.7,1631.9 957.6,1628.0 960.6,1620.2 963.5,1616.2 966.4,1624.1 969.4,1622.1 972.3,1624.1 975.2,1622.1 978.2,1628.0 980.7,1656.4 984.1,1650.5 987.0,1624.1 989.5,1631.9 992.5,1645.6 995.4,1616.2 998.2,1622.1 1001.1,1635.8 1004.0,1588.8 1007.0,1585.9 1009.9,1615.3 1012.8,1591.8 1015.4,1582.0 1018.3,1610.4 1020.9,1621.1 1023.8,1655.4 1026.7,1608.4 1029.7,1614.3 1032.6,1612.3 1035.4,1593.7 1038.3,1608.4 1041.2,1630.9 1044.2,1628.0 1047.1,1633.9 1049.7,1615.3 1052.6,1611.3 1055.5,1610.4 1058.1,1638.8 1061.0,1631.9 1063.8,1615.3 1066.7,1629.0 1069.6,1631.9 1072.6,1629.9 1075.5,1606.4 1078.1,1619.2 1081.0,1645.6 1083.9,1613.3 1086.9,1629.0 1089.8,1606.4 1092.7,1610.4 1095.3,1639.7 1098.2,1592.7 1101.0,1595.7 1103.9,1571.2 1106.4,1559.5 1109.4,1577.1 1112.3,1606.4 1115.3,1602.5 1118.2,1594.7 1121.1,1597.6 1124.1,1588.8 1127.0,1581.0 1129.4,1612.3 1132.3,1610.4 1135.2,1584.9 1137.8,1543.8 1140.7,1592.7 1143.7,1594.7 1146.2,1562.4 1149.1,1615.3 1152.1,1599.6 1155.0,1566.3 1157.8,1581.0 1160.7,1579.0 1163.6,1562.4 1166.6,1584.9 1169.1,1585.9 1172.0,1562.4 1175.0,1567.3 1177.9,1581.0 1180.9,1587.8 1183.8,1559.5 1186.7,1543.8 1189.7,1536.0 1192.6,1531.1 1195.2,1561.4 1198.1,1600.6 1200.8,1586.9 1203.8,1587.8 1206.7,1587.8 1209.6,1589.8 1212.6,1582.9 1215.1,1561.4 1218.1,1623.1 1221.0,1608.4 1223.9,1607.4 1226.9,1574.1 1229.8,1546.7 1232.8,1545.7 1235.7,1534.0 1238.6,1561.4 1240.6,1545.6 1243.5,1544.6 1246.4,1582.8 1249.4,1552.5 1252.3,1565.2 1255.2,1555.4 1258.2,1608.7 1260.7,1599.5 1263.5,1571.1 1266.4,1552.5 1269.3,1586.7 1272.1,1601.4 1274.8,1565.2 1277.8,1572.0 1280.7,1594.6 1283.6,1531.9 1286.6,1595.5 1289.3,1595.5 1292.1,1596.5 1294.8,1584.8 1297.7,1577.9 1300.7,1601.4 1303.6,1610.2 1306.6,1584.8 1309.3,1604.4 1312.0,1601.4 1315.0,1608.3 1317.9,1623.0 1320.8,1638.6 1323.8,1611.2 1326.7,1617.7 1329.3,1617.1 1332.0,1583.8 1334.9,1576.9 1337.9,1600.1 1340.8,1602.4 1343.8,1596.5 1346.7,1612.2 1349.2,1600.8 1352.2,1610.2 1355.1,1600.1 1358.1,1616.5 1361.0,1598.5 1363.9,1625.9 1366.5,1616.1 1369.4,1593.6 1372.3,1583.8 1375.1,1613.8 1378.0,1607.3 1381.0,1611.2 1383.9,1613.8 1386.8,1590.7 1389.6,1624.9 1392.3,1622.0 1394.9,1606.3 1397.8,1630.8 1400.5,1594.6 1403.5,1606.3 1406.4,1592.6 1409.2,1576.0 1411.9,1589.7 1414.8,1596.5 1417.8,1607.3 1420.7,1573.0 1423.7,1606.3 1426.2,1576.9 1429.1,1590.7 1432.1,1598.5 1435.0,1595.5 1437.8,1583.8 1440.7,1581.8 1443.6,1603.4 1446.4,1594.6 1449.1,1591.6 1452.0,1589.7 1455.0,1574.0 1457.7,1577.9 1460.7,1576.0 1463.6,1596.5 1466.5,1569.5 1469.3,1604.0 1472.2,1601.4 1475.0,1595.0 1477.9,1608.3 1480.6,1604.4 1483.6,1600.1 1486.3,1574.0 1489.3,1577.9 1492.2,1601.4 1495.1,1582.4" fill="none" stroke="#808080" stroke-width="1.7" stroke-linejoin="round" marker-mid="url(#mgray)" marker-end="url(#mgray)"/>
<polyline points="946.3,1673.0 948.8,1661.3 951.7,1645.6 954.7,1633.9 957.6,1622.1 960.6,1616.2 963.5,1618.2 966.4,1614.3 969.4,1623.1 972.3,1623.1 975.2,1614.3 978.2,1628.0 981.1,1612.3 984.1,1626.0 987.0,1616.2 989.9,1618.2 992.9,1622.1 995.8,1617.2 998.7,1621.1 1001.1,1617.2 1003.6,1636.8 1006.6,1628.0 1009.5,1624.1 1012.5,1628.0 1015.4,1628.0 1018.3,1633.9 1020.9,1634.8 1023.8,1621.1 1026.7,1617.2 1029.7,1633.9 1032.6,1662.3 1035.4,1654.4 1038.3,1635.8 1041.2,1641.7 1044.2,1629.0 1047.1,1625.1 1049.7,1617.2 1052.6,1608.4 1055.5,1577.1 1058.1,1588.8 1061.0,1612.3 1063.8,1615.3 1066.7,1606.4 1069.6,1613.3 1072.6,1612.3 1075.5,1605.5 1078.1,1610.4 1081.0,1596.7 1083.9,1602.5 1086.9,1602.5 1089.8,1588.8 1092.7,1590.8 1095.7,1592.7 1098.2,1600.6 1101.0,1590.8 1103.5,1565.3 1106.4,1581.0 1109.4,1601.6 1112.3,1590.8 1115.3,1571.2 1118.2,1567.3 1121.1,1568.3 1124.1,1563.4 1126.4,1565.3 1129.4,1547.3 1132.3,1551.6 1134.8,1545.7 1137.8,1540.8 1140.7,1546.7 1143.7,1541.8 1146.2,1525.2 1149.1,1526.2 1152.1,1545.7 1155.0,1544.8 1157.8,1561.4 1160.7,1546.7 1163.6,1531.1 1166.6,1544.8 1169.1,1531.1 1172.0,1550.6 1175.0,1551.6 1177.9,1553.6 1180.9,1514.4 1183.8,1543.8 1186.7,1557.5 1189.7,1545.7 1192.2,1514.4 1195.2,1549.7 1198.1,1534.0 1200.8,1542.8 1203.8,1558.5 1206.7,1520.3 1209.6,1523.2 1212.2,1546.7 1215.1,1520.3 1218.1,1520.3 1221.0,1518.3 1223.5,1505.6 1226.3,1534.0 1229.2,1532.0 1232.2,1541.8 1235.1,1534.0 1237.6,1526.2 1240.0,1514.4 1243.5,1516.2 1246.4,1525.1 1249.4,1515.3 1252.3,1528.0 1255.2,1524.1 1258.2,1532.9 1260.7,1549.5 1263.5,1536.8 1266.4,1537.8 1269.3,1540.7 1272.1,1571.1 1274.8,1543.7 1277.8,1559.3 1280.7,1554.4 1283.6,1537.8 1286.6,1540.7 1289.3,1504.5 1292.1,1531.9 1294.8,1525.1 1297.7,1529.0 1300.7,1528.0 1303.6,1530.9 1306.6,1565.2 1309.3,1536.8 1312.0,1559.3 1315.0,1542.7 1317.9,1546.6 1320.8,1547.6 1323.8,1521.1 1326.7,1530.9 1329.3,1541.7 1332.0,1529.9 1334.9,1532.9 1337.9,1529.0 1340.8,1523.1 1343.8,1484.9 1346.7,1499.6 1349.2,1512.3 1352.2,1515.3 1355.1,1510.4 1358.1,1485.9 1360.6,1524.1 1363.9,1508.4 1366.5,1533.9 1369.4,1503.5 1372.3,1512.3 1375.1,1500.6 1378.0,1500.6 1381.0,1510.4 1383.9,1519.2 1386.8,1510.4 1389.6,1508.4 1392.3,1513.3 1394.9,1523.1 1397.8,1523.1 1400.5,1525.1 1403.5,1524.1 1406.4,1509.4 1409.2,1513.3 1411.9,1518.2 1414.8,1521.1 1417.8,1501.6 1420.7,1489.8 1423.7,1513.3 1426.2,1506.4 1429.1,1480.0 1432.1,1504.5 1435.0,1502.5 1437.8,1506.4 1440.7,1471.6 1443.6,1483.9 1446.4,1490.4 1449.1,1490.8 1452.0,1499.6 1455.0,1485.9 1457.7,1510.4 1460.7,1518.2 1463.6,1528.0 1466.5,1470.2 1469.3,1502.5 1472.2,1509.4 1475.0,1491.4 1477.9,1497.6 1480.6,1502.5 1483.6,1514.3 1486.3,1513.9 1489.3,1515.3 1492.2,1501.6 1495.1,1510.0" fill="none" stroke="#e86f6f" stroke-width="1.5" stroke-linejoin="round" marker-mid="url(#mpink)" marker-end="url(#mpink)"/>
<polyline points="946.3,1673.0 948.8,1659.3 951.4,1647.6 954.1,1631.9 957.2,1608.4 960.2,1607.4 963.1,1612.3 966.0,1607.4 969.0,1612.3 971.9,1613.3 974.9,1610.4 977.8,1617.2 980.7,1605.5 983.7,1624.1 986.6,1625.1 989.5,1618.2 992.5,1614.3 995.4,1608.4 998.2,1606.4 1001.1,1582.0 1004.0,1608.4 1007.0,1612.3 1009.9,1607.4 1012.8,1614.3 1015.4,1639.7 1018.3,1577.1 1020.9,1612.3 1023.8,1614.3 1026.7,1608.4 1029.7,1629.9 1032.6,1623.1 1035.4,1622.1 1038.3,1575.1 1041.2,1611.3 1044.2,1612.3 1047.1,1594.7 1049.7,1584.9 1052.6,1606.4 1055.5,1579.0 1058.1,1581.0 1061.0,1594.7 1063.8,1600.6 1066.7,1597.6 1069.6,1602.5 1072.6,1602.5 1075.5,1600.6 1078.1,1580.0 1081.0,1594.7 1083.9,1622.1 1086.9,1587.8 1089.4,1569.2 1092.3,1608.4 1095.3,1569.2 1097.8,1607.4 1100.6,1584.9 1103.5,1565.3 1106.4,1575.1 1109.4,1579.0 1112.3,1586.9 1115.3,1553.6 1117.8,1565.3 1120.5,1547.7 1123.5,1573.2 1126.4,1564.3 1129.4,1571.2 1132.3,1552.6 1135.2,1561.4 1137.8,1589.8 1140.7,1569.2 1143.7,1584.9 1146.6,1567.3 1149.5,1569.2 1152.5,1580.0 1155.0,1582.0 1157.8,1577.1 1160.7,1587.8 1163.6,1587.8 1166.6,1576.1 1169.5,1577.1 1172.4,1569.2 1175.0,1575.1 1177.9,1575.1 1180.9,1561.4 1183.8,1541.8 1186.7,1561.4 1189.7,1577.1 1192.6,1565.3 1195.2,1582.0 1198.1,1585.9 1200.8,1576.1 1203.8,1585.9 1206.7,1582.0 1209.6,1561.4 1212.6,1562.4 1215.5,1547.7 1218.1,1558.5 1221.0,1568.3 1223.9,1571.2 1226.9,1557.5 1229.8,1569.2 1232.8,1556.5 1235.7,1558.5 1238.6,1543.8 1240.6,1552.5 1243.5,1560.9 1246.4,1563.2 1249.4,1574.0 1252.3,1573.0 1255.2,1575.0 1258.2,1605.3 1260.7,1599.5 1263.5,1557.8 1266.4,1566.2 1269.3,1560.3 1272.1,1565.2 1274.8,1565.2 1277.8,1572.0 1280.7,1582.8 1283.6,1576.0 1286.6,1584.8 1289.3,1584.8 1292.1,1598.5 1294.8,1600.4 1297.7,1572.0 1300.7,1577.9 1303.6,1555.4 1306.6,1573.0 1309.3,1565.2 1312.0,1577.9 1315.0,1571.1 1317.9,1567.2 1320.8,1584.4 1323.8,1571.1 1326.7,1542.7 1329.3,1572.0 1332.0,1574.0 1334.9,1549.5 1337.9,1548.5 1340.8,1559.3 1343.8,1563.2 1346.7,1556.4 1349.2,1555.4 1352.2,1565.2 1355.1,1536.8 1358.1,1553.4 1361.0,1567.2 1363.9,1560.3 1366.5,1565.2 1369.4,1571.1 1372.3,1579.3 1375.1,1569.1 1378.0,1567.5 1381.0,1567.2 1383.9,1554.4 1386.8,1575.0 1389.6,1564.2 1392.3,1551.5 1394.9,1566.2 1397.8,1542.7 1400.5,1544.6 1403.5,1552.5 1406.4,1553.4 1409.2,1545.6 1411.9,1564.2 1414.8,1547.6 1417.8,1565.2 1420.7,1546.6 1423.7,1535.4 1426.2,1555.4 1429.1,1528.4 1432.1,1533.9 1435.0,1550.5 1437.8,1543.7 1440.7,1563.2 1443.6,1536.8 1446.4,1559.3 1449.1,1534.3 1452.0,1555.4 1455.0,1545.2 1457.7,1557.4 1460.7,1566.8 1463.6,1556.4 1466.5,1534.3 1469.3,1525.1 1472.2,1520.2 1475.0,1539.3 1477.9,1517.8 1480.6,1531.9 1483.6,1523.1 1486.3,1551.9 1489.3,1521.7 1492.2,1557.0 1495.1,1555.0" fill="none" stroke="#cc0000" stroke-width="2.2" stroke-linejoin="round" marker-mid="url(#mred)" marker-end="url(#mred)"/>
<polyline points="946.3,1673.0 948.8,1625.1 951.7,1641.7 955.3,1626.0 958.6,1640.7 961.1,1619.2 966.4,1628.0 969.4,1581.0 972.3,1588.8 975.2,1598.6 978.2,1628.0 981.1,1604.5 986.0,1617.2 989.9,1590.8 992.5,1613.3 995.8,1607.4 998.2,1560.4 1001.1,1594.7 1003.6,1588.8 1007.6,1601.6 1010.1,1602.5 1012.5,1581.0 1015.4,1580.0 1018.3,1600.6 1020.9,1573.2 1024.2,1582.9 1027.1,1574.1 1030.1,1576.1 1032.0,1575.1 1035.4,1565.3 1038.5,1579.4 1041.8,1578.6 1045.7,1575.1 1049.7,1566.3 1052.6,1582.9 1055.5,1557.5 1058.1,1547.3 1061.0,1568.3 1063.8,1556.5 1066.9,1541.8 1069.2,1533.0 1072.2,1536.0 1075.1,1543.8 1078.1,1553.6 1080.6,1546.7 1083.5,1552.6 1086.5,1558.5 1089.8,1555.5 1092.3,1558.5 1095.3,1540.8 1097.8,1553.6 1100.6,1510.9 1103.5,1512.5 1106.4,1549.7 1109.4,1524.2 1112.3,1541.8 1115.3,1536.0 1118.2,1523.2 1121.1,1514.4 1123.7,1519.3 1126.4,1497.8 1129.4,1486.0 1132.3,1511.5 1134.8,1524.2 1137.8,1532.0 1140.1,1514.4 1143.7,1497.8 1146.6,1492.9 1149.5,1528.1 1152.5,1558.5 1155.0,1513.4 1157.8,1520.3 1160.7,1523.2 1163.6,1498.7 1166.6,1507.6 1169.1,1506.6 1172.0,1518.3 1175.0,1495.8 1177.9,1461.5 1180.9,1472.3 1183.8,1501.7 1186.7,1507.6 1189.1,1489.0 1192.2,1498.7 1195.0,1477.2 1198.1,1490.9 1200.8,1486.0 1203.8,1485.0 1206.3,1466.4 1209.3,1481.1 1212.2,1472.3 1215.1,1472.3 1217.7,1484.1 1220.4,1483.1 1223.5,1471.3 1226.3,1473.3 1229.2,1478.2 1232.2,1459.6 1235.3,1448.8 1237.6,1446.9 1240.0,1469.4 1243.5,1450.6 1246.4,1457.5 1249.4,1456.5 1252.3,1466.3 1255.2,1475.1 1258.2,1464.3 1260.7,1454.6 1263.5,1461.4 1266.4,1451.6 1269.3,1455.5 1272.1,1447.7 1274.8,1456.5 1277.8,1459.5 1280.7,1472.2 1283.6,1459.5 1286.6,1441.8 1289.3,1421.3 1292.1,1434.0 1294.8,1451.6 1297.7,1463.4 1300.7,1467.3 1303.6,1459.5 1306.6,1459.5 1309.3,1445.7 1312.0,1455.5 1315.0,1455.5 1317.9,1439.9 1320.8,1445.7 1323.8,1439.9 1326.7,1431.1 1329.3,1423.2 1332.0,1452.6 1334.9,1435.0 1337.9,1426.2 1340.8,1418.3 1343.8,1463.8 1346.7,1462.4 1349.2,1445.7 1352.2,1457.5 1355.1,1434.0 1358.1,1453.6 1361.0,1462.4 1363.9,1410.5 1366.9,1436.0 1369.8,1450.6 1372.3,1431.1 1375.1,1425.8 1378.0,1442.8 1381.0,1425.2 1383.9,1431.1 1386.8,1420.3 1389.6,1417.3 1392.3,1430.1 1394.9,1427.1 1397.8,1436.0 1400.5,1433.0 1403.5,1430.1 1406.4,1430.1 1409.2,1419.3 1411.9,1434.0 1414.8,1436.9 1417.8,1428.1 1420.7,1433.0 1423.7,1427.1 1426.2,1434.0 1429.1,1426.2 1432.1,1437.9 1435.0,1432.0 1437.8,1420.7 1440.7,1421.9 1443.6,1421.9 1446.4,1422.2 1449.1,1406.6 1452.0,1440.8 1455.0,1423.2 1457.7,1433.0 1460.7,1397.8 1463.6,1404.6 1466.5,1381.5 1469.3,1391.9 1472.2,1399.7 1475.0,1401.1 1477.9,1393.9 1480.6,1363.5 1483.6,1351.4 1486.3,1390.9 1489.3,1379.2 1492.2,1369.0 1495.1,1404.6" fill="none" stroke="#111" stroke-width="1.7" stroke-linejoin="round" marker-mid="url(#mblack)" marker-end="url(#mblack)"/>
<line x1="946.6" y1="1291.8" x2="946.6" y2="1675.8" stroke="#000" stroke-width="3.8" />
<line x1="935" y1="1674" x2="1520.3" y2="1674" stroke="#000" stroke-width="3.7" />
<line x1="946.0" y1="1674" x2="946.0" y2="1685" stroke="#000" stroke-width="3.2" />
<text x="946.0" y="1715.5" font-size="27" font-weight="bold" text-anchor="middle" >0</text>
<line x1="1060.5" y1="1674" x2="1060.5" y2="1685" stroke="#000" stroke-width="3.2" />
<text x="1060.5" y="1715.5" font-size="27" font-weight="bold" text-anchor="middle" >10</text>
<line x1="1175.0" y1="1674" x2="1175.0" y2="1685" stroke="#000" stroke-width="3.2" />
<text x="1175.0" y="1715.5" font-size="27" font-weight="bold" text-anchor="middle" >20</text>
<line x1="1289.5" y1="1674" x2="1289.5" y2="1685" stroke="#000" stroke-width="3.2" />
<text x="1289.5" y="1715.5" font-size="27" font-weight="bold" text-anchor="middle" >30</text>
<line x1="1404.0" y1="1674" x2="1404.0" y2="1685" stroke="#000" stroke-width="3.2" />
<text x="1404.0" y="1715.5" font-size="27" font-weight="bold" text-anchor="middle" >40</text>
<line x1="1518.5" y1="1674" x2="1518.5" y2="1685" stroke="#000" stroke-width="3.2" />
<text x="1518.5" y="1715.5" font-size="27" font-weight="bold" text-anchor="middle" >50</text>
<text x="1231" y="1760" font-size="30.6" font-weight="bold" text-anchor="middle" >time [h]</text>
<line x1="973.5" y1="1311.5" x2="1014.5" y2="1311.5" stroke="#111" stroke-width="2.0" />
<text x="1036.5" y="1321.3" font-size="30" font-weight="bold" text-anchor="start" >P0</text>
<line x1="973.5" y1="1363.5" x2="1014.5" y2="1363.5" stroke="#e86f6f" stroke-width="1.8" />
<text x="1036.5" y="1372.8" font-size="30" font-weight="bold" text-anchor="start" >P20</text>
<line x1="973.5" y1="1414" x2="1014.5" y2="1414" stroke="#cc0000" stroke-width="2.5" />
<text x="1036.5" y="1424.3" font-size="30" font-weight="bold" text-anchor="start" >P60</text>
<line x1="973.5" y1="1466" x2="1014.5" y2="1466" stroke="#808080" stroke-width="2.0" />
<text x="1036.5" y="1475.2" font-size="30" font-weight="bold" text-anchor="start" >H100</text>
<text transform="translate(8.3 1808.5) scale(0.93 1)" x="0" y="0" font-size="49" font-weight="bold" text-anchor="start">e</text>
<text x="185.4" y="1860.8" font-size="33.2" font-weight="bold" text-anchor="middle" >PBS</text>
<text x="591" y="1841" font-size="33.4" font-weight="bold" text-anchor="middle" >Plasma-treated</text>
<text x="591" y="1881" font-size="33.2" font-weight="bold" text-anchor="middle" >PBS</text>
<rect x="0.00" y="1902.50" width="372.80" height="373.00" fill="#000"/>
<filter id="blE0" x="-5%" y="-5%" width="110%" height="110%" filterUnits="objectBoundingBox"><feGaussianBlur stdDeviation="2.0"/></filter>
<clipPath id="cpE0"><rect x="0" y="1902.5" width="372.8" height="373"/></clipPath>
<g clip-path="url(#cpE0)"><g filter="url(#blE0)">
<polygon points="153.8,1932.5 161.1,1926.4 175.8,1928.9 192.9,1925.2 214.8,1922.8 229.5,1914.2 235.6,1913.0 236.8,1919.1 227.0,1927.6 214.8,1936.2 200.2,1941.1 185.5,1937.4 170.9,1935.0 158.7,1937.4" fill="#fff" fill-opacity="0.55" stroke="#fff" stroke-opacity="0.28" stroke-width="1.5" stroke-linejoin="round"/>
<path d="M-21.9,0Q0,-15.9 21.9,0Q0,15.9 -21.9,0Z" transform="translate(200.2 1932.5) rotate(-8.0)" fill="url(#cg)" fill-opacity="0.55"/>
<polygon points="7.3,1966.0 29.3,1966.7 41.5,1964.3 56.1,1965.0 70.8,1967.4 84.2,1960.6 97.7,1966.0 106.2,1971.6 92.8,1969.1 75.7,1972.8 64.7,1982.6 58.6,1996.0 48.8,1998.4 41.5,1989.9 39.1,1977.7 31.7,1971.6" fill="#fff" fill-opacity="0.5" stroke="#fff" stroke-opacity="0.25" stroke-width="1.5" stroke-linejoin="round"/>
<ellipse rx="16.4" ry="8.5" transform="translate(50.0 1972.8) rotate(5.0)" fill="url(#cg)" fill-opacity="0.44000000000000006"/>
<ellipse rx="7.8" ry="6.3" transform="translate(51.3 1987.0) rotate(0)" fill="#e58a24" fill-opacity="0.41" stroke="#e58a24" stroke-opacity="0.9" stroke-width="1.6"/>
<polygon points="84.2,2035.0 86.7,2024.1 94.0,2007.0 100.1,1992.3 109.9,1975.2 122.1,1955.7 133.0,1942.3 140.4,1941.1 140.4,1948.4 131.8,1958.1 119.6,1980.1 109.9,2004.5 100.1,2019.2 90.3,2031.4" fill="#fff" fill-opacity="0.55" stroke="#fff" stroke-opacity="0.28" stroke-width="1.5" stroke-linejoin="round"/>
<path d="M-30.1,0Q0,-8.5 30.1,0Q0,8.5 -30.1,0Z" transform="translate(107.4 1993.5) rotate(-60.0)" fill="url(#cg)" fill-opacity="0.385"/>
<ellipse rx="9.5" ry="7.9" transform="translate(125.7 2035.8) rotate(90.0)" fill="url(#cg)" fill-opacity="0.66"/>
<ellipse rx="3.7" ry="3.7" transform="translate(123.5 2036.8) rotate(0)" fill="#e58a24" fill-opacity="0.43" stroke="#e58a24" stroke-opacity="0.95" stroke-width="1.6"/>
<ellipse rx="3.1" ry="2.7" transform="translate(123.3 2036.8) rotate(90.0)" fill="url(#og)" fill-opacity="0.77"/>
<polygon points="185.5,1993.5 207.5,1994.3 234.4,1997.7 258.8,1997.2 275.9,1991.1 290.5,1988.7 305.2,1991.8 319.8,1996.0 327.1,1988.7 341.8,1989.9 363.7,1991.1 341.8,1994.3 334.5,2004.5 327.1,2009.4 317.4,1999.7 305.2,2002.1 288.1,2003.3 268.5,2000.9 244.1,1999.7 219.7,1998.4 195.3,1997.7" fill="#fff" fill-opacity="0.55" stroke="#fff" stroke-opacity="0.28" stroke-width="1.5" stroke-linejoin="round"/>
<path d="M-24.6,0Q0,-14.6 24.6,0Q0,14.6 -24.6,0Z" transform="translate(289.3 1996.0) rotate(0.0)" fill="url(#cg)" fill-opacity="0.66"/>
<ellipse rx="3.8" ry="3.4" transform="translate(328.3 1999.7) rotate(0.0)" fill="#000" fill-opacity="0.9900000000000001"/>
<polygon points="329.6,2009.4 335.7,2007.0 339.3,2019.2 346.7,2033.8 358.9,2053.4 366.2,2072.9 372.3,2092.4 372.3,2111.9 366.2,2121.7 363.7,2102.2 358.9,2082.7 349.1,2063.1 341.8,2048.5 336.9,2028.9" fill="#fff" fill-opacity="0.55" stroke="#fff" stroke-opacity="0.28" stroke-width="1.5" stroke-linejoin="round"/>
<path d="M-32.8,0Q0,-8.5 32.8,0Q0,8.5 -32.8,0Z" transform="translate(351.5 2053.4) rotate(66.0)" fill="url(#cg)" fill-opacity="0.33"/>
<polygon points="9.8,2053.4 17.1,2047.3 26.9,2048.5 36.6,2055.8 34.2,2033.8 39.1,2038.7 43.9,2048.5 61.0,2046.0 73.2,2043.6 63.5,2055.8 51.3,2070.4 45.2,2082.7 42.7,2090.0 40.3,2077.8 36.6,2070.4 24.4,2070.4 17.1,2060.7" fill="#fff" fill-opacity="0.55" stroke="#fff" stroke-opacity="0.28" stroke-width="1.5" stroke-linejoin="round"/>
<ellipse rx="12.3" ry="10.7" transform="translate(29.3 2060.7) rotate(0.0)" fill="url(#cg)" fill-opacity="0.77"/>
<ellipse rx="12.2" ry="10.9" transform="translate(81.8 2064.3) rotate(90.0)" fill="url(#cg)" fill-opacity="1"/>
<polygon points="45.2,2103.4 58.6,2101.0 70.8,2099.3 85.4,2102.2 101.3,2109.5 85.4,2112.4 70.8,2115.6 58.6,2111.9" fill="#fff" fill-opacity="0.55" stroke="#fff" stroke-opacity="0.28" stroke-width="1.5" stroke-linejoin="round"/>
<path d="M-19.1,0Q0,-11.0 19.1,0Q0,11.0 -19.1,0Z" transform="translate(73.2 2107.1) rotate(5.0)" fill="url(#cg)" fill-opacity="0.44000000000000006"/>
<polygon points="126.9,2116.8 133.0,2107.1 137.9,2097.3 146.5,2091.2 157.5,2090.0 158.7,2082.7 161.1,2092.4 168.4,2094.9 168.4,2104.6 158.7,2108.3 146.5,2109.5 136.7,2111.9" fill="#fff" fill-opacity="0.6" stroke="#fff" stroke-opacity="0.30" stroke-width="1.5" stroke-linejoin="round"/>
<ellipse rx="13.7" ry="10.1" transform="translate(147.7 2099.7) rotate(-10.0)" fill="url(#cg)" fill-opacity="1"/>
<polygon points="125.7,2151.0 136.7,2148.6 148.9,2138.8 156.2,2129.0 161.1,2119.3 168.4,2118.1 170.9,2129.0 175.8,2141.2 178.2,2146.1 168.4,2148.6 156.2,2151.0 141.6,2153.4 129.4,2155.9" fill="#fff" fill-opacity="0.5" stroke="#fff" stroke-opacity="0.25" stroke-width="1.5" stroke-linejoin="round"/>
<ellipse rx="16.4" ry="9.2" transform="translate(158.7 2141.2) rotate(-15.0)" fill="url(#cg)" fill-opacity="0.44000000000000006"/>
<polygon points="102.5,2096.1 106.2,2104.6 109.9,2121.7 112.3,2136.4 111.1,2153.4 109.9,2170.5 111.1,2182.7 107.4,2182.7 105.5,2165.7 102.5,2146.1 101.3,2129.0 102.0,2111.9" fill="#fff" fill-opacity="0.55" stroke="#fff" stroke-opacity="0.28" stroke-width="1.5" stroke-linejoin="round"/>
<polygon points="107.4,2182.7 114.7,2195.0 122.1,2198.6 136.7,2195.0 151.4,2185.2 161.1,2176.6 168.4,2179.1 161.1,2185.2 146.5,2195.0 137.9,2204.7 133.0,2214.5 124.5,2221.8 117.2,2231.6 114.7,2240.1 107.4,2237.7 109.9,2229.1 116.0,2216.9 117.2,2204.7 111.1,2195.0" fill="#fff" fill-opacity="0.55" stroke="#fff" stroke-opacity="0.28" stroke-width="1.5" stroke-linejoin="round"/>
<ellipse rx="12.8" ry="9.6" transform="translate(126.9 2204.7) rotate(110.0)" fill="url(#cg)" fill-opacity="0.44000000000000006"/>
<polygon points="225.8,2120.5 234.4,2122.9 249.0,2125.4 261.2,2121.7 273.4,2120.5 288.1,2122.9 302.7,2120.5 317.4,2114.4 332.0,2107.1 333.2,2111.9 319.8,2120.5 310.0,2125.4 293.0,2127.8 280.7,2132.7 268.5,2135.9 256.3,2132.7 244.1,2129.0 231.9,2126.6" fill="#fff" fill-opacity="0.55" stroke="#fff" stroke-opacity="0.28" stroke-width="1.5" stroke-linejoin="round"/>
<path d="M-19.1,0Q0,-12.2 19.1,0Q0,12.2 -19.1,0Z" transform="translate(271.0 2127.8) rotate(0.0)" fill="url(#cg)" fill-opacity="0.66"/>
<ellipse rx="12.8" ry="9.3" transform="translate(266.1 2103.4) rotate(90.0)" fill="url(#cg)" fill-opacity="0.44000000000000006"/>
<ellipse rx="5.9" ry="7.1" transform="translate(268.0 2102.2) rotate(0)" fill="#e58a24" fill-opacity="0.41" stroke="#e58a24" stroke-opacity="0.9" stroke-width="1.6"/>
<polygon points="266.1,2154.7 271.0,2165.7 278.3,2180.3 284.4,2195.0 293.0,2204.7 278.3,2207.2 263.7,2208.4 246.6,2203.5 234.4,2198.6 244.1,2190.1 251.4,2177.9 258.8,2165.7" fill="#fff" fill-opacity="0.5" stroke="#fff" stroke-opacity="0.25" stroke-width="1.5" stroke-linejoin="round"/>
<ellipse rx="17.7" ry="12.3" transform="translate(262.4 2182.7) rotate(90.0)" fill="url(#cg)" fill-opacity="1"/>
<polygon points="325.9,2130.3 335.7,2129.0 336.4,2146.1 334.0,2170.5 331.5,2190.1 327.6,2209.6 322.7,2229.1 315.4,2251.1 306.4,2275.5 296.6,2275.5 302.7,2253.5 305.6,2231.6 307.1,2212.0 310.5,2190.1 316.9,2165.7 322.2,2146.1" fill="#fff" fill-opacity="0.6" stroke="#fff" stroke-opacity="0.30" stroke-width="1.5" stroke-linejoin="round"/>
<path d="M-54.7,0Q0,-14.6 54.7,0Q0,14.6 -54.7,0Z" transform="translate(318.6 2202.3) rotate(-80.0)" fill="url(#cg)" fill-opacity="0.66"/>
<ellipse rx="9.5" ry="8.5" transform="translate(353.5 2188.8) rotate(90.0)" fill="url(#cg)" fill-opacity="1"/>
<ellipse rx="17.0" ry="15.3" transform="translate(351.5 2187.6) rotate(0.0)" fill="url(#cg)" fill-opacity="0.33"/>
<ellipse rx="10.4" ry="9.8" transform="translate(54.9 2185.7) rotate(90.0)" fill="url(#cg)" fill-opacity="0.8800000000000001"/>
<ellipse rx="3.4" ry="3.0" transform="translate(305.2 2096.8) rotate(90.0)" fill="url(#cg)" fill-opacity="0.55"/>
<ellipse rx="2.1" ry="1.9" transform="translate(281.2 1958.6) rotate(90.0)" fill="url(#cg)" fill-opacity="0.275"/>
<path d="M-19.7,0Q0,-4.3 19.7,0Q0,4.3 -19.7,0Z" transform="translate(280.7 2258.4) rotate(-60.0)" fill="url(#cg)" fill-opacity="0.44000000000000006"/>
<ellipse rx="12.2" ry="10.9" transform="translate(368.6 2268.2) rotate(60.0)" fill="url(#cg)" fill-opacity="0.77"/>
<path d="M-12.2,0Q0,-3.8 12.2,0Q0,3.8 -12.2,0Z" transform="translate(291.7 1913.0) rotate(70.0)" fill="url(#cg)" fill-opacity="0.385"/>
</g></g>
<rect x="403.60" y="1902.50" width="373.40" height="373.00" fill="#000"/>
<filter id="blE1" x="-5%" y="-5%" width="110%" height="110%" filterUnits="objectBoundingBox"><feGaussianBlur stdDeviation="1.8"/></filter>
<clipPath id="cpE1"><rect x="403.6" y="1902.5" width="373.4" height="373"/></clipPath>
<g clip-path="url(#cpE1)"><g filter="url(#blE1)">
<ellipse rx="11.6" ry="10.4" transform="translate(418.1 1924.5) rotate(90.0)" fill="url(#cg)" fill-opacity="0.462"/>
<ellipse rx="7.4" ry="6.1" transform="translate(415.7 1925.9) rotate(20.0)" fill="url(#og)" fill-opacity="0.935"/>
<ellipse rx="12.2" ry="10.9" transform="translate(466.0 1948.4) rotate(90.0)" fill="url(#cg)" fill-opacity="0.55"/>
<ellipse rx="8.5" ry="5.7" transform="translate(470.9 1948.9) rotate(90.0)" fill="url(#og)" fill-opacity="1"/>
<ellipse rx="11.6" ry="10.9" transform="translate(731.3 1919.1) rotate(90.0)" fill="url(#cg)" fill-opacity="0.528"/>
<ellipse rx="7.3" ry="5.7" transform="translate(735.0 1921.0) rotate(90.0)" fill="url(#og)" fill-opacity="0.9900000000000001"/>
<ellipse rx="14.6" ry="10.9" transform="translate(683.7 1949.6) rotate(90.0)" fill="url(#cg)" fill-opacity="0.49500000000000005"/>
<ellipse rx="5.8" ry="5.2" transform="translate(680.1 1945.9) rotate(90.0)" fill="url(#og)" fill-opacity="0.9900000000000001"/>
<ellipse rx="6.6" ry="6.4" transform="translate(685.0 1954.5) rotate(0.0)" fill="url(#og)" fill-opacity="0.9900000000000001"/>
<ellipse rx="7.3" ry="4.1" transform="translate(633.7 1955.2) rotate(90.0)" fill="url(#cg)" fill-opacity="0.66"/>
<ellipse rx="11.6" ry="9.6" transform="translate(728.9 1981.3) rotate(90.0)" fill="url(#cg)" fill-opacity="0.462"/>
<ellipse rx="7.3" ry="6.6" transform="translate(728.9 1978.9) rotate(90.0)" fill="url(#og)" fill-opacity="0.9900000000000001"/>
<ellipse rx="10.7" ry="9.6" transform="translate(446.9 2069.2) rotate(90.0)" fill="url(#cg)" fill-opacity="0.528"/>
<ellipse rx="7.3" ry="5.2" transform="translate(450.6 2070.0) rotate(90.0)" fill="url(#og)" fill-opacity="1"/>
<ellipse rx="11.6" ry="9.6" transform="translate(711.1 2069.2) rotate(90.0)" fill="url(#cg)" fill-opacity="0.528"/>
<ellipse rx="7.9" ry="5.2" transform="translate(715.5 2068.5) rotate(90.0)" fill="url(#og)" fill-opacity="1"/>
<ellipse rx="12.8" ry="9.6" transform="translate(636.1 2089.5) rotate(90.0)" fill="url(#cg)" fill-opacity="0.528"/>
<ellipse rx="7.9" ry="5.7" transform="translate(639.3 2092.9) rotate(90.0)" fill="url(#og)" fill-opacity="1"/>
<ellipse rx="3.0" ry="2.7" transform="translate(649.6 2083.9) rotate(0.0)" fill="url(#cg)" fill-opacity="0.33"/>
<ellipse rx="13.7" ry="9.3" transform="translate(446.9 2103.4) rotate(70.0)" fill="url(#cg)" fill-opacity="0.462"/>
<ellipse rx="7.3" ry="5.2" transform="translate(451.3 2106.6) rotate(90.0)" fill="url(#og)" fill-opacity="1"/>
<path d="M-7.6,0Q0,-2.2 7.6,0Q0,2.2 -7.6,0Z" transform="translate(437.2 2091.2) rotate(50.0)" fill="url(#cg)" fill-opacity="0.275"/>
<ellipse rx="12.3" ry="11.3" transform="translate(487.2 2165.7) rotate(20.0)" fill="url(#cg)" fill-opacity="0.41800000000000004"/>
<ellipse rx="7.6" ry="6.8" transform="translate(488.9 2167.6) rotate(90.0)" fill="url(#og)" fill-opacity="0.9900000000000001"/>
<ellipse rx="2.1" ry="1.9" transform="translate(502.6 2179.1) rotate(90.0)" fill="url(#cg)" fill-opacity="0.22000000000000003"/>
<polygon points="522.6,2103.4 529.9,2094.9 539.7,2085.1 549.5,2081.4 564.1,2083.9 578.8,2085.1 589.8,2082.7 588.5,2091.2 578.8,2094.9 564.1,2097.3 554.4,2101.0 544.6,2105.8 532.4,2105.8" fill="#fff" fill-opacity="0.55" stroke="#fff" stroke-opacity="0.28" stroke-width="1.5" stroke-linejoin="round"/>
<ellipse rx="14.2" ry="11.0" transform="translate(539.7 2096.1) rotate(-10.0)" fill="url(#cg)" fill-opacity="1"/>
<ellipse rx="21.4" ry="15.0" transform="translate(573.9 2205.9) rotate(110.0)" fill="url(#cg)" fill-opacity="0.66"/>
<ellipse rx="12.2" ry="8.2" transform="translate(573.9 2207.2) rotate(110.0)" fill="url(#cg)" fill-opacity="0.44000000000000006"/>
<path d="M-7.6,0Q0,-4.9 7.6,0Q0,4.9 -7.6,0Z" transform="translate(775.3 1920.3) rotate(90.0)" fill="url(#cg)" fill-opacity="0.33"/>
<path d="M-5.5,0Q0,-3.8 5.5,0Q0,3.8 -5.5,0Z" transform="translate(775.3 2019.2) rotate(90.0)" fill="url(#cg)" fill-opacity="0.33"/>
<ellipse rx="2.1" ry="1.9" transform="translate(669.1 2068.5) rotate(90.0)" fill="url(#cg)" fill-opacity="0.165"/>
<path d="M-4.1,0Q0,-1.8 4.1,0Q0,1.8 -4.1,0Z" transform="translate(683.7 2087.5) rotate(-50.0)" fill="url(#cg)" fill-opacity="0.165"/>
</g></g>
<rect x="12.00" y="2255.00" width="76.80" height="8.00" fill="#fff"/>
<rect x="417.70" y="2255.00" width="76.30" height="8.00" fill="#fff"/>
<text transform="translate(843 1808) scale(1.05 1)" x="0" y="0" font-size="49" font-weight="bold" text-anchor="start">f</text>
<text x="917" y="2056" font-size="27.1" font-weight="bold" text-anchor="middle" transform="rotate(-90 917 2056)" >PI+ cells (fold change)</text>
<line x1="948" y1="1888.75" x2="958" y2="1888.75" stroke="#000" stroke-width="3" />
<text x="945" y="1897.05" font-size="23.5" font-weight="bold" text-anchor="end" >4</text>
<line x1="948" y1="1972.4" x2="958" y2="1972.4" stroke="#000" stroke-width="3" />
<text x="945" y="1980.7" font-size="23.5" font-weight="bold" text-anchor="end" >3</text>
<line x1="948" y1="2056" x2="958" y2="2056" stroke="#000" stroke-width="3" />
<text x="945" y="2064.3" font-size="23.5" font-weight="bold" text-anchor="end" >2</text>
<line x1="948" y1="2139.6" x2="958" y2="2139.6" stroke="#000" stroke-width="3" />
<text x="945" y="2147.9" font-size="23.5" font-weight="bold" text-anchor="end" >1</text>
<line x1="948" y1="2222.8" x2="958" y2="2222.8" stroke="#000" stroke-width="3" />
<text x="945" y="2231.1000000000004" font-size="23.5" font-weight="bold" text-anchor="end" >0</text>
<line x1="969.5" y1="2139.6" x2="1460" y2="2139.6" stroke="#000" stroke-width="3.0" stroke-linecap="round" stroke-dasharray="0 11.25"/>
<line x1="981.80" y1="2108.75" x2="981.80" y2="2140.00" stroke="#000" stroke-width="1.5" />
<rect x="970.90" y="2140.90" width="21.80" height="81.90" fill="#1c1c1c" stroke="#0a0a0a" stroke-width="1.8"/>
<line x1="1018.60" y1="2057.50" x2="1018.60" y2="2083.25" stroke="#000" stroke-width="1.5" />
<rect x="1007.70" y="2084.15" width="21.80" height="138.65" fill="#ff6b6b" stroke="#0a0a0a" stroke-width="1.8"/>
<line x1="1055.40" y1="1973.75" x2="1055.40" y2="2023.00" stroke="#000" stroke-width="1.5" />
<rect x="1044.50" y="2023.90" width="21.80" height="198.90" fill="#d00000" stroke="#0a0a0a" stroke-width="1.8"/>
<line x1="1092.20" y1="1908.75" x2="1092.20" y2="1979.25" stroke="#000" stroke-width="1.5" />
<rect x="1081.30" y="1980.15" width="21.80" height="242.65" fill="#828282" stroke="#0a0a0a" stroke-width="1.8"/>
<line x1="1152.40" y1="2116.25" x2="1152.40" y2="2140.00" stroke="#000" stroke-width="1.5" />
<rect x="1141.50" y="2140.90" width="21.80" height="81.90" fill="#1c1c1c" stroke="#0a0a0a" stroke-width="1.8"/>
<line x1="1189.20" y1="2058.75" x2="1189.20" y2="2080.00" stroke="#000" stroke-width="1.5" />
<rect x="1178.30" y="2080.90" width="21.80" height="141.90" fill="#ff6b6b" stroke="#0a0a0a" stroke-width="1.8"/>
<line x1="1226.00" y1="1978.75" x2="1226.00" y2="2021.25" stroke="#000" stroke-width="1.5" />
<rect x="1215.10" y="2022.15" width="21.80" height="200.65" fill="#d00000" stroke="#0a0a0a" stroke-width="1.8"/>
<line x1="1262.80" y1="1909.50" x2="1262.80" y2="1980.00" stroke="#000" stroke-width="1.5" />
<rect x="1251.90" y="1980.90" width="21.80" height="241.90" fill="#828282" stroke="#0a0a0a" stroke-width="1.8"/>
<line x1="1323.00" y1="2124.50" x2="1323.00" y2="2140.00" stroke="#000" stroke-width="1.5" />
<rect x="1312.10" y="2140.90" width="21.80" height="81.90" fill="#1c1c1c" stroke="#0a0a0a" stroke-width="1.8"/>
<line x1="1359.80" y1="2093.25" x2="1359.80" y2="2107.50" stroke="#000" stroke-width="1.5" />
<rect x="1348.90" y="2108.40" width="21.80" height="114.40" fill="#ff6b6b" stroke="#0a0a0a" stroke-width="1.8"/>
<line x1="1396.60" y1="2029.50" x2="1396.60" y2="2059.25" stroke="#000" stroke-width="1.5" />
<rect x="1385.70" y="2060.15" width="21.80" height="162.65" fill="#d00000" stroke="#0a0a0a" stroke-width="1.8"/>
<line x1="1433.40" y1="1968.00" x2="1433.40" y2="2024.50" stroke="#000" stroke-width="1.5" />
<rect x="1422.50" y="2025.40" width="21.80" height="197.40" fill="#828282" stroke="#0a0a0a" stroke-width="1.8"/>
<line x1="958" y1="1887.3" x2="958" y2="2224.3" stroke="#000" stroke-width="3.2" />
<line x1="948" y1="2222.8" x2="1459.5" y2="2222.8" stroke="#000" stroke-width="3.2" />
<line x1="981.80" y1="2222.8" x2="981.80" y2="2232" stroke="#000" stroke-width="3" />
<text x="990.30" y="2237.5" font-size="23.6" font-weight="bold" text-anchor="end" transform="rotate(-90 990.30 2237.5)" >P0</text>
<line x1="1018.60" y1="2222.8" x2="1018.60" y2="2232" stroke="#000" stroke-width="3" />
<text x="1027.10" y="2237.5" font-size="23.6" font-weight="bold" text-anchor="end" transform="rotate(-90 1027.10 2237.5)" >P20</text>
<line x1="1055.40" y1="2222.8" x2="1055.40" y2="2232" stroke="#000" stroke-width="3" />
<text x="1063.90" y="2237.5" font-size="23.6" font-weight="bold" text-anchor="end" transform="rotate(-90 1063.90 2237.5)" >P60</text>
<line x1="1092.20" y1="2222.8" x2="1092.20" y2="2232" stroke="#000" stroke-width="3" />
<text x="1100.70" y="2237.5" font-size="23.6" font-weight="bold" text-anchor="end" transform="rotate(-90 1100.70 2237.5)" >H100</text>
<line x1="1152.40" y1="2222.8" x2="1152.40" y2="2232" stroke="#000" stroke-width="3" />
<text x="1160.90" y="2237.5" font-size="23.6" font-weight="bold" text-anchor="end" transform="rotate(-90 1160.90 2237.5)" >P0</text>
<line x1="1189.20" y1="2222.8" x2="1189.20" y2="2232" stroke="#000" stroke-width="3" />
<text x="1197.70" y="2237.5" font-size="23.6" font-weight="bold" text-anchor="end" transform="rotate(-90 1197.70 2237.5)" >P20</text>
<line x1="1226.00" y1="2222.8" x2="1226.00" y2="2232" stroke="#000" stroke-width="3" />
<text x="1234.50" y="2237.5" font-size="23.6" font-weight="bold" text-anchor="end" transform="rotate(-90 1234.50 2237.5)" >P60</text>
<line x1="1262.80" y1="2222.8" x2="1262.80" y2="2232" stroke="#000" stroke-width="3" />
<text x="1271.30" y="2237.5" font-size="23.6" font-weight="bold" text-anchor="end" transform="rotate(-90 1271.30 2237.5)" >H100</text>
<line x1="1323.00" y1="2222.8" x2="1323.00" y2="2232" stroke="#000" stroke-width="3" />
<text x="1331.50" y="2237.5" font-size="23.6" font-weight="bold" text-anchor="end" transform="rotate(-90 1331.50 2237.5)" >P0</text>
<line x1="1359.80" y1="2222.8" x2="1359.80" y2="2232" stroke="#000" stroke-width="3" />
<text x="1368.30" y="2237.5" font-size="23.6" font-weight="bold" text-anchor="end" transform="rotate(-90 1368.30 2237.5)" >P20</text>
<line x1="1396.60" y1="2222.8" x2="1396.60" y2="2232" stroke="#000" stroke-width="3" />
<text x="1405.10" y="2237.5" font-size="23.6" font-weight="bold" text-anchor="end" transform="rotate(-90 1405.10 2237.5)" >P60</text>
<line x1="1433.40" y1="2222.8" x2="1433.40" y2="2232" stroke="#000" stroke-width="3" />
<text x="1441.90" y="2237.5" font-size="23.6" font-weight="bold" text-anchor="end" transform="rotate(-90 1441.90 2237.5)" >H100</text>
<text x="1033.1" y="1912" font-size="26.6" font-weight="bold" text-anchor="middle" >4h</text>
<text x="1204.8" y="1912" font-size="26.6" font-weight="bold" text-anchor="middle" >24h</text>
<text x="1376.5" y="1912" font-size="26.6" font-weight="bold" text-anchor="middle" >48h</text>
</svg></body></html>
